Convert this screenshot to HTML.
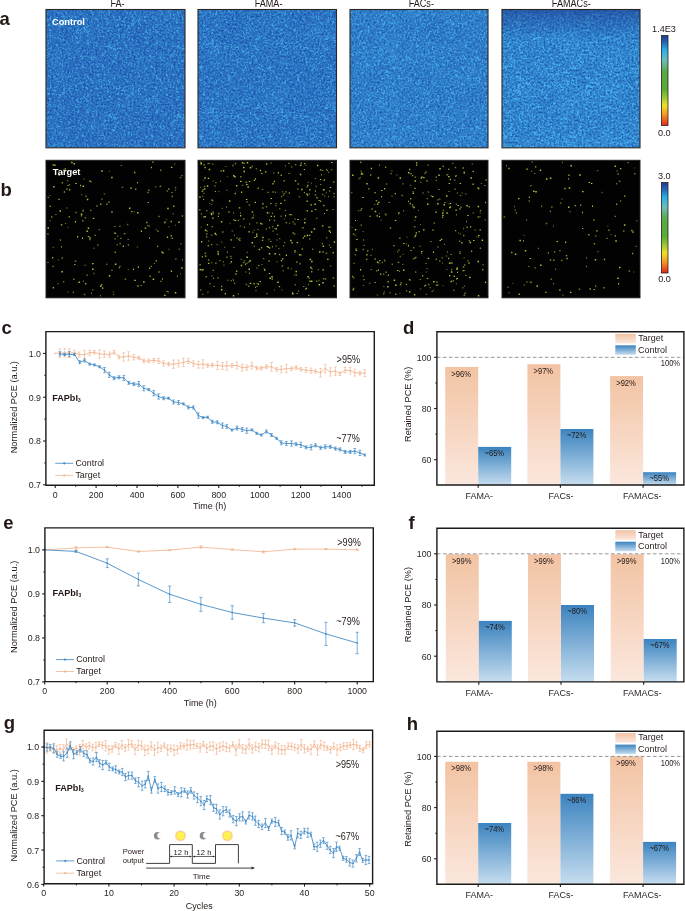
<!DOCTYPE html>
<html><head><meta charset="utf-8"><style>
html,body{margin:0;padding:0;background:#fff;}
body{width:685px;height:911px;overflow:hidden;}
svg{display:block;font-family:"Liberation Sans", sans-serif;filter:blur(0.35px);}
</style></head><body>
<svg width="685" height="911" viewBox="0 0 685 911">
<defs><filter id="na1" x="0" y="0" width="100%" height="100%" filterUnits="objectBoundingBox" color-interpolation-filters="sRGB"><feTurbulence type="fractalNoise" baseFrequency="0.5" numOctaves="2" seed="3" result="f0"/><feColorMatrix in="f0" type="matrix" values="1 0 0 0 0 1 0 0 0 0 1 0 0 0 0 0 0 0 0 1" result="f"/><feTurbulence type="fractalNoise" baseFrequency="0.045" numOctaves="2" seed="21" result="c0"/><feColorMatrix in="c0" type="matrix" values="1 0 0 0 0 1 0 0 0 0 1 0 0 0 0 0 0 0 0 1" result="c"/><feComposite in="f" in2="c" operator="arithmetic" k1="0" k2="0.88" k3="0.12" k4="0" result="n"/><feColorMatrix in="n" type="matrix" values="0.1961 0 0 0 0.0667 0.4706 0 0 0 0.1961 0.2941 0 0 0 0.6020 0 0 0 0 1"/></filter><filter id="na2" x="0" y="0" width="100%" height="100%" filterUnits="objectBoundingBox" color-interpolation-filters="sRGB"><feTurbulence type="fractalNoise" baseFrequency="0.5" numOctaves="2" seed="5" result="f0"/><feColorMatrix in="f0" type="matrix" values="1 0 0 0 0 1 0 0 0 0 1 0 0 0 0 0 0 0 0 1" result="f"/><feTurbulence type="fractalNoise" baseFrequency="0.045" numOctaves="2" seed="22" result="c0"/><feColorMatrix in="c0" type="matrix" values="1 0 0 0 0 1 0 0 0 0 1 0 0 0 0 0 0 0 0 1" result="c"/><feComposite in="f" in2="c" operator="arithmetic" k1="0" k2="0.88" k3="0.12" k4="0" result="n"/><feColorMatrix in="n" type="matrix" values="0.2157 0 0 0 0.0608 0.4902 0 0 0 0.1980 0.2941 0 0 0 0.6098 0 0 0 0 1"/></filter><filter id="na3" x="0" y="0" width="100%" height="100%" filterUnits="objectBoundingBox" color-interpolation-filters="sRGB"><feTurbulence type="fractalNoise" baseFrequency="0.5" numOctaves="2" seed="9" result="f0"/><feColorMatrix in="f0" type="matrix" values="1 0 0 0 0 1 0 0 0 0 1 0 0 0 0 0 0 0 0 1" result="f"/><feTurbulence type="fractalNoise" baseFrequency="0.045" numOctaves="2" seed="23" result="c0"/><feColorMatrix in="c0" type="matrix" values="1 0 0 0 0 1 0 0 0 0 1 0 0 0 0 0 0 0 0 1" result="c"/><feComposite in="f" in2="c" operator="arithmetic" k1="0" k2="0.88" k3="0.12" k4="0" result="n"/><feColorMatrix in="n" type="matrix" values="0.2353 0 0 0 0.0627 0.5098 0 0 0 0.2235 0.3137 0 0 0 0.6196 0 0 0 0 1"/></filter><filter id="na4" x="0" y="0" width="100%" height="100%" filterUnits="objectBoundingBox" color-interpolation-filters="sRGB"><feTurbulence type="fractalNoise" baseFrequency="0.5" numOctaves="2" seed="11" result="f0"/><feColorMatrix in="f0" type="matrix" values="1 0 0 0 0 1 0 0 0 0 1 0 0 0 0 0 0 0 0 1" result="f"/><feTurbulence type="fractalNoise" baseFrequency="0.045" numOctaves="2" seed="24" result="c0"/><feColorMatrix in="c0" type="matrix" values="1 0 0 0 0 1 0 0 0 0 1 0 0 0 0 0 0 0 0 1" result="c"/><feComposite in="f" in2="c" operator="arithmetic" k1="0" k2="0.88" k3="0.12" k4="0" result="n"/><feColorMatrix in="n" type="matrix" values="0.2745 0 0 0 0.0510 0.6078 0 0 0 0.2020 0.3725 0 0 0 0.6098 0 0 0 0 1"/></filter><pattern id="sp1" patternUnits="userSpaceOnUse" width="69" height="69"><path d="M7 0h1v1h-1zM22 0h1v1h-1zM50 0h1v1h-1zM6 1h1v1h-1zM21 1h2v1h-2zM35 1h1v1h-1zM50 1h1v1h-1zM3 2h1v1h-1zM62 2h1v1h-1zM3 3h1v1h-1zM37 3h1v1h-1zM15 4h1v1h-1zM22 4h1v1h-1zM30 4h1v1h-1zM35 4h1v1h-1zM54 4h1v1h-1zM58 4h1v1h-1zM61 4h1v1h-1zM8 5h2v1h-2zM15 5h2v1h-2zM31 5h2v1h-2zM35 5h1v1h-1zM38 5h1v1h-1zM61 5h1v1h-1zM1 6h1v1h-1zM9 6h1v1h-1zM15 6h1v1h-1zM43 6h1v1h-1zM45 6h2v1h-2zM49 6h1v1h-1zM61 6h1v1h-1zM68 6h1v1h-1zM0 7h1v1h-1zM4 7h1v1h-1zM9 7h1v1h-1zM40 7h1v1h-1zM50 7h1v1h-1zM53 7h1v1h-1zM55 7h1v1h-1zM63 7h1v1h-1zM66 7h1v1h-1zM3 8h1v1h-1zM10 8h1v1h-1zM18 8h1v1h-1zM30 8h1v1h-1zM66 8h2v1h-2zM10 9h1v1h-1zM20 9h1v1h-1zM22 9h1v1h-1zM54 9h1v1h-1zM62 9h1v1h-1zM2 10h1v1h-1zM19 10h1v1h-1zM30 10h1v1h-1zM40 10h1v1h-1zM45 10h1v1h-1zM55 10h1v1h-1zM62 10h1v1h-1zM11 11h1v1h-1zM30 11h1v1h-1zM34 11h2v1h-2zM46 11h1v1h-1zM50 11h1v1h-1zM5 12h1v1h-1zM13 12h1v1h-1zM17 12h1v1h-1zM23 12h2v1h-2zM29 12h1v1h-1zM40 12h1v1h-1zM59 12h1v1h-1zM12 13h1v1h-1zM22 13h2v1h-2zM28 13h1v1h-1zM40 13h1v1h-1zM47 13h1v1h-1zM58 13h1v1h-1zM60 13h1v1h-1zM9 14h3v1h-3zM35 14h1v1h-1zM63 14h1v1h-1zM1 15h1v1h-1zM29 15h2v1h-2zM32 15h1v1h-1zM40 15h1v1h-1zM43 15h1v1h-1zM63 15h1v1h-1zM7 16h1v1h-1zM64 16h1v1h-1zM67 16h1v1h-1zM1 17h2v1h-2zM13 17h1v1h-1zM21 17h1v1h-1zM26 17h1v1h-1zM32 17h1v1h-1zM62 17h2v1h-2zM65 17h1v1h-1zM11 18h1v1h-1zM18 18h1v1h-1zM27 18h1v1h-1zM36 18h1v1h-1zM44 18h3v1h-3zM51 18h1v1h-1zM54 18h1v1h-1zM56 18h1v1h-1zM4 19h1v1h-1zM17 19h1v1h-1zM28 19h1v1h-1zM36 19h1v1h-1zM38 19h1v1h-1zM45 19h1v1h-1zM48 19h2v1h-2zM54 19h1v1h-1zM59 19h1v1h-1zM63 19h1v1h-1zM38 20h2v1h-2zM48 20h1v1h-1zM54 20h1v1h-1zM64 20h1v1h-1zM8 21h1v1h-1zM37 21h2v1h-2zM52 21h1v1h-1zM59 21h1v1h-1zM63 21h2v1h-2zM66 21h2v1h-2zM0 22h1v1h-1zM15 22h1v1h-1zM20 22h1v1h-1zM23 22h1v1h-1zM25 22h1v1h-1zM35 22h1v1h-1zM42 22h1v1h-1zM63 22h1v1h-1zM66 22h1v1h-1zM1 23h1v1h-1zM38 23h2v1h-2zM44 23h1v1h-1zM49 23h1v1h-1zM61 23h1v1h-1zM63 23h1v1h-1zM15 24h1v1h-1zM24 24h1v1h-1zM62 24h1v1h-1zM8 25h1v1h-1zM16 25h1v1h-1zM28 25h2v1h-2zM38 25h1v1h-1zM47 25h1v1h-1zM55 25h1v1h-1zM59 25h2v1h-2zM63 25h1v1h-1zM8 26h1v1h-1zM15 26h1v1h-1zM19 26h1v1h-1zM22 26h1v1h-1zM28 26h1v1h-1zM33 26h1v1h-1zM64 26h1v1h-1zM18 27h1v1h-1zM32 27h1v1h-1zM39 27h1v1h-1zM59 27h2v1h-2zM66 27h1v1h-1zM0 28h2v1h-2zM4 28h1v1h-1zM24 28h1v1h-1zM29 28h1v1h-1zM42 28h1v1h-1zM59 28h1v1h-1zM12 29h1v1h-1zM15 29h1v1h-1zM21 29h1v1h-1zM27 29h1v1h-1zM30 29h2v1h-2zM48 29h1v1h-1zM58 29h1v1h-1zM64 29h1v1h-1zM7 30h1v1h-1zM40 30h1v1h-1zM50 30h1v1h-1zM8 31h1v1h-1zM12 31h1v1h-1zM14 31h1v1h-1zM17 31h2v1h-2zM20 31h1v1h-1zM38 31h1v1h-1zM43 31h1v1h-1zM57 31h1v1h-1zM59 31h1v1h-1zM11 32h2v1h-2zM17 32h1v1h-1zM19 32h1v1h-1zM60 32h1v1h-1zM1 33h1v1h-1zM5 33h1v1h-1zM9 33h3v1h-3zM13 33h1v1h-1zM19 33h1v1h-1zM21 33h1v1h-1zM46 33h1v1h-1zM49 33h2v1h-2zM54 33h1v1h-1zM56 33h1v1h-1zM5 34h1v1h-1zM11 34h1v1h-1zM21 34h3v1h-3zM43 34h1v1h-1zM47 34h1v1h-1zM49 34h1v1h-1zM63 34h1v1h-1zM2 35h1v1h-1zM6 35h1v1h-1zM34 35h1v1h-1zM48 35h1v1h-1zM58 35h3v1h-3zM63 35h1v1h-1zM6 36h1v1h-1zM16 36h1v1h-1zM18 36h1v1h-1zM29 36h1v1h-1zM31 36h1v1h-1zM33 36h1v1h-1zM35 36h1v1h-1zM52 36h2v1h-2zM55 36h1v1h-1zM58 36h1v1h-1zM61 36h1v1h-1zM10 37h1v1h-1zM20 37h1v1h-1zM34 37h1v1h-1zM55 37h1v1h-1zM57 37h2v1h-2zM0 38h1v1h-1zM8 38h1v1h-1zM10 38h1v1h-1zM34 38h1v1h-1zM36 38h1v1h-1zM44 38h1v1h-1zM63 38h1v1h-1zM68 38h1v1h-1zM16 39h1v1h-1zM20 39h1v1h-1zM42 39h1v1h-1zM62 39h1v1h-1zM3 40h1v1h-1zM13 40h1v1h-1zM18 40h1v1h-1zM48 40h1v1h-1zM63 40h1v1h-1zM67 40h1v1h-1zM3 41h1v1h-1zM8 41h1v1h-1zM18 41h1v1h-1zM20 41h2v1h-2zM42 41h1v1h-1zM55 41h1v1h-1zM61 41h1v1h-1zM67 41h1v1h-1zM6 42h3v1h-3zM10 42h1v1h-1zM24 42h2v1h-2zM27 42h1v1h-1zM32 42h1v1h-1zM54 42h1v1h-1zM17 43h1v1h-1zM27 43h2v1h-2zM31 43h1v1h-1zM35 43h1v1h-1zM56 43h1v1h-1zM66 43h3v1h-3zM0 44h1v1h-1zM4 44h1v1h-1zM25 44h1v1h-1zM27 44h2v1h-2zM35 44h1v1h-1zM7 45h1v1h-1zM19 45h1v1h-1zM44 45h2v1h-2zM57 45h2v1h-2zM63 45h1v1h-1zM5 46h1v1h-1zM17 46h1v1h-1zM24 46h1v1h-1zM27 46h1v1h-1zM35 46h1v1h-1zM37 46h1v1h-1zM41 46h1v1h-1zM39 47h2v1h-2zM57 47h1v1h-1zM10 48h2v1h-2zM25 48h1v1h-1zM30 48h1v1h-1zM33 48h1v1h-1zM38 48h2v1h-2zM41 48h1v1h-1zM50 48h1v1h-1zM62 48h2v1h-2zM1 49h1v1h-1zM18 49h1v1h-1zM30 49h1v1h-1zM39 49h1v1h-1zM45 49h1v1h-1zM5 50h1v1h-1zM30 50h1v1h-1zM36 50h1v1h-1zM43 50h1v1h-1zM9 51h1v1h-1zM13 51h1v1h-1zM16 51h1v1h-1zM25 51h1v1h-1zM37 51h1v1h-1zM49 51h1v1h-1zM3 52h1v1h-1zM14 52h1v1h-1zM25 52h1v1h-1zM35 52h1v1h-1zM49 52h1v1h-1zM67 52h1v1h-1zM8 53h1v1h-1zM12 53h1v1h-1zM34 53h2v1h-2zM61 53h1v1h-1zM5 54h1v1h-1zM11 54h1v1h-1zM23 54h1v1h-1zM32 54h1v1h-1zM46 54h1v1h-1zM48 54h2v1h-2zM65 54h2v1h-2zM11 55h1v1h-1zM22 55h1v1h-1zM30 55h1v1h-1zM32 55h2v1h-2zM41 55h2v1h-2zM47 55h1v1h-1zM68 55h1v1h-1zM25 56h1v1h-1zM33 56h1v1h-1zM40 56h1v1h-1zM56 56h2v1h-2zM3 57h2v1h-2zM6 57h1v1h-1zM26 57h1v1h-1zM32 57h1v1h-1zM40 57h1v1h-1zM47 57h1v1h-1zM52 57h2v1h-2zM1 58h2v1h-2zM9 58h1v1h-1zM13 58h2v1h-2zM16 58h1v1h-1zM23 58h1v1h-1zM26 58h1v1h-1zM29 58h1v1h-1zM52 58h1v1h-1zM56 58h1v1h-1zM2 59h1v1h-1zM5 59h1v1h-1zM11 59h2v1h-2zM22 59h2v1h-2zM29 59h1v1h-1zM37 59h1v1h-1zM50 59h1v1h-1zM57 59h1v1h-1zM4 60h1v1h-1zM23 60h1v1h-1zM25 60h1v1h-1zM36 60h1v1h-1zM42 60h1v1h-1zM45 60h1v1h-1zM55 60h1v1h-1zM1 61h1v1h-1zM19 61h2v1h-2zM22 61h1v1h-1zM55 61h1v1h-1zM68 61h1v1h-1zM43 62h2v1h-2zM57 62h1v1h-1zM60 62h1v1h-1zM67 62h2v1h-2zM24 63h1v1h-1zM30 63h1v1h-1zM32 63h1v1h-1zM41 63h1v1h-1zM53 63h1v1h-1zM65 63h1v1h-1zM27 64h1v1h-1zM33 64h2v1h-2zM42 64h1v1h-1zM52 64h1v1h-1zM55 64h1v1h-1zM60 64h1v1h-1zM62 64h1v1h-1zM28 65h1v1h-1zM34 65h1v1h-1zM48 65h1v1h-1zM54 65h1v1h-1zM58 65h2v1h-2zM12 66h1v1h-1zM25 66h1v1h-1zM28 66h2v1h-2zM31 66h2v1h-2zM52 66h1v1h-1zM56 66h1v1h-1zM68 66h1v1h-1zM7 67h3v1h-3zM15 67h2v1h-2zM52 67h1v1h-1zM4 68h1v1h-1zM33 68h1v1h-1zM35 68h1v1h-1zM38 68h1v1h-1zM60 68h1v1h-1z" fill="rgb(70, 178, 232)" fill-opacity="0.385"/><path d="M30 0h1v1h-1zM33 0h1v1h-1zM39 1h1v1h-1zM55 1h1v1h-1zM17 2h1v1h-1zM28 2h1v1h-1zM45 2h1v1h-1zM63 2h1v1h-1zM0 3h1v1h-1zM66 3h1v1h-1zM0 4h1v1h-1zM25 5h1v1h-1zM28 5h1v1h-1zM36 5h1v1h-1zM58 5h1v1h-1zM16 6h1v1h-1zM18 6h1v1h-1zM28 6h2v1h-2zM35 6h1v1h-1zM48 6h1v1h-1zM1 7h1v1h-1zM18 7h1v1h-1zM29 7h1v1h-1zM41 7h1v1h-1zM54 7h1v1h-1zM62 7h1v1h-1zM15 8h1v1h-1zM19 8h1v1h-1zM45 8h1v1h-1zM50 8h1v1h-1zM53 8h1v1h-1zM58 8h1v1h-1zM68 8h1v1h-1zM6 9h2v1h-2zM19 9h1v1h-1zM45 9h1v1h-1zM21 10h2v1h-2zM31 10h1v1h-1zM56 10h1v1h-1zM8 11h1v1h-1zM22 11h1v1h-1zM39 11h1v1h-1zM30 12h1v1h-1zM32 12h1v1h-1zM39 12h1v1h-1zM41 12h1v1h-1zM57 12h2v1h-2zM61 12h1v1h-1zM66 12h1v1h-1zM14 13h1v1h-1zM12 14h1v1h-1zM18 14h1v1h-1zM23 14h2v1h-2zM40 14h1v1h-1zM54 14h1v1h-1zM66 14h1v1h-1zM35 15h1v1h-1zM0 16h1v1h-1zM6 16h1v1h-1zM32 16h1v1h-1zM44 16h1v1h-1zM50 16h1v1h-1zM61 16h1v1h-1zM63 16h1v1h-1zM6 17h2v1h-2zM44 17h1v1h-1zM50 17h1v1h-1zM56 17h2v1h-2zM14 18h1v1h-1zM16 18h2v1h-2zM32 18h1v1h-1zM35 18h1v1h-1zM38 18h1v1h-1zM50 18h1v1h-1zM55 18h1v1h-1zM64 18h1v1h-1zM0 19h2v1h-2zM18 19h1v1h-1zM26 19h2v1h-2zM29 19h1v1h-1zM44 19h1v1h-1zM47 19h1v1h-1zM50 19h1v1h-1zM64 19h1v1h-1zM0 20h1v1h-1zM6 20h2v1h-2zM18 20h1v1h-1zM22 20h1v1h-1zM28 20h1v1h-1zM47 20h1v1h-1zM63 20h1v1h-1zM0 21h1v1h-1zM7 21h1v1h-1zM22 21h1v1h-1zM53 21h3v1h-3zM1 22h1v1h-1zM38 22h2v1h-2zM46 22h1v1h-1zM55 22h1v1h-1zM8 23h1v1h-1zM31 23h1v1h-1zM62 23h1v1h-1zM64 23h1v1h-1zM2 24h1v1h-1zM18 24h1v1h-1zM28 24h1v1h-1zM48 24h2v1h-2zM52 24h2v1h-2zM63 24h2v1h-2zM2 25h1v1h-1zM19 25h1v1h-1zM46 25h1v1h-1zM48 25h2v1h-2zM52 25h1v1h-1zM56 25h1v1h-1zM58 25h1v1h-1zM62 25h1v1h-1zM18 26h1v1h-1zM29 26h1v1h-1zM59 26h2v1h-2zM0 27h1v1h-1zM14 27h2v1h-2zM17 27h1v1h-1zM33 27h1v1h-1zM40 27h2v1h-2zM15 28h1v1h-1zM36 28h1v1h-1zM40 28h1v1h-1zM58 28h1v1h-1zM8 29h1v1h-1zM11 29h1v1h-1zM16 29h1v1h-1zM49 29h2v1h-2zM8 30h1v1h-1zM11 30h1v1h-1zM17 30h1v1h-1zM30 30h1v1h-1zM38 30h2v1h-2zM42 30h1v1h-1zM49 30h1v1h-1zM7 31h1v1h-1zM15 31h1v1h-1zM19 31h1v1h-1zM33 31h1v1h-1zM39 31h1v1h-1zM63 31h1v1h-1zM8 32h2v1h-2zM18 32h1v1h-1zM30 32h1v1h-1zM59 32h1v1h-1zM4 33h1v1h-1zM42 33h1v1h-1zM28 34h1v1h-1zM18 35h1v1h-1zM49 35h2v1h-2zM53 35h1v1h-1zM3 36h1v1h-1zM28 36h1v1h-1zM34 36h1v1h-1zM41 36h1v1h-1zM45 36h1v1h-1zM50 36h1v1h-1zM6 37h3v1h-3zM11 37h1v1h-1zM47 37h1v1h-1zM50 37h1v1h-1zM54 37h1v1h-1zM7 38h1v1h-1zM25 38h1v1h-1zM60 38h1v1h-1zM60 39h1v1h-1zM63 39h1v1h-1zM19 40h1v1h-1zM9 41h1v1h-1zM9 42h1v1h-1zM18 42h2v1h-2zM23 42h1v1h-1zM40 42h1v1h-1zM48 42h1v1h-1zM8 43h2v1h-2zM18 43h2v1h-2zM48 43h1v1h-1zM17 44h1v1h-1zM41 44h1v1h-1zM47 44h1v1h-1zM57 44h1v1h-1zM13 45h1v1h-1zM27 45h1v1h-1zM33 45h1v1h-1zM39 45h2v1h-2zM56 45h1v1h-1zM64 45h1v1h-1zM36 46h1v1h-1zM39 46h2v1h-2zM45 46h1v1h-1zM24 47h1v1h-1zM41 47h2v1h-2zM51 47h1v1h-1zM60 47h1v1h-1zM9 48h1v1h-1zM42 48h1v1h-1zM44 48h3v1h-3zM48 48h1v1h-1zM51 48h1v1h-1zM31 49h1v1h-1zM44 49h1v1h-1zM46 49h2v1h-2zM54 49h1v1h-1zM65 49h1v1h-1zM1 50h1v1h-1zM46 50h1v1h-1zM60 50h1v1h-1zM10 51h1v1h-1zM36 51h1v1h-1zM39 51h1v1h-1zM18 52h1v1h-1zM36 52h1v1h-1zM60 52h2v1h-2zM68 52h1v1h-1zM0 53h1v1h-1zM18 53h1v1h-1zM23 53h1v1h-1zM48 53h1v1h-1zM0 54h1v1h-1zM33 54h1v1h-1zM55 54h1v1h-1zM12 55h1v1h-1zM34 55h1v1h-1zM38 55h1v1h-1zM44 55h1v1h-1zM46 55h1v1h-1zM61 55h1v1h-1zM11 56h2v1h-2zM15 56h1v1h-1zM22 56h1v1h-1zM35 56h1v1h-1zM5 57h1v1h-1zM13 57h1v1h-1zM21 57h2v1h-2zM24 57h2v1h-2zM46 57h1v1h-1zM57 57h3v1h-3zM0 58h1v1h-1zM22 58h1v1h-1zM45 58h2v1h-2zM68 58h1v1h-1zM24 59h1v1h-1zM36 59h1v1h-1zM51 59h1v1h-1zM10 60h1v1h-1zM43 60h2v1h-2zM11 61h1v1h-1zM44 61h2v1h-2zM55 62h1v1h-1zM29 63h1v1h-1zM40 63h1v1h-1zM47 63h1v1h-1zM60 63h1v1h-1zM62 63h1v1h-1zM23 64h1v1h-1zM59 64h1v1h-1zM6 65h1v1h-1zM13 65h1v1h-1zM33 65h1v1h-1zM62 65h1v1h-1zM65 65h1v1h-1zM13 66h2v1h-2zM33 66h2v1h-2zM62 66h1v1h-1zM13 67h2v1h-2zM35 67h1v1h-1zM7 68h2v1h-2zM39 68h1v1h-1zM53 68h1v1h-1zM67 68h1v1h-1z" fill="rgb(70, 178, 232)" fill-opacity="0.7"/></pattern><pattern id="sp2" patternUnits="userSpaceOnUse" width="69" height="69"><path d="M5 0h1v1h-1zM26 0h1v1h-1zM36 0h2v1h-2zM53 0h1v1h-1zM63 0h1v1h-1zM8 1h1v1h-1zM19 1h1v1h-1zM21 1h1v1h-1zM34 1h1v1h-1zM48 1h1v1h-1zM55 1h1v1h-1zM62 1h1v1h-1zM67 1h1v1h-1zM9 2h1v1h-1zM13 2h1v1h-1zM19 2h2v1h-2zM36 2h1v1h-1zM6 3h1v1h-1zM14 3h1v1h-1zM18 3h1v1h-1zM28 3h1v1h-1zM49 3h2v1h-2zM2 4h1v1h-1zM6 4h1v1h-1zM14 4h1v1h-1zM17 4h1v1h-1zM24 4h1v1h-1zM28 4h2v1h-2zM50 4h1v1h-1zM57 4h1v1h-1zM3 5h2v1h-2zM7 5h1v1h-1zM9 5h1v1h-1zM20 5h1v1h-1zM22 5h1v1h-1zM41 5h1v1h-1zM53 5h1v1h-1zM23 6h1v1h-1zM37 6h1v1h-1zM47 6h1v1h-1zM56 6h1v1h-1zM1 7h1v1h-1zM23 7h2v1h-2zM51 7h1v1h-1zM68 7h1v1h-1zM13 8h1v1h-1zM18 8h1v1h-1zM37 8h1v1h-1zM43 8h1v1h-1zM51 8h1v1h-1zM58 8h1v1h-1zM68 8h1v1h-1zM11 9h1v1h-1zM37 9h1v1h-1zM41 9h2v1h-2zM45 9h1v1h-1zM58 9h1v1h-1zM63 9h1v1h-1zM1 10h1v1h-1zM11 10h2v1h-2zM31 10h1v1h-1zM33 10h1v1h-1zM46 10h1v1h-1zM57 10h1v1h-1zM2 11h2v1h-2zM21 11h1v1h-1zM23 11h1v1h-1zM32 11h1v1h-1zM44 11h1v1h-1zM56 11h1v1h-1zM1 12h1v1h-1zM14 12h2v1h-2zM23 12h2v1h-2zM27 12h1v1h-1zM56 12h1v1h-1zM6 13h3v1h-3zM14 13h1v1h-1zM23 13h1v1h-1zM43 13h1v1h-1zM48 13h2v1h-2zM54 13h1v1h-1zM63 13h1v1h-1zM67 13h1v1h-1zM5 14h2v1h-2zM8 14h1v1h-1zM20 14h1v1h-1zM27 14h1v1h-1zM37 14h1v1h-1zM55 14h1v1h-1zM63 14h1v1h-1zM67 14h2v1h-2zM6 15h1v1h-1zM8 15h1v1h-1zM40 15h1v1h-1zM65 15h1v1h-1zM47 16h1v1h-1zM62 16h1v1h-1zM1 17h1v1h-1zM28 17h1v1h-1zM36 17h1v1h-1zM52 17h1v1h-1zM54 17h1v1h-1zM12 18h1v1h-1zM35 18h1v1h-1zM43 18h1v1h-1zM45 18h1v1h-1zM52 18h1v1h-1zM54 18h1v1h-1zM58 18h1v1h-1zM7 19h1v1h-1zM16 19h1v1h-1zM45 19h1v1h-1zM51 19h1v1h-1zM0 20h1v1h-1zM29 20h1v1h-1zM43 20h1v1h-1zM51 20h2v1h-2zM68 20h1v1h-1zM9 21h1v1h-1zM51 21h1v1h-1zM66 21h1v1h-1zM6 22h2v1h-2zM11 22h1v1h-1zM21 22h1v1h-1zM30 22h1v1h-1zM39 22h2v1h-2zM49 22h1v1h-1zM53 22h1v1h-1zM62 22h1v1h-1zM56 23h1v1h-1zM65 23h1v1h-1zM38 24h2v1h-2zM42 24h1v1h-1zM45 24h1v1h-1zM56 24h1v1h-1zM2 25h1v1h-1zM8 25h2v1h-2zM39 25h1v1h-1zM55 25h1v1h-1zM59 25h1v1h-1zM64 25h1v1h-1zM68 25h1v1h-1zM11 26h1v1h-1zM15 26h1v1h-1zM28 26h1v1h-1zM30 26h1v1h-1zM33 26h1v1h-1zM50 26h1v1h-1zM60 26h1v1h-1zM65 26h1v1h-1zM11 27h1v1h-1zM20 27h1v1h-1zM26 27h1v1h-1zM29 27h2v1h-2zM39 27h1v1h-1zM60 27h1v1h-1zM63 27h1v1h-1zM0 28h2v1h-2zM19 28h1v1h-1zM31 28h1v1h-1zM59 28h1v1h-1zM62 28h1v1h-1zM65 28h1v1h-1zM67 28h2v1h-2zM4 29h1v1h-1zM17 29h2v1h-2zM39 29h1v1h-1zM42 29h2v1h-2zM48 29h2v1h-2zM56 29h1v1h-1zM61 29h1v1h-1zM68 29h1v1h-1zM3 30h2v1h-2zM6 30h1v1h-1zM17 30h1v1h-1zM19 30h2v1h-2zM34 30h2v1h-2zM38 30h1v1h-1zM43 30h1v1h-1zM46 30h1v1h-1zM50 30h1v1h-1zM59 30h1v1h-1zM68 30h1v1h-1zM3 31h1v1h-1zM19 31h1v1h-1zM21 31h1v1h-1zM28 31h1v1h-1zM32 31h1v1h-1zM44 31h1v1h-1zM61 31h1v1h-1zM11 32h1v1h-1zM14 32h1v1h-1zM39 32h2v1h-2zM58 32h1v1h-1zM5 33h2v1h-2zM21 33h1v1h-1zM24 33h1v1h-1zM30 33h2v1h-2zM37 33h1v1h-1zM39 33h1v1h-1zM51 33h2v1h-2zM57 33h1v1h-1zM1 34h1v1h-1zM4 34h1v1h-1zM10 34h2v1h-2zM15 34h1v1h-1zM27 34h3v1h-3zM52 34h1v1h-1zM56 34h4v1h-4zM66 34h1v1h-1zM23 35h1v1h-1zM28 35h2v1h-2zM32 35h2v1h-2zM37 35h1v1h-1zM50 35h2v1h-2zM54 35h1v1h-1zM56 35h1v1h-1zM60 35h1v1h-1zM57 36h1v1h-1zM62 36h1v1h-1zM66 36h1v1h-1zM8 37h1v1h-1zM27 37h1v1h-1zM31 37h1v1h-1zM38 37h1v1h-1zM56 37h2v1h-2zM2 38h1v1h-1zM4 38h1v1h-1zM45 38h1v1h-1zM52 38h2v1h-2zM57 38h3v1h-3zM64 38h1v1h-1zM6 39h2v1h-2zM14 39h1v1h-1zM21 39h1v1h-1zM36 39h1v1h-1zM41 39h1v1h-1zM44 39h1v1h-1zM50 39h1v1h-1zM1 40h1v1h-1zM4 40h1v1h-1zM9 40h1v1h-1zM24 40h1v1h-1zM56 40h2v1h-2zM1 41h2v1h-2zM4 41h1v1h-1zM20 41h1v1h-1zM3 42h1v1h-1zM9 42h1v1h-1zM25 42h1v1h-1zM48 42h1v1h-1zM61 42h2v1h-2zM67 42h1v1h-1zM3 43h1v1h-1zM9 43h1v1h-1zM14 43h1v1h-1zM61 43h1v1h-1zM64 43h2v1h-2zM13 44h1v1h-1zM26 44h1v1h-1zM33 44h1v1h-1zM36 44h1v1h-1zM5 45h2v1h-2zM10 45h2v1h-2zM18 45h1v1h-1zM24 45h1v1h-1zM32 45h1v1h-1zM39 45h1v1h-1zM43 45h1v1h-1zM46 45h1v1h-1zM48 45h1v1h-1zM59 45h1v1h-1zM62 45h1v1h-1zM4 46h1v1h-1zM13 46h2v1h-2zM17 46h1v1h-1zM60 46h1v1h-1zM64 46h1v1h-1zM67 46h1v1h-1zM0 47h1v1h-1zM12 47h1v1h-1zM17 47h3v1h-3zM27 47h1v1h-1zM48 47h1v1h-1zM9 48h1v1h-1zM17 48h1v1h-1zM24 48h1v1h-1zM28 48h1v1h-1zM34 48h1v1h-1zM37 48h1v1h-1zM43 48h1v1h-1zM6 49h1v1h-1zM11 49h1v1h-1zM25 49h2v1h-2zM31 49h2v1h-2zM39 49h1v1h-1zM52 49h1v1h-1zM60 49h1v1h-1zM7 50h2v1h-2zM11 50h1v1h-1zM18 50h1v1h-1zM34 50h1v1h-1zM44 50h1v1h-1zM51 50h1v1h-1zM2 51h1v1h-1zM7 51h1v1h-1zM35 51h1v1h-1zM37 51h1v1h-1zM17 52h2v1h-2zM23 52h1v1h-1zM37 52h1v1h-1zM45 52h1v1h-1zM3 53h1v1h-1zM6 53h1v1h-1zM9 53h1v1h-1zM22 53h1v1h-1zM27 53h2v1h-2zM39 53h1v1h-1zM63 53h1v1h-1zM67 53h1v1h-1zM9 54h1v1h-1zM21 54h1v1h-1zM25 54h1v1h-1zM38 54h1v1h-1zM0 55h1v1h-1zM8 55h2v1h-2zM23 55h2v1h-2zM29 55h1v1h-1zM42 55h1v1h-1zM46 55h1v1h-1zM66 55h1v1h-1zM0 56h1v1h-1zM45 56h1v1h-1zM56 56h1v1h-1zM61 56h1v1h-1zM63 56h1v1h-1zM66 56h1v1h-1zM18 57h1v1h-1zM60 57h1v1h-1zM65 57h1v1h-1zM4 58h2v1h-2zM12 58h1v1h-1zM34 58h3v1h-3zM49 58h1v1h-1zM56 58h1v1h-1zM13 59h1v1h-1zM19 59h1v1h-1zM29 59h2v1h-2zM47 59h1v1h-1zM49 59h1v1h-1zM60 59h1v1h-1zM0 60h1v1h-1zM29 60h1v1h-1zM33 60h1v1h-1zM47 60h1v1h-1zM50 60h1v1h-1zM65 60h1v1h-1zM6 61h1v1h-1zM22 61h1v1h-1zM30 61h4v1h-4zM40 61h1v1h-1zM48 61h1v1h-1zM9 62h2v1h-2zM14 62h1v1h-1zM17 62h1v1h-1zM29 62h1v1h-1zM53 62h1v1h-1zM62 62h1v1h-1zM4 63h1v1h-1zM8 63h4v1h-4zM17 63h1v1h-1zM30 63h1v1h-1zM61 63h1v1h-1zM5 64h1v1h-1zM8 64h1v1h-1zM11 64h1v1h-1zM13 64h1v1h-1zM19 64h1v1h-1zM30 64h1v1h-1zM37 64h1v1h-1zM63 64h1v1h-1zM3 65h1v1h-1zM10 65h1v1h-1zM13 65h1v1h-1zM34 65h4v1h-4zM40 65h1v1h-1zM63 65h1v1h-1zM68 65h1v1h-1zM30 66h1v1h-1zM52 66h1v1h-1zM63 66h1v1h-1zM68 66h1v1h-1zM5 67h1v1h-1zM10 67h1v1h-1zM16 67h1v1h-1zM26 67h1v1h-1zM40 67h1v1h-1zM48 67h1v1h-1zM52 67h1v1h-1zM65 67h1v1h-1zM9 68h1v1h-1zM19 68h1v1h-1zM25 68h1v1h-1zM39 68h1v1h-1zM50 68h1v1h-1zM54 68h2v1h-2zM60 68h1v1h-1z" fill="rgb(70, 178, 232)" fill-opacity="0.385"/><path d="M4 0h1v1h-1zM41 0h1v1h-1zM55 0h2v1h-2zM35 1h2v1h-2zM39 1h1v1h-1zM63 1h1v1h-1zM57 2h1v1h-1zM66 2h1v1h-1zM13 3h1v1h-1zM24 3h3v1h-3zM66 3h1v1h-1zM15 4h1v1h-1zM43 4h1v1h-1zM64 4h1v1h-1zM47 5h1v1h-1zM56 5h1v1h-1zM15 6h1v1h-1zM20 6h1v1h-1zM22 6h1v1h-1zM27 6h1v1h-1zM58 6h1v1h-1zM0 7h1v1h-1zM21 7h1v1h-1zM34 7h1v1h-1zM50 7h1v1h-1zM52 7h2v1h-2zM0 8h1v1h-1zM21 8h2v1h-2zM36 8h1v1h-1zM52 8h1v1h-1zM1 9h1v1h-1zM3 9h2v1h-2zM21 9h2v1h-2zM46 9h1v1h-1zM55 9h1v1h-1zM66 9h1v1h-1zM21 10h2v1h-2zM34 10h1v1h-1zM56 10h1v1h-1zM61 10h2v1h-2zM9 11h1v1h-1zM22 11h1v1h-1zM62 11h1v1h-1zM2 12h1v1h-1zM9 12h1v1h-1zM49 12h1v1h-1zM51 12h2v1h-2zM54 12h1v1h-1zM9 13h1v1h-1zM15 13h1v1h-1zM37 13h1v1h-1zM55 13h1v1h-1zM9 14h1v1h-1zM42 14h1v1h-1zM19 15h1v1h-1zM55 15h1v1h-1zM66 15h1v1h-1zM40 16h1v1h-1zM42 16h1v1h-1zM2 17h1v1h-1zM37 17h1v1h-1zM40 17h1v1h-1zM27 18h1v1h-1zM42 18h1v1h-1zM11 19h1v1h-1zM17 19h2v1h-2zM27 19h2v1h-2zM42 19h1v1h-1zM52 19h1v1h-1zM59 19h2v1h-2zM8 20h1v1h-1zM50 20h1v1h-1zM57 20h1v1h-1zM65 20h1v1h-1zM13 21h1v1h-1zM19 21h1v1h-1zM57 21h1v1h-1zM5 22h1v1h-1zM19 22h1v1h-1zM24 22h1v1h-1zM52 22h1v1h-1zM56 22h2v1h-2zM66 22h1v1h-1zM2 23h1v1h-1zM44 23h2v1h-2zM9 24h2v1h-2zM65 24h1v1h-1zM10 25h1v1h-1zM26 25h1v1h-1zM65 25h2v1h-2zM59 26h1v1h-1zM66 26h1v1h-1zM36 27h1v1h-1zM47 27h1v1h-1zM42 28h1v1h-1zM0 29h1v1h-1zM5 29h2v1h-2zM19 29h1v1h-1zM46 29h1v1h-1zM53 29h1v1h-1zM5 30h1v1h-1zM18 30h1v1h-1zM24 30h1v1h-1zM39 30h2v1h-2zM35 31h1v1h-1zM65 31h1v1h-1zM5 32h1v1h-1zM21 32h1v1h-1zM36 32h1v1h-1zM4 33h1v1h-1zM36 33h1v1h-1zM41 33h1v1h-1zM65 33h1v1h-1zM12 34h2v1h-2zM65 34h1v1h-1zM34 35h1v1h-1zM43 35h1v1h-1zM9 36h1v1h-1zM20 36h1v1h-1zM34 36h1v1h-1zM40 36h1v1h-1zM42 36h1v1h-1zM50 36h2v1h-2zM54 36h1v1h-1zM16 37h1v1h-1zM37 37h1v1h-1zM52 37h1v1h-1zM58 37h1v1h-1zM66 37h2v1h-2zM30 38h1v1h-1zM37 38h1v1h-1zM49 38h3v1h-3zM5 39h1v1h-1zM29 39h1v1h-1zM48 39h2v1h-2zM51 39h1v1h-1zM62 39h1v1h-1zM0 40h1v1h-1zM5 40h2v1h-2zM58 40h2v1h-2zM6 41h1v1h-1zM21 41h1v1h-1zM27 41h1v1h-1zM67 41h1v1h-1zM5 42h2v1h-2zM59 42h2v1h-2zM1 43h2v1h-2zM4 43h3v1h-3zM13 43h1v1h-1zM15 43h1v1h-1zM17 43h2v1h-2zM43 43h1v1h-1zM66 43h1v1h-1zM0 44h2v1h-2zM23 44h2v1h-2zM43 44h1v1h-1zM65 44h1v1h-1zM45 45h1v1h-1zM47 45h1v1h-1zM58 45h1v1h-1zM6 46h1v1h-1zM8 46h3v1h-3zM20 46h2v1h-2zM24 46h2v1h-2zM30 46h1v1h-1zM47 46h2v1h-2zM61 46h1v1h-1zM7 47h2v1h-2zM24 47h1v1h-1zM28 47h4v1h-4zM51 47h1v1h-1zM56 47h1v1h-1zM63 47h1v1h-1zM68 47h1v1h-1zM10 48h1v1h-1zM18 48h1v1h-1zM20 48h1v1h-1zM31 48h1v1h-1zM40 48h1v1h-1zM48 48h2v1h-2zM10 49h1v1h-1zM27 49h1v1h-1zM49 49h3v1h-3zM64 49h1v1h-1zM35 50h2v1h-2zM50 50h1v1h-1zM4 51h2v1h-2zM11 51h1v1h-1zM36 51h1v1h-1zM41 51h1v1h-1zM3 52h2v1h-2zM11 52h1v1h-1zM26 52h2v1h-2zM39 52h3v1h-3zM4 53h1v1h-1zM11 53h1v1h-1zM38 53h1v1h-1zM44 53h2v1h-2zM49 53h1v1h-1zM53 53h1v1h-1zM68 53h1v1h-1zM8 54h1v1h-1zM22 54h1v1h-1zM28 54h1v1h-1zM45 55h1v1h-1zM47 55h1v1h-1zM18 56h1v1h-1zM29 56h1v1h-1zM44 56h1v1h-1zM48 56h1v1h-1zM55 56h1v1h-1zM60 56h1v1h-1zM44 57h1v1h-1zM55 57h1v1h-1zM64 57h1v1h-1zM6 58h1v1h-1zM29 58h1v1h-1zM31 58h1v1h-1zM7 59h1v1h-1zM26 59h1v1h-1zM34 59h1v1h-1zM37 59h1v1h-1zM39 59h2v1h-2zM23 60h1v1h-1zM30 60h1v1h-1zM48 60h2v1h-2zM60 60h1v1h-1zM60 61h1v1h-1zM5 62h1v1h-1zM30 62h2v1h-2zM40 62h1v1h-1zM43 62h2v1h-2zM7 63h1v1h-1zM12 63h1v1h-1zM22 63h1v1h-1zM42 63h2v1h-2zM10 64h1v1h-1zM34 64h1v1h-1zM52 64h1v1h-1zM30 65h1v1h-1zM54 65h1v1h-1zM38 66h1v1h-1zM54 66h2v1h-2zM62 66h1v1h-1zM38 67h1v1h-1zM50 67h2v1h-2zM61 67h4v1h-4zM10 68h2v1h-2zM16 68h1v1h-1zM20 68h1v1h-1zM37 68h2v1h-2zM44 68h2v1h-2zM52 68h1v1h-1zM59 68h1v1h-1zM62 68h2v1h-2z" fill="rgb(70, 178, 232)" fill-opacity="0.7"/></pattern><pattern id="sp3" patternUnits="userSpaceOnUse" width="69" height="69"><path d="M18 0h1v1h-1zM21 0h1v1h-1zM25 0h1v1h-1zM46 0h1v1h-1zM53 0h1v1h-1zM59 0h1v1h-1zM7 1h1v1h-1zM11 1h1v1h-1zM14 1h1v1h-1zM19 1h1v1h-1zM42 1h1v1h-1zM54 1h2v1h-2zM58 1h1v1h-1zM25 2h3v1h-3zM34 2h3v1h-3zM51 2h1v1h-1zM59 2h1v1h-1zM62 2h1v1h-1zM30 3h1v1h-1zM43 3h1v1h-1zM51 3h1v1h-1zM56 3h2v1h-2zM59 3h1v1h-1zM66 3h2v1h-2zM0 4h1v1h-1zM8 4h1v1h-1zM10 4h1v1h-1zM33 4h1v1h-1zM56 4h1v1h-1zM64 4h1v1h-1zM4 5h2v1h-2zM21 5h1v1h-1zM32 5h1v1h-1zM46 5h1v1h-1zM48 5h1v1h-1zM57 5h1v1h-1zM64 5h1v1h-1zM12 6h1v1h-1zM37 6h1v1h-1zM46 6h1v1h-1zM13 7h1v1h-1zM21 7h2v1h-2zM30 7h1v1h-1zM42 7h1v1h-1zM44 7h1v1h-1zM53 7h1v1h-1zM5 8h1v1h-1zM8 8h1v1h-1zM25 8h1v1h-1zM37 8h1v1h-1zM40 8h3v1h-3zM46 8h2v1h-2zM54 8h1v1h-1zM59 8h1v1h-1zM61 8h1v1h-1zM66 8h1v1h-1zM13 9h1v1h-1zM45 9h1v1h-1zM47 9h1v1h-1zM59 9h2v1h-2zM13 10h1v1h-1zM28 10h1v1h-1zM53 10h1v1h-1zM56 10h1v1h-1zM66 10h1v1h-1zM5 11h1v1h-1zM7 11h1v1h-1zM41 11h2v1h-2zM45 11h1v1h-1zM50 11h1v1h-1zM61 11h1v1h-1zM64 11h1v1h-1zM68 11h1v1h-1zM17 12h1v1h-1zM41 12h1v1h-1zM43 12h1v1h-1zM56 12h1v1h-1zM61 12h1v1h-1zM65 12h1v1h-1zM2 13h1v1h-1zM4 13h1v1h-1zM6 13h1v1h-1zM17 13h1v1h-1zM21 13h1v1h-1zM29 13h1v1h-1zM40 13h2v1h-2zM45 13h1v1h-1zM50 13h1v1h-1zM54 13h1v1h-1zM61 13h1v1h-1zM5 14h1v1h-1zM17 14h4v1h-4zM39 14h1v1h-1zM67 14h1v1h-1zM4 15h1v1h-1zM19 15h2v1h-2zM24 15h1v1h-1zM31 15h1v1h-1zM36 15h1v1h-1zM48 15h3v1h-3zM54 15h1v1h-1zM57 15h1v1h-1zM63 15h1v1h-1zM67 15h1v1h-1zM19 16h2v1h-2zM35 16h1v1h-1zM39 16h2v1h-2zM57 16h1v1h-1zM68 16h1v1h-1zM26 17h2v1h-2zM29 17h2v1h-2zM33 17h2v1h-2zM58 17h1v1h-1zM6 18h1v1h-1zM13 18h1v1h-1zM30 18h1v1h-1zM42 18h1v1h-1zM44 18h1v1h-1zM47 18h1v1h-1zM54 18h1v1h-1zM60 18h3v1h-3zM2 19h2v1h-2zM10 19h1v1h-1zM18 19h1v1h-1zM47 19h1v1h-1zM7 20h1v1h-1zM37 20h1v1h-1zM47 20h1v1h-1zM18 21h1v1h-1zM36 21h1v1h-1zM41 21h1v1h-1zM0 22h1v1h-1zM5 22h1v1h-1zM15 22h1v1h-1zM18 22h1v1h-1zM21 22h2v1h-2zM45 22h1v1h-1zM48 22h1v1h-1zM50 22h2v1h-2zM53 22h1v1h-1zM60 22h1v1h-1zM16 23h1v1h-1zM31 23h1v1h-1zM38 23h1v1h-1zM42 23h1v1h-1zM44 23h2v1h-2zM50 23h2v1h-2zM9 24h3v1h-3zM15 24h1v1h-1zM26 24h1v1h-1zM30 24h1v1h-1zM42 24h1v1h-1zM12 25h1v1h-1zM17 25h1v1h-1zM55 25h1v1h-1zM64 25h1v1h-1zM27 26h2v1h-2zM49 26h1v1h-1zM56 26h1v1h-1zM4 27h1v1h-1zM10 27h1v1h-1zM27 27h1v1h-1zM30 27h1v1h-1zM1 28h1v1h-1zM25 28h1v1h-1zM31 28h1v1h-1zM35 28h1v1h-1zM52 28h1v1h-1zM63 28h1v1h-1zM1 29h1v1h-1zM8 29h2v1h-2zM36 29h1v1h-1zM45 29h1v1h-1zM53 29h1v1h-1zM59 29h1v1h-1zM62 29h1v1h-1zM3 30h1v1h-1zM19 30h4v1h-4zM24 30h1v1h-1zM45 30h1v1h-1zM59 30h1v1h-1zM68 30h1v1h-1zM4 31h1v1h-1zM9 31h1v1h-1zM20 31h2v1h-2zM25 31h1v1h-1zM34 31h1v1h-1zM59 31h2v1h-2zM8 32h1v1h-1zM11 32h1v1h-1zM14 32h2v1h-2zM20 32h1v1h-1zM32 32h3v1h-3zM40 32h1v1h-1zM51 32h1v1h-1zM63 32h1v1h-1zM1 33h1v1h-1zM14 33h1v1h-1zM20 33h1v1h-1zM64 33h1v1h-1zM14 34h1v1h-1zM16 34h1v1h-1zM22 34h1v1h-1zM30 34h1v1h-1zM48 34h1v1h-1zM53 34h2v1h-2zM59 34h1v1h-1zM2 35h1v1h-1zM14 35h1v1h-1zM29 35h1v1h-1zM31 35h3v1h-3zM38 35h2v1h-2zM42 35h1v1h-1zM60 35h1v1h-1zM0 36h1v1h-1zM9 36h1v1h-1zM29 36h1v1h-1zM49 36h1v1h-1zM51 36h1v1h-1zM58 36h2v1h-2zM1 37h1v1h-1zM6 37h1v1h-1zM32 37h2v1h-2zM36 37h1v1h-1zM55 37h1v1h-1zM62 37h1v1h-1zM65 37h1v1h-1zM2 38h2v1h-2zM12 38h2v1h-2zM21 38h2v1h-2zM34 38h1v1h-1zM36 38h1v1h-1zM52 38h1v1h-1zM65 38h1v1h-1zM68 38h1v1h-1zM5 39h1v1h-1zM41 39h1v1h-1zM54 39h1v1h-1zM59 39h2v1h-2zM67 39h1v1h-1zM4 40h2v1h-2zM10 40h1v1h-1zM50 40h1v1h-1zM0 41h1v1h-1zM15 41h1v1h-1zM30 41h1v1h-1zM34 41h1v1h-1zM54 41h1v1h-1zM58 41h1v1h-1zM14 42h1v1h-1zM17 42h1v1h-1zM19 42h1v1h-1zM23 42h1v1h-1zM30 42h2v1h-2zM46 42h1v1h-1zM52 42h1v1h-1zM57 42h1v1h-1zM67 42h1v1h-1zM2 43h1v1h-1zM6 43h1v1h-1zM12 43h1v1h-1zM15 43h2v1h-2zM48 43h1v1h-1zM63 43h1v1h-1zM68 43h1v1h-1zM12 44h1v1h-1zM20 44h1v1h-1zM24 44h1v1h-1zM49 44h1v1h-1zM2 45h1v1h-1zM4 45h1v1h-1zM8 45h1v1h-1zM12 45h1v1h-1zM15 45h1v1h-1zM1 46h1v1h-1zM7 46h1v1h-1zM25 46h1v1h-1zM29 46h1v1h-1zM38 46h1v1h-1zM51 46h1v1h-1zM65 46h2v1h-2zM68 46h1v1h-1zM2 47h1v1h-1zM19 47h3v1h-3zM34 47h1v1h-1zM39 47h1v1h-1zM48 47h1v1h-1zM52 47h1v1h-1zM66 47h1v1h-1zM8 48h1v1h-1zM35 48h3v1h-3zM51 48h1v1h-1zM14 49h1v1h-1zM26 49h2v1h-2zM44 49h1v1h-1zM57 49h1v1h-1zM7 50h1v1h-1zM12 50h1v1h-1zM19 50h1v1h-1zM32 50h1v1h-1zM34 50h2v1h-2zM41 50h1v1h-1zM49 50h1v1h-1zM56 50h1v1h-1zM30 51h1v1h-1zM40 51h1v1h-1zM45 51h1v1h-1zM63 51h1v1h-1zM14 52h1v1h-1zM22 52h1v1h-1zM25 52h1v1h-1zM27 52h1v1h-1zM40 52h1v1h-1zM59 52h1v1h-1zM62 52h1v1h-1zM65 52h1v1h-1zM7 53h1v1h-1zM15 53h2v1h-2zM35 53h1v1h-1zM6 54h1v1h-1zM8 54h1v1h-1zM11 54h2v1h-2zM14 54h1v1h-1zM35 54h2v1h-2zM38 54h1v1h-1zM48 54h1v1h-1zM61 54h1v1h-1zM9 55h1v1h-1zM35 55h1v1h-1zM48 55h1v1h-1zM56 55h1v1h-1zM16 56h3v1h-3zM20 56h1v1h-1zM30 56h1v1h-1zM38 56h1v1h-1zM49 56h1v1h-1zM63 56h1v1h-1zM2 57h1v1h-1zM21 57h1v1h-1zM27 57h1v1h-1zM30 57h1v1h-1zM46 57h1v1h-1zM48 57h1v1h-1zM62 57h1v1h-1zM47 58h1v1h-1zM61 58h2v1h-2zM6 59h2v1h-2zM20 59h1v1h-1zM44 59h1v1h-1zM47 59h1v1h-1zM49 59h1v1h-1zM61 59h1v1h-1zM10 60h1v1h-1zM25 60h1v1h-1zM40 60h2v1h-2zM49 60h1v1h-1zM58 60h1v1h-1zM62 60h1v1h-1zM0 61h2v1h-2zM17 61h2v1h-2zM26 61h1v1h-1zM30 61h1v1h-1zM34 61h1v1h-1zM47 61h1v1h-1zM56 61h2v1h-2zM61 61h1v1h-1zM68 61h1v1h-1zM1 62h1v1h-1zM11 62h2v1h-2zM34 62h1v1h-1zM47 62h1v1h-1zM49 62h1v1h-1zM12 63h1v1h-1zM28 63h1v1h-1zM33 63h1v1h-1zM36 63h1v1h-1zM38 63h1v1h-1zM51 63h1v1h-1zM18 64h1v1h-1zM24 64h1v1h-1zM33 64h1v1h-1zM52 64h1v1h-1zM55 64h1v1h-1zM12 65h1v1h-1zM30 65h1v1h-1zM33 65h1v1h-1zM60 65h1v1h-1zM1 66h2v1h-2zM7 66h1v1h-1zM10 66h1v1h-1zM13 66h1v1h-1zM18 66h1v1h-1zM22 66h1v1h-1zM48 66h1v1h-1zM60 66h1v1h-1zM15 67h1v1h-1zM18 67h1v1h-1zM23 67h1v1h-1zM45 67h1v1h-1zM49 67h1v1h-1zM54 67h1v1h-1zM56 67h1v1h-1zM60 67h1v1h-1zM0 68h1v1h-1zM18 68h1v1h-1zM34 68h1v1h-1zM48 68h1v1h-1zM53 68h1v1h-1z" fill="rgb(72, 184, 236)" fill-opacity="0.385"/><path d="M9 0h1v1h-1zM26 0h1v1h-1zM49 0h1v1h-1zM67 0h1v1h-1zM40 1h2v1h-2zM49 1h1v1h-1zM59 1h1v1h-1zM65 1h1v1h-1zM4 2h1v1h-1zM41 2h3v1h-3zM16 3h2v1h-2zM35 3h1v1h-1zM40 3h1v1h-1zM45 3h1v1h-1zM1 4h1v1h-1zM16 4h1v1h-1zM18 4h1v1h-1zM34 4h1v1h-1zM53 4h1v1h-1zM1 5h1v1h-1zM9 5h1v1h-1zM41 5h2v1h-2zM1 6h1v1h-1zM41 6h3v1h-3zM53 6h2v1h-2zM9 7h1v1h-1zM43 7h1v1h-1zM54 7h1v1h-1zM26 8h1v1h-1zM62 8h1v1h-1zM65 8h1v1h-1zM36 9h2v1h-2zM46 9h1v1h-1zM53 9h4v1h-4zM65 9h1v1h-1zM5 10h1v1h-1zM65 10h1v1h-1zM4 11h1v1h-1zM13 11h1v1h-1zM63 11h1v1h-1zM65 11h1v1h-1zM6 12h1v1h-1zM36 12h1v1h-1zM13 13h1v1h-1zM20 13h1v1h-1zM43 13h1v1h-1zM65 13h2v1h-2zM1 14h2v1h-2zM4 14h1v1h-1zM13 14h1v1h-1zM27 14h1v1h-1zM47 14h2v1h-2zM54 14h1v1h-1zM2 15h2v1h-2zM35 15h1v1h-1zM47 15h1v1h-1zM60 15h1v1h-1zM9 16h1v1h-1zM48 16h1v1h-1zM56 16h1v1h-1zM44 17h1v1h-1zM0 18h1v1h-1zM5 18h1v1h-1zM41 18h1v1h-1zM59 18h1v1h-1zM6 19h1v1h-1zM13 19h1v1h-1zM36 19h1v1h-1zM1 20h1v1h-1zM10 20h1v1h-1zM32 20h1v1h-1zM36 20h1v1h-1zM56 20h1v1h-1zM1 21h1v1h-1zM32 21h1v1h-1zM43 21h1v1h-1zM56 21h1v1h-1zM32 22h2v1h-2zM39 22h1v1h-1zM52 22h1v1h-1zM9 23h2v1h-2zM15 23h1v1h-1zM37 23h1v1h-1zM39 23h1v1h-1zM46 23h2v1h-2zM49 23h1v1h-1zM66 23h1v1h-1zM7 24h1v1h-1zM13 24h1v1h-1zM21 24h1v1h-1zM37 24h3v1h-3zM48 24h1v1h-1zM13 25h1v1h-1zM38 25h1v1h-1zM44 25h1v1h-1zM63 25h1v1h-1zM4 26h1v1h-1zM23 26h2v1h-2zM44 26h1v1h-1zM48 26h1v1h-1zM2 27h2v1h-2zM23 27h1v1h-1zM48 27h1v1h-1zM34 28h1v1h-1zM58 28h1v1h-1zM24 29h1v1h-1zM37 29h2v1h-2zM23 30h1v1h-1zM49 30h1v1h-1zM56 30h1v1h-1zM3 31h1v1h-1zM15 31h3v1h-3zM23 31h1v1h-1zM35 31h1v1h-1zM1 32h1v1h-1zM23 32h1v1h-1zM31 32h1v1h-1zM35 32h1v1h-1zM3 33h1v1h-1zM15 33h1v1h-1zM34 33h1v1h-1zM40 33h2v1h-2zM63 33h1v1h-1zM1 34h1v1h-1zM38 34h2v1h-2zM67 34h1v1h-1zM25 35h1v1h-1zM53 35h1v1h-1zM59 35h1v1h-1zM6 36h1v1h-1zM12 36h3v1h-3zM50 36h1v1h-1zM62 36h1v1h-1zM65 36h1v1h-1zM0 37h1v1h-1zM7 37h1v1h-1zM12 37h1v1h-1zM21 37h1v1h-1zM37 37h2v1h-2zM56 37h1v1h-1zM68 37h1v1h-1zM37 38h1v1h-1zM3 39h1v1h-1zM35 39h1v1h-1zM68 39h1v1h-1zM15 40h1v1h-1zM22 40h1v1h-1zM42 40h1v1h-1zM45 40h1v1h-1zM66 40h1v1h-1zM31 41h1v1h-1zM44 41h1v1h-1zM52 41h2v1h-2zM2 42h1v1h-1zM18 42h1v1h-1zM51 42h1v1h-1zM14 43h1v1h-1zM19 43h2v1h-2zM31 43h1v1h-1zM14 44h1v1h-1zM40 44h3v1h-3zM51 44h2v1h-2zM3 45h1v1h-1zM9 45h1v1h-1zM51 45h2v1h-2zM66 45h1v1h-1zM2 46h3v1h-3zM13 46h1v1h-1zM18 46h1v1h-1zM52 46h1v1h-1zM18 47h1v1h-1zM28 47h3v1h-3zM51 47h1v1h-1zM18 48h1v1h-1zM34 48h1v1h-1zM39 48h1v1h-1zM64 48h1v1h-1zM3 49h1v1h-1zM9 49h1v1h-1zM18 49h1v1h-1zM36 49h2v1h-2zM2 50h1v1h-1zM21 50h1v1h-1zM27 50h1v1h-1zM38 50h1v1h-1zM48 50h1v1h-1zM62 50h2v1h-2zM14 51h1v1h-1zM20 51h1v1h-1zM23 51h1v1h-1zM35 51h1v1h-1zM41 51h1v1h-1zM60 51h1v1h-1zM15 52h1v1h-1zM28 52h1v1h-1zM46 52h1v1h-1zM11 53h1v1h-1zM19 53h1v1h-1zM22 53h1v1h-1zM34 53h1v1h-1zM7 54h1v1h-1zM8 55h1v1h-1zM36 55h1v1h-1zM49 55h1v1h-1zM2 56h1v1h-1zM19 56h1v1h-1zM29 56h1v1h-1zM48 56h1v1h-1zM50 56h1v1h-1zM60 56h1v1h-1zM17 57h1v1h-1zM28 57h2v1h-2zM50 57h1v1h-1zM61 57h1v1h-1zM63 57h2v1h-2zM28 58h1v1h-1zM37 58h1v1h-1zM41 58h1v1h-1zM52 58h1v1h-1zM63 58h2v1h-2zM43 59h1v1h-1zM48 59h1v1h-1zM51 59h1v1h-1zM57 59h2v1h-2zM64 59h3v1h-3zM31 60h1v1h-1zM33 60h3v1h-3zM44 60h1v1h-1zM57 60h1v1h-1zM68 60h1v1h-1zM3 61h1v1h-1zM19 61h2v1h-2zM33 61h1v1h-1zM44 61h1v1h-1zM3 62h1v1h-1zM20 62h1v1h-1zM13 63h1v1h-1zM15 63h1v1h-1zM21 63h2v1h-2zM37 63h1v1h-1zM55 63h1v1h-1zM60 63h1v1h-1zM64 63h1v1h-1zM0 64h1v1h-1zM16 64h1v1h-1zM22 64h1v1h-1zM29 64h2v1h-2zM40 64h2v1h-2zM60 64h1v1h-1zM68 64h1v1h-1zM8 65h1v1h-1zM22 65h3v1h-3zM29 65h1v1h-1zM19 66h1v1h-1zM10 67h1v1h-1zM47 67h2v1h-2zM50 67h2v1h-2zM55 67h1v1h-1zM15 68h1v1h-1zM23 68h1v1h-1zM49 68h1v1h-1zM55 68h2v1h-2zM67 68h2v1h-2z" fill="rgb(72, 184, 236)" fill-opacity="0.7"/></pattern><pattern id="sp4" patternUnits="userSpaceOnUse" width="69" height="69"><path d="M2 0h1v1h-1zM12 0h1v1h-1zM15 0h1v1h-1zM23 0h1v1h-1zM40 0h1v1h-1zM48 0h1v1h-1zM55 0h1v1h-1zM62 0h1v1h-1zM67 0h1v1h-1zM1 1h1v1h-1zM13 1h1v1h-1zM33 1h1v1h-1zM40 1h2v1h-2zM58 1h2v1h-2zM4 2h1v1h-1zM11 2h2v1h-2zM26 2h1v1h-1zM30 2h1v1h-1zM34 2h2v1h-2zM38 2h1v1h-1zM41 2h1v1h-1zM64 2h1v1h-1zM4 3h1v1h-1zM8 3h5v1h-5zM15 3h1v1h-1zM34 3h2v1h-2zM43 3h3v1h-3zM51 3h1v1h-1zM61 3h1v1h-1zM0 4h1v1h-1zM4 4h2v1h-2zM9 4h1v1h-1zM14 4h2v1h-2zM17 4h2v1h-2zM45 4h1v1h-1zM61 4h2v1h-2zM68 4h1v1h-1zM0 5h2v1h-2zM4 5h1v1h-1zM6 5h1v1h-1zM21 5h1v1h-1zM47 5h1v1h-1zM59 5h1v1h-1zM64 5h1v1h-1zM68 5h1v1h-1zM1 6h1v1h-1zM5 6h1v1h-1zM13 6h1v1h-1zM15 6h1v1h-1zM50 6h1v1h-1zM65 6h1v1h-1zM1 7h1v1h-1zM6 7h1v1h-1zM15 7h1v1h-1zM23 7h1v1h-1zM35 7h1v1h-1zM43 7h1v1h-1zM55 7h1v1h-1zM6 8h1v1h-1zM10 8h1v1h-1zM24 8h1v1h-1zM34 8h3v1h-3zM52 8h1v1h-1zM14 9h1v1h-1zM29 9h2v1h-2zM34 9h1v1h-1zM36 9h1v1h-1zM43 9h2v1h-2zM1 10h2v1h-2zM17 10h1v1h-1zM24 10h1v1h-1zM36 10h2v1h-2zM39 10h1v1h-1zM43 10h1v1h-1zM45 10h1v1h-1zM64 10h1v1h-1zM66 10h1v1h-1zM3 11h2v1h-2zM15 11h1v1h-1zM20 11h2v1h-2zM36 11h1v1h-1zM38 11h2v1h-2zM41 11h1v1h-1zM48 11h1v1h-1zM57 11h1v1h-1zM21 12h1v1h-1zM43 12h1v1h-1zM50 12h1v1h-1zM5 13h1v1h-1zM18 13h2v1h-2zM42 13h1v1h-1zM44 13h1v1h-1zM46 13h1v1h-1zM0 14h1v1h-1zM7 14h1v1h-1zM14 14h1v1h-1zM20 14h1v1h-1zM41 14h2v1h-2zM52 14h2v1h-2zM55 14h1v1h-1zM8 15h1v1h-1zM21 15h1v1h-1zM30 15h1v1h-1zM35 15h1v1h-1zM37 15h1v1h-1zM45 15h1v1h-1zM65 15h1v1h-1zM5 16h1v1h-1zM8 16h1v1h-1zM14 16h1v1h-1zM22 16h1v1h-1zM37 16h1v1h-1zM44 16h1v1h-1zM50 16h1v1h-1zM52 16h1v1h-1zM60 16h1v1h-1zM64 16h1v1h-1zM66 16h1v1h-1zM4 17h1v1h-1zM8 17h1v1h-1zM38 17h2v1h-2zM52 17h1v1h-1zM66 17h1v1h-1zM2 18h1v1h-1zM7 18h1v1h-1zM11 18h1v1h-1zM18 18h2v1h-2zM24 18h1v1h-1zM29 18h2v1h-2zM47 18h1v1h-1zM65 18h3v1h-3zM4 19h1v1h-1zM7 19h1v1h-1zM10 19h2v1h-2zM14 19h1v1h-1zM25 19h2v1h-2zM34 19h1v1h-1zM40 19h1v1h-1zM48 19h1v1h-1zM50 19h1v1h-1zM59 19h1v1h-1zM17 20h1v1h-1zM28 20h1v1h-1zM34 20h1v1h-1zM37 20h1v1h-1zM46 20h2v1h-2zM60 20h1v1h-1zM68 20h1v1h-1zM5 21h1v1h-1zM26 21h2v1h-2zM35 21h1v1h-1zM39 21h1v1h-1zM42 21h1v1h-1zM44 21h1v1h-1zM52 21h1v1h-1zM55 21h2v1h-2zM0 22h1v1h-1zM6 22h1v1h-1zM28 22h2v1h-2zM31 22h5v1h-5zM55 22h1v1h-1zM63 22h1v1h-1zM66 22h1v1h-1zM6 23h1v1h-1zM11 23h1v1h-1zM33 23h1v1h-1zM35 23h2v1h-2zM40 23h1v1h-1zM42 23h1v1h-1zM53 23h1v1h-1zM60 23h1v1h-1zM0 24h1v1h-1zM25 24h1v1h-1zM29 24h2v1h-2zM34 24h2v1h-2zM44 24h1v1h-1zM63 24h2v1h-2zM35 25h2v1h-2zM44 25h1v1h-1zM63 25h1v1h-1zM33 26h1v1h-1zM36 26h1v1h-1zM59 26h1v1h-1zM64 26h1v1h-1zM20 27h1v1h-1zM31 27h1v1h-1zM41 27h1v1h-1zM48 27h1v1h-1zM61 27h1v1h-1zM4 28h1v1h-1zM6 28h2v1h-2zM11 28h1v1h-1zM22 28h1v1h-1zM33 28h1v1h-1zM40 28h1v1h-1zM42 28h2v1h-2zM58 28h1v1h-1zM63 28h1v1h-1zM11 29h1v1h-1zM22 29h1v1h-1zM26 29h1v1h-1zM32 29h1v1h-1zM34 29h1v1h-1zM63 29h2v1h-2zM11 30h1v1h-1zM13 30h1v1h-1zM32 30h1v1h-1zM35 30h1v1h-1zM41 30h1v1h-1zM65 30h1v1h-1zM24 31h3v1h-3zM28 31h1v1h-1zM30 31h1v1h-1zM35 31h1v1h-1zM38 31h1v1h-1zM52 31h1v1h-1zM66 31h1v1h-1zM4 32h1v1h-1zM24 32h2v1h-2zM32 32h1v1h-1zM14 33h1v1h-1zM16 33h2v1h-2zM22 33h1v1h-1zM34 33h1v1h-1zM41 33h1v1h-1zM50 33h1v1h-1zM10 34h2v1h-2zM50 34h1v1h-1zM53 34h1v1h-1zM63 34h1v1h-1zM6 35h2v1h-2zM11 35h1v1h-1zM18 35h1v1h-1zM40 35h1v1h-1zM51 35h1v1h-1zM54 35h1v1h-1zM11 36h1v1h-1zM18 36h1v1h-1zM20 36h1v1h-1zM34 36h1v1h-1zM41 36h1v1h-1zM48 36h1v1h-1zM55 36h1v1h-1zM42 37h1v1h-1zM58 37h1v1h-1zM4 38h1v1h-1zM9 38h1v1h-1zM21 38h1v1h-1zM42 38h1v1h-1zM67 38h1v1h-1zM21 39h1v1h-1zM51 39h2v1h-2zM55 39h1v1h-1zM62 39h1v1h-1zM66 39h1v1h-1zM6 40h1v1h-1zM34 40h1v1h-1zM45 40h1v1h-1zM63 40h1v1h-1zM26 41h1v1h-1zM30 41h1v1h-1zM64 41h1v1h-1zM68 41h1v1h-1zM2 42h1v1h-1zM15 42h1v1h-1zM25 42h1v1h-1zM30 42h1v1h-1zM38 42h2v1h-2zM0 43h1v1h-1zM6 43h1v1h-1zM16 43h1v1h-1zM26 43h1v1h-1zM35 43h1v1h-1zM38 43h2v1h-2zM65 43h1v1h-1zM15 44h2v1h-2zM23 44h2v1h-2zM34 44h1v1h-1zM37 44h1v1h-1zM11 45h1v1h-1zM15 45h1v1h-1zM18 45h1v1h-1zM24 45h2v1h-2zM33 45h1v1h-1zM38 45h1v1h-1zM45 45h1v1h-1zM6 46h1v1h-1zM23 46h2v1h-2zM29 46h1v1h-1zM41 46h1v1h-1zM54 46h2v1h-2zM29 47h1v1h-1zM37 47h1v1h-1zM52 47h1v1h-1zM4 48h1v1h-1zM6 48h2v1h-2zM11 48h1v1h-1zM14 48h1v1h-1zM56 48h1v1h-1zM67 48h1v1h-1zM3 49h1v1h-1zM9 49h1v1h-1zM16 49h1v1h-1zM40 49h1v1h-1zM61 49h1v1h-1zM67 49h1v1h-1zM14 50h1v1h-1zM16 50h2v1h-2zM23 50h2v1h-2zM33 50h1v1h-1zM37 50h1v1h-1zM49 50h1v1h-1zM15 51h1v1h-1zM20 51h2v1h-2zM30 51h2v1h-2zM42 51h2v1h-2zM55 51h1v1h-1zM67 51h1v1h-1zM1 52h1v1h-1zM15 52h1v1h-1zM37 52h1v1h-1zM41 52h1v1h-1zM43 52h1v1h-1zM48 52h1v1h-1zM8 53h2v1h-2zM11 53h1v1h-1zM29 53h1v1h-1zM44 53h1v1h-1zM56 53h1v1h-1zM8 54h1v1h-1zM20 54h1v1h-1zM22 54h1v1h-1zM25 54h1v1h-1zM56 54h1v1h-1zM63 54h1v1h-1zM67 54h1v1h-1zM13 55h1v1h-1zM28 55h1v1h-1zM41 55h1v1h-1zM47 55h1v1h-1zM63 55h1v1h-1zM65 55h1v1h-1zM4 56h1v1h-1zM6 56h1v1h-1zM12 56h2v1h-2zM18 56h1v1h-1zM21 56h1v1h-1zM26 56h1v1h-1zM28 56h1v1h-1zM43 56h1v1h-1zM48 56h1v1h-1zM53 56h1v1h-1zM55 56h2v1h-2zM59 56h1v1h-1zM64 56h1v1h-1zM17 57h1v1h-1zM27 57h1v1h-1zM29 57h1v1h-1zM38 57h1v1h-1zM41 57h1v1h-1zM47 57h1v1h-1zM51 57h1v1h-1zM63 57h1v1h-1zM0 58h1v1h-1zM13 58h1v1h-1zM40 58h1v1h-1zM45 58h1v1h-1zM55 58h1v1h-1zM60 58h1v1h-1zM18 59h1v1h-1zM49 59h1v1h-1zM56 59h1v1h-1zM59 59h1v1h-1zM64 59h2v1h-2zM14 60h1v1h-1zM24 60h3v1h-3zM30 60h2v1h-2zM9 61h2v1h-2zM22 61h1v1h-1zM34 61h1v1h-1zM41 61h1v1h-1zM51 61h1v1h-1zM56 61h1v1h-1zM21 62h1v1h-1zM29 62h1v1h-1zM34 62h1v1h-1zM39 62h1v1h-1zM51 62h1v1h-1zM55 62h2v1h-2zM66 62h1v1h-1zM39 63h1v1h-1zM49 63h1v1h-1zM51 63h1v1h-1zM54 63h1v1h-1zM60 63h1v1h-1zM13 64h1v1h-1zM25 64h1v1h-1zM27 64h1v1h-1zM54 64h1v1h-1zM60 64h1v1h-1zM6 65h1v1h-1zM12 65h1v1h-1zM16 65h1v1h-1zM20 65h2v1h-2zM48 65h1v1h-1zM52 65h3v1h-3zM56 65h1v1h-1zM0 66h1v1h-1zM3 66h1v1h-1zM7 66h1v1h-1zM16 66h3v1h-3zM22 66h1v1h-1zM24 66h1v1h-1zM53 66h1v1h-1zM56 66h1v1h-1zM60 66h1v1h-1zM2 67h1v1h-1zM9 67h2v1h-2zM14 67h1v1h-1zM20 67h2v1h-2zM51 67h1v1h-1zM66 67h1v1h-1zM11 68h1v1h-1zM18 68h2v1h-2zM21 68h1v1h-1zM47 68h1v1h-1z" fill="rgb(78, 192, 240)" fill-opacity="0.385"/><path d="M11 0h1v1h-1zM14 1h1v1h-1zM54 1h2v1h-2zM62 1h1v1h-1zM14 2h1v1h-1zM44 2h1v1h-1zM59 2h1v1h-1zM6 3h1v1h-1zM13 3h2v1h-2zM59 3h1v1h-1zM6 4h1v1h-1zM16 4h1v1h-1zM65 4h1v1h-1zM3 5h1v1h-1zM57 5h2v1h-2zM65 5h2v1h-2zM16 6h1v1h-1zM18 6h2v1h-2zM64 6h1v1h-1zM0 7h1v1h-1zM21 7h1v1h-1zM33 7h2v1h-2zM37 7h1v1h-1zM22 8h2v1h-2zM27 8h2v1h-2zM33 8h1v1h-1zM37 8h1v1h-1zM47 8h1v1h-1zM49 8h2v1h-2zM3 9h1v1h-1zM35 9h1v1h-1zM37 9h1v1h-1zM40 9h1v1h-1zM45 9h1v1h-1zM4 10h1v1h-1zM40 10h1v1h-1zM24 11h1v1h-1zM64 11h1v1h-1zM14 12h4v1h-4zM58 12h1v1h-1zM6 13h1v1h-1zM15 13h1v1h-1zM39 13h2v1h-2zM43 13h1v1h-1zM63 13h2v1h-2zM4 14h1v1h-1zM15 14h2v1h-2zM19 14h1v1h-1zM21 14h1v1h-1zM40 14h1v1h-1zM43 14h4v1h-4zM61 14h1v1h-1zM7 15h1v1h-1zM16 15h1v1h-1zM22 15h1v1h-1zM36 15h1v1h-1zM44 15h1v1h-1zM46 15h2v1h-2zM52 15h1v1h-1zM61 15h2v1h-2zM2 16h2v1h-2zM6 16h1v1h-1zM15 16h1v1h-1zM23 16h1v1h-1zM34 16h3v1h-3zM61 16h2v1h-2zM65 16h1v1h-1zM2 17h1v1h-1zM9 17h1v1h-1zM35 17h2v1h-2zM46 17h1v1h-1zM64 17h2v1h-2zM67 17h1v1h-1zM9 18h2v1h-2zM34 18h2v1h-2zM38 18h3v1h-3zM48 18h1v1h-1zM1 20h1v1h-1zM10 20h2v1h-2zM26 20h1v1h-1zM33 20h1v1h-1zM55 20h2v1h-2zM59 20h1v1h-1zM30 21h1v1h-1zM32 21h2v1h-2zM36 21h1v1h-1zM46 21h1v1h-1zM58 21h2v1h-2zM5 22h1v1h-1zM36 22h2v1h-2zM42 22h1v1h-1zM59 22h1v1h-1zM62 22h1v1h-1zM65 22h1v1h-1zM18 23h1v1h-1zM34 23h1v1h-1zM37 23h1v1h-1zM41 23h1v1h-1zM54 23h1v1h-1zM58 23h2v1h-2zM13 24h1v1h-1zM26 24h1v1h-1zM36 24h2v1h-2zM55 24h1v1h-1zM58 24h1v1h-1zM17 25h1v1h-1zM29 25h2v1h-2zM37 25h1v1h-1zM55 25h1v1h-1zM68 25h1v1h-1zM10 26h1v1h-1zM29 26h1v1h-1zM35 26h1v1h-1zM63 26h1v1h-1zM10 27h1v1h-1zM39 27h1v1h-1zM43 27h1v1h-1zM49 27h4v1h-4zM9 28h1v1h-1zM53 28h1v1h-1zM61 28h2v1h-2zM31 29h1v1h-1zM35 29h2v1h-2zM62 29h1v1h-1zM31 30h1v1h-1zM33 30h2v1h-2zM7 32h1v1h-1zM16 32h1v1h-1zM23 32h1v1h-1zM1 33h1v1h-1zM21 33h1v1h-1zM1 34h3v1h-3zM12 34h1v1h-1zM19 34h1v1h-1zM41 34h1v1h-1zM49 34h1v1h-1zM2 35h1v1h-1zM12 35h1v1h-1zM19 35h2v1h-2zM47 36h1v1h-1zM3 37h1v1h-1zM53 37h5v1h-5zM67 37h1v1h-1zM31 38h1v1h-1zM50 38h1v1h-1zM52 38h2v1h-2zM55 38h1v1h-1zM57 38h1v1h-1zM64 38h1v1h-1zM34 39h1v1h-1zM50 39h1v1h-1zM64 39h1v1h-1zM11 40h2v1h-2zM33 40h1v1h-1zM68 40h1v1h-1zM9 41h1v1h-1zM18 41h1v1h-1zM20 41h2v1h-2zM42 41h1v1h-1zM44 41h1v1h-1zM55 41h1v1h-1zM3 42h1v1h-1zM19 42h1v1h-1zM26 42h1v1h-1zM40 42h1v1h-1zM44 42h1v1h-1zM65 42h1v1h-1zM1 43h1v1h-1zM15 43h1v1h-1zM25 43h1v1h-1zM25 44h1v1h-1zM38 44h1v1h-1zM39 45h1v1h-1zM44 45h1v1h-1zM12 46h1v1h-1zM25 46h1v1h-1zM36 46h1v1h-1zM46 46h1v1h-1zM60 46h1v1h-1zM14 47h1v1h-1zM27 47h1v1h-1zM36 47h1v1h-1zM51 47h1v1h-1zM60 47h1v1h-1zM27 48h1v1h-1zM36 48h1v1h-1zM42 48h1v1h-1zM49 48h1v1h-1zM60 48h1v1h-1zM66 48h1v1h-1zM12 49h1v1h-1zM14 49h2v1h-2zM36 49h1v1h-1zM66 49h1v1h-1zM9 50h2v1h-2zM13 50h1v1h-1zM30 50h2v1h-2zM36 50h1v1h-1zM54 50h1v1h-1zM49 51h1v1h-1zM59 51h2v1h-2zM64 51h1v1h-1zM21 52h1v1h-1zM38 52h2v1h-2zM44 52h1v1h-1zM56 52h1v1h-1zM38 53h1v1h-1zM9 54h2v1h-2zM28 54h2v1h-2zM68 54h1v1h-1zM11 55h1v1h-1zM42 55h1v1h-1zM66 55h1v1h-1zM13 57h1v1h-1zM21 57h1v1h-1zM28 57h1v1h-1zM34 57h2v1h-2zM52 57h1v1h-1zM68 57h1v1h-1zM27 58h2v1h-2zM38 58h1v1h-1zM41 58h3v1h-3zM57 58h1v1h-1zM59 58h1v1h-1zM68 58h1v1h-1zM0 59h1v1h-1zM13 59h1v1h-1zM26 59h2v1h-2zM55 59h1v1h-1zM37 60h1v1h-1zM56 60h1v1h-1zM1 61h1v1h-1zM28 61h2v1h-2zM31 61h1v1h-1zM1 62h1v1h-1zM0 63h3v1h-3zM19 63h2v1h-2zM26 63h1v1h-1zM52 63h1v1h-1zM58 63h2v1h-2zM2 64h1v1h-1zM7 64h1v1h-1zM20 64h1v1h-1zM28 64h1v1h-1zM51 64h2v1h-2zM59 64h1v1h-1zM5 65h1v1h-1zM7 65h1v1h-1zM24 65h1v1h-1zM28 65h1v1h-1zM2 66h1v1h-1zM21 66h1v1h-1zM27 66h2v1h-2zM0 67h1v1h-1zM18 67h1v1h-1zM22 67h2v1h-2zM56 67h1v1h-1zM0 68h1v1h-1zM12 68h1v1h-1zM17 68h1v1h-1zM20 68h1v1h-1zM22 68h2v1h-2zM31 68h1v1h-1zM33 68h1v1h-1zM63 68h2v1h-2zM67 68h2v1h-2z" fill="rgb(78, 192, 240)" fill-opacity="0.7"/></pattern><linearGradient id="gT" x1="0" y1="0" x2="0" y2="1"><stop offset="0" stop-color="#f2c3a3"/><stop offset="1" stop-color="#fbe7dd"/></linearGradient><linearGradient id="gC" x1="0" y1="0" x2="0" y2="1"><stop offset="0" stop-color="#3b83bf"/><stop offset="1" stop-color="#c6ddef"/></linearGradient><linearGradient id="gCB" x1="0" y1="0" x2="0" y2="1"><stop offset="0" stop-color="#203c8e"/><stop offset="0.07" stop-color="#2560b0"/><stop offset="0.16" stop-color="#2aaee6"/><stop offset="0.27" stop-color="#6cbcbc"/><stop offset="0.4" stop-color="#5aa948"/><stop offset="0.6" stop-color="#5aac34"/><stop offset="0.7" stop-color="#a6c832"/><stop offset="0.78" stop-color="#f0e02a"/><stop offset="0.88" stop-color="#f39620"/><stop offset="1" stop-color="#e3261c"/></linearGradient><linearGradient id="topdark" x1="0" y1="0" x2="0" y2="1"><stop offset="0" stop-color="#1c3a90" stop-opacity="0.6"/><stop offset="1" stop-color="#1c3a90" stop-opacity="0"/></linearGradient><filter id="soft" x="-5%" y="-5%" width="110%" height="110%"><feGaussianBlur stdDeviation="0.4"/></filter><clipPath id="ca0"><rect x="46" y="9.5" width="139" height="138.3"/></clipPath><clipPath id="ca1"><rect x="198" y="9.5" width="138.5" height="138.3"/></clipPath><clipPath id="ca2"><rect x="350" y="9.5" width="138" height="138.3"/></clipPath><clipPath id="ca3"><rect x="502" y="9.5" width="138" height="138.3"/></clipPath></defs>
<text transform="translate(117.50 6.60) scale(1.0 1.1)" font-size="9.1" text-anchor="middle" fill="#231815" font-weight="normal" >FA-</text>
<text transform="translate(268.55 6.60) scale(1.0 1.1)" font-size="9.1" text-anchor="middle" fill="#231815" font-weight="normal" >FAMA-</text>
<text transform="translate(421.30 6.60) scale(1.0 1.1)" font-size="9.1" text-anchor="middle" fill="#231815" font-weight="normal" >FACs-</text>
<text transform="translate(571.30 6.60) scale(1.0 1.1)" font-size="9.1" text-anchor="middle" fill="#231815" font-weight="normal" >FAMACs-</text>
<g clip-path="url(#ca0)"><g filter="url(#soft)">
<rect x="43" y="6.5" width="145" height="144.3" filter="url(#na1)" fill="#000"/>
<rect x="43" y="6.5" width="145" height="144.3" fill="url(#sp1)"/>
</g></g>
<g clip-path="url(#ca1)"><g filter="url(#soft)">
<rect x="195" y="6.5" width="144.5" height="144.3" filter="url(#na2)" fill="#000"/>
<rect x="195" y="6.5" width="144.5" height="144.3" fill="url(#sp2)"/>
</g></g>
<g clip-path="url(#ca2)"><g filter="url(#soft)">
<rect x="347" y="6.5" width="144" height="144.3" filter="url(#na3)" fill="#000"/>
<rect x="347" y="6.5" width="144" height="144.3" fill="url(#sp3)"/>
</g></g>
<g clip-path="url(#ca3)"><g filter="url(#soft)">
<rect x="499" y="6.5" width="144" height="144.3" filter="url(#na4)" fill="#000"/>
<rect x="499" y="6.5" width="144" height="144.3" fill="url(#sp4)"/>
</g></g>
<rect x="502" y="9.5" width="138" height="30" fill="url(#topdark)"/>
<rect x="46" y="9.5" width="139" height="138.3" fill="none" stroke="#2a2623" stroke-width="1.1"/>
<rect x="198" y="9.5" width="138.5" height="138.3" fill="none" stroke="#2a2623" stroke-width="1.1"/>
<rect x="350" y="9.5" width="138" height="138.3" fill="none" stroke="#2a2623" stroke-width="1.1"/>
<rect x="502" y="9.5" width="138" height="138.3" fill="none" stroke="#2a2623" stroke-width="1.1"/>
<text x="52.00" y="25.00" font-size="9.25" text-anchor="start" fill="#ffffff" font-weight="bold" >Control</text>
<rect x="661.5" y="35.5" width="6.5" height="90" fill="url(#gCB)" stroke="#222" stroke-width="0.8"/>
<text x="664.00" y="32.30" font-size="9.1" text-anchor="middle" fill="#231815" font-weight="normal" >1.4E3</text>
<text x="664.30" y="135.80" font-size="9.1" text-anchor="middle" fill="#231815" font-weight="normal" >0.0</text>
<rect x="46" y="160.3" width="139" height="137.5" fill="#020202" stroke="#222" stroke-width="1"/>
<rect x="198" y="160.3" width="138.5" height="137.5" fill="#020202" stroke="#222" stroke-width="1"/>
<rect x="350" y="160.3" width="138" height="137.5" fill="#020202" stroke="#222" stroke-width="1"/>
<rect x="502" y="160.3" width="138" height="137.5" fill="#020202" stroke="#222" stroke-width="1"/>
<path d="M59.8 239.4h1.2v1h-1.2zM63.8 191.2h1v1.5h-1zM77.0 235.9h1.2v1.5h-1.2zM120.3 237.8h1.2v1h-1.2zM114.3 232.6h1.5v1.5h-1.5zM108.4 201.5h1.2v1.2h-1.2zM87.7 227.6h1.5v1.5h-1.5zM167.2 207.8h1.5v1.5h-1.5zM100.9 284.2h1.5v1h-1.5zM67.4 184.9h1.2v1.2h-1.2zM159.6 185.7h1.5v1h-1.5zM152.7 278.5h1.5v1.5h-1.5zM61.0 246.3h1v1.2h-1zM75.3 183.0h1.5v1h-1.5zM123.8 233.2h1.5v1h-1.5zM111.2 176.8h1.5v1.5h-1.5zM89.3 180.6h1.5v1.5h-1.5zM140.8 230.5h1.2v1.5h-1.2zM181.1 267.2h1.5v1.5h-1.5zM129.0 207.4h1.5v1.5h-1.5zM60.8 224.3h1.5v1.2h-1.5zM92.1 268.6h1.5v1.5h-1.5zM175.3 258.4h1.2v1.2h-1.2zM94.5 234.8h1.2v1h-1.2zM73.4 278.4h1v1.5h-1zM114.9 263.6h1.5v1.5h-1.5zM157.4 230.5h1.2v1.2h-1.2zM67.3 180.3h1v1h-1zM117.2 235.7h1v1h-1zM170.6 220.7h1.2v1.5h-1.2zM168.0 188.4h1.5v1.2h-1.5zM100.2 203.6h1.2v1.5h-1.2zM137.7 266.3h1.2v1.5h-1.2zM166.6 291.0h1.2v1h-1.2zM181.7 215.4h1.5v1.2h-1.5zM59.5 210.3h1.5v1.5h-1.5zM49.5 205.7h1.5v1h-1.5zM171.5 191.9h1v1h-1zM162.1 251.9h1.5v1.5h-1.5zM171.5 237.8h1.5v1h-1.5zM133.0 268.7h1v1.2h-1zM82.5 185.6h1.5v1.5h-1.5zM74.9 221.0h1.2v1.5h-1.2zM61.4 271.0h1.5v1.5h-1.5zM53.1 186.1h1.5v1.5h-1.5zM96.3 205.4h1.5v1.2h-1.5zM166.6 190.5h1.2v1h-1.2zM58.4 198.7h1.2v1.2h-1.2zM47.7 196.7h1v1.2h-1zM52.6 164.3h1.5v1.2h-1.5zM144.7 227.5h1.5v1.2h-1.5zM149.0 237.5h1v1.2h-1zM122.7 245.4h1.2v1.5h-1.2zM134.1 171.7h1.2v1.5h-1.2zM147.7 202.1h1.2v1h-1.2zM86.4 230.5h1.5v1.5h-1.5zM178.2 221.5h1.5v1.5h-1.5zM78.4 281.6h1.5v1.5h-1.5zM47.5 227.2h1.5v1.5h-1.5zM73.5 162.9h1.5v1.5h-1.5zM149.4 275.8h1.5v1h-1.5zM157.0 245.8h1.2v1h-1.2zM146.2 221.7h1.2v1.5h-1.2zM170.6 235.0h1.2v1.5h-1.2zM87.8 236.0h1.5v1h-1.5zM68.9 189.2h1.5v1.2h-1.5zM92.1 263.0h1.5v1.2h-1.5zM80.1 184.7h1v1.5h-1zM82.0 237.6h1v1.5h-1zM118.7 267.2h1.2v1h-1.2zM162.0 278.3h1v1.2h-1zM143.1 281.3h1.5v1.5h-1.5zM100.1 285.5h1.5v1.5h-1.5zM61.8 182.0h1v1.5h-1zM152.3 161.5h1.2v1.2h-1.2zM52.1 257.1h1.2v1.5h-1.2zM106.3 263.7h1v1h-1zM134.3 279.7h1.5v1.2h-1.5zM51.0 216.5h1.5v1h-1.5zM114.5 251.7h1.5v1h-1.5zM137.4 285.3h1.2v1.5h-1.2zM92.8 217.7h1.5v1.2h-1.5zM86.6 274.6h1v1.2h-1zM74.2 263.9h1.2v1.2h-1.2zM54.4 164.5h1.2v1.5h-1.2zM173.2 205.4h1.2v1.5h-1.2zM137.0 212.0h1.5v1.5h-1.5zM61.8 171.8h1v1.5h-1zM166.9 236.5h1.2v1.5h-1.2zM158.3 271.4h1.5v1h-1.5zM111.2 211.2h1.5v1.2h-1.5zM150.9 166.7h1v1.5h-1zM171.7 195.7h1v1.5h-1zM170.8 270.5h1.2v1.5h-1.2zM155.7 260.3h1.2v1.2h-1.2zM90.3 209.8h1v1.2h-1zM68.7 215.9h1v1.5h-1zM91.1 292.7h1v1h-1zM58.4 174.2h1.5v1.5h-1.5zM86.8 198.7h1.5v1.5h-1.5zM82.3 220.2h1.2v1.2h-1.2zM85.1 282.9h1.2v1.5h-1.2zM170.9 166.7h1.5v1.2h-1.5zM72.7 291.7h1.2v1h-1.2zM164.4 221.5h1.5v1h-1.5zM127.8 244.4h1.2v1h-1.2zM66.2 188.6h1.5v1h-1.5zM135.3 188.6h1v1.5h-1zM97.4 244.5h1v1.2h-1zM137.0 182.0h1v1.2h-1zM89.3 237.2h1.5v1.5h-1.5zM164.1 294.8h1.5v1.2h-1.5zM101.9 287.5h1.5v1.2h-1.5zM64.6 168.2h1.2v1.5h-1.2zM131.3 211.0h1.2v1.2h-1.2zM68.9 184.3h1v1h-1zM149.1 267.4h1.2v1.5h-1.2zM174.8 292.0h1.5v1.5h-1.5zM130.3 187.6h1.5v1.2h-1.5zM52.7 287.1h1.2v1.5h-1.2zM161.2 251.4h1.5v1h-1.5zM108.8 275.1h1.5v1.5h-1.5zM80.8 213.5h1.5v1.5h-1.5zM71.2 161.8h1.5v1.5h-1.5zM101.2 170.3h1.5v1.5h-1.5zM182.0 259.4h1v1.2h-1z" fill="#a2c83a"/>
<path d="M90.9 181.5h1v1h-1zM103.7 193.5h1.5v1h-1.5zM133.6 211.2h1v1h-1zM179.8 177.1h1.5v1.2h-1.5zM67.6 226.8h1v1h-1zM124.6 278.6h1.5v1.5h-1.5zM127.5 239.0h1.5v1h-1.5zM175.0 224.8h1v1h-1zM89.0 238.7h1.5v1.5h-1.5zM62.9 169.2h1.5v1.2h-1.5zM101.4 198.5h1.2v1.5h-1.2zM84.7 216.9h1.5v1.5h-1.5zM119.4 243.0h1.5v1.2h-1.5zM116.8 244.1h1v1.5h-1zM75.2 211.7h1.5v1.5h-1.5zM120.6 164.9h1.5v1h-1.5zM82.4 210.4h1.2v1.5h-1.2zM119.2 265.7h1.5v1.2h-1.5zM153.8 262.9h1.2v1.2h-1.2zM147.3 191.7h1.5v1.5h-1.5zM180.5 243.1h1v1.5h-1zM93.6 247.5h1v1.5h-1zM148.6 225.4h1.2v1.5h-1.2zM127.1 223.7h1.2v1.5h-1.2zM178.6 248.4h1.2v1.5h-1.2zM160.0 169.5h1.5v1.5h-1.5zM49.5 220.3h1.2v1h-1.2zM84.5 264.8h1.5v1h-1.5zM119.3 225.4h1.2v1.5h-1.2zM113.0 293.9h1.2v1.2h-1.2zM52.4 265.7h1.5v1.2h-1.5zM155.3 185.9h1v1.5h-1zM163.9 222.1h1.5v1.5h-1.5zM83.3 178.6h1.2v1h-1.2zM49.5 194.9h1v1h-1zM121.7 186.7h1.5v1.2h-1.5zM167.4 291.3h1.5v1.2h-1.5zM93.4 272.8h1.2v1.5h-1.2zM180.0 273.5h1v1h-1zM166.2 219.0h1v1h-1zM98.6 229.1h1.5v1.2h-1.5zM176.8 275.6h1.2v1.5h-1.2zM160.2 280.8h1.5v1.2h-1.5zM52.7 246.7h1v1.5h-1zM108.9 170.7h1v1h-1zM111.2 269.7h1.5v1.2h-1.5zM74.8 260.4h1.5v1.5h-1.5zM57.4 283.3h1.5v1h-1.5zM112.8 291.6h1v1.2h-1zM63.1 281.1h1.2v1.5h-1.2zM173.9 163.6h1.5v1h-1.5zM175.1 189.5h1v1.2h-1zM82.5 209.5h1.5v1h-1.5zM66.1 207.4h1.5v1h-1.5zM47.2 261.9h1.5v1h-1.5zM100.2 295.1h1v1.5h-1zM136.7 246.4h1.2v1.2h-1.2zM106.1 203.6h1.5v1.5h-1.5zM85.2 195.6h1.5v1.5h-1.5zM148.1 189.4h1.5v1.5h-1.5zM114.5 238.3h1.5v1.2h-1.5zM80.7 214.9h1.5v1.5h-1.5zM174.8 187.0h1.5v1.2h-1.5zM47.2 233.3h1.5v1.5h-1.5zM82.9 280.5h1v1.5h-1zM168.5 226.3h1v1.2h-1zM55.1 214.0h1.5v1h-1.5zM146.9 224.9h1.5v1.2h-1.5zM92.4 289.1h1v1.5h-1zM140.4 285.1h1.5v1h-1.5zM127.7 269.3h1v1h-1zM61.5 257.2h1.5v1.5h-1.5zM65.0 223.1h1.2v1h-1.2zM81.1 194.3h1.2v1h-1.2zM181.3 175.0h1.5v1.2h-1.5zM114.2 226.1h1.5v1h-1.5zM83.7 293.7h1.5v1.5h-1.5zM158.2 215.7h1.5v1.5h-1.5zM172.5 213.3h1.2v1.2h-1.2zM67.3 291.4h1.2v1h-1.2zM150.5 265.8h1.5v1.2h-1.5zM155.7 228.9h1v1h-1zM58.1 259.6h1v1h-1zM168.3 248.8h1.2v1h-1.2z" fill="#627e24"/>
<path d="M318.6 199.9h1.2v1.2h-1.2zM236.1 270.6h1.2v1.5h-1.2zM323.2 189.2h1.5v1.2h-1.5zM205.6 276.3h1.5v1h-1.5zM271.3 276.1h1.5v1.5h-1.5zM248.8 180.9h1.5v1h-1.5zM228.9 200.3h1.5v1.5h-1.5zM319.9 179.0h1.2v1h-1.2zM199.4 208.9h1v1.5h-1zM254.8 201.7h1.2v1.2h-1.2zM259.9 169.8h1.2v1.5h-1.2zM268.9 227.3h1.2v1h-1.2zM270.8 215.7h1.2v1.2h-1.2zM304.1 163.0h1.2v1.2h-1.2zM269.0 247.4h1.5v1.2h-1.5zM207.6 245.2h1.5v1h-1.5zM257.9 283.5h1v1.5h-1zM333.5 196.3h1v1h-1zM300.2 254.4h1.5v1h-1.5zM329.3 190.4h1v1.2h-1zM230.9 261.0h1.2v1.5h-1.2zM251.5 241.9h1.5v1.5h-1.5zM209.5 283.3h1.2v1h-1.2zM309.6 280.7h1v1.5h-1zM284.3 199.8h1v1.2h-1zM301.2 188.8h1.5v1.5h-1.5zM203.2 216.6h1.5v1h-1.5zM294.1 233.4h1.2v1h-1.2zM331.0 161.9h1.5v1h-1.5zM302.5 227.0h1v1.5h-1zM266.7 212.1h1.2v1.5h-1.2zM279.2 253.7h1v1.5h-1zM269.4 277.6h1.5v1.5h-1.5zM258.2 264.9h1.2v1.2h-1.2zM285.8 254.6h1.2v1.5h-1.2zM296.6 242.1h1.5v1.2h-1.5zM257.7 187.6h1v1.5h-1zM266.6 246.0h1.5v1h-1.5zM212.2 217.5h1.5v1.2h-1.5zM243.3 162.7h1.5v1h-1.5zM272.4 182.9h1.2v1.5h-1.2zM310.9 231.2h1.5v1.5h-1.5zM233.1 212.5h1v1h-1zM322.6 245.5h1.5v1.5h-1.5zM240.0 215.0h1.2v1.5h-1.2zM221.2 285.8h1v1.2h-1zM264.0 269.2h1.5v1.5h-1.5zM247.9 285.7h1.5v1h-1.5zM201.0 162.8h1v1.5h-1zM291.9 292.2h1v1.5h-1zM292.5 232.4h1.5v1h-1.5zM234.7 192.7h1.2v1.5h-1.2zM206.9 223.9h1.2v1.5h-1.2zM262.2 236.7h1.5v1.5h-1.5zM211.7 226.2h1.2v1h-1.2zM255.1 178.3h1v1.5h-1zM304.1 235.6h1.2v1.5h-1.2zM256.0 235.5h1.5v1.5h-1.5zM287.4 267.4h1.5v1.2h-1.5zM239.4 239.9h1v1h-1zM273.8 215.7h1v1.5h-1zM321.8 243.3h1.2v1h-1.2zM316.3 217.8h1v1h-1zM310.1 266.7h1.5v1.5h-1.5zM203.6 164.0h1v1.5h-1zM204.3 177.2h1.5v1.5h-1.5zM314.9 190.5h1v1.2h-1zM248.4 261.4h1.2v1h-1.2zM200.5 163.3h1v1.5h-1zM297.5 183.5h1.5v1h-1.5zM327.1 258.8h1.5v1.2h-1.5zM306.6 210.0h1.2v1.5h-1.2zM304.0 222.0h1.5v1.5h-1.5zM280.2 202.7h1.5v1.2h-1.5zM291.5 241.9h1.2v1.5h-1.2zM199.2 196.5h1.5v1.2h-1.5zM306.6 234.7h1.5v1.5h-1.5zM261.1 173.1h1.5v1h-1.5zM277.2 281.5h1.5v1.5h-1.5zM249.2 223.4h1v1.2h-1zM203.1 198.9h1v1h-1zM332.7 277.4h1.5v1.2h-1.5zM304.2 218.4h1.5v1.2h-1.5zM204.1 188.2h1.2v1.5h-1.2zM289.4 214.0h1.5v1.2h-1.5zM326.1 169.2h1v1h-1zM268.3 260.4h1.5v1h-1.5zM241.9 162.1h1.2v1.5h-1.2zM258.6 248.7h1.5v1.5h-1.5zM251.7 211.5h1.5v1.2h-1.5zM324.0 212.9h1v1h-1zM273.7 180.7h1.2v1.5h-1.2zM234.2 175.9h1.5v1.5h-1.5zM333.7 285.3h1v1.5h-1zM201.2 269.4h1.5v1.2h-1.5zM305.6 287.7h1.5v1.2h-1.5zM204.5 216.1h1.5v1.2h-1.5zM310.9 280.5h1.5v1.5h-1.5zM217.5 251.1h1.2v1.5h-1.2zM207.9 259.5h1.5v1h-1.5zM245.9 199.1h1.5v1h-1.5zM321.9 225.2h1.5v1.2h-1.5zM311.3 210.5h1.2v1.5h-1.2zM314.8 209.0h1.5v1h-1.5zM295.5 270.7h1.5v1.5h-1.5zM320.2 200.4h1v1.5h-1zM202.5 269.1h1.2v1h-1.2zM211.0 244.3h1.2v1h-1.2zM212.9 277.8h1.2v1h-1.2zM261.8 239.8h1.5v1h-1.5zM253.8 179.7h1.2v1.2h-1.2zM288.5 162.8h1v1.2h-1zM257.5 228.9h1v1.2h-1zM283.2 245.5h1v1h-1zM269.2 219.4h1v1.5h-1zM245.9 183.7h1v1.5h-1zM278.7 286.2h1.5v1h-1.5zM318.5 284.0h1.5v1.5h-1.5zM262.3 202.9h1.2v1.5h-1.2zM220.9 288.9h1.5v1.5h-1.5zM268.8 273.1h1.5v1h-1.5zM332.6 252.1h1.2v1.5h-1.2zM199.6 263.9h1v1.5h-1zM333.0 181.4h1.5v1h-1.5zM260.1 222.7h1.5v1.5h-1.5zM313.7 228.2h1.5v1.5h-1.5zM240.0 180.7h1.5v1.2h-1.5zM323.2 204.7h1.2v1.5h-1.2zM256.6 283.3h1v1h-1zM275.3 227.9h1.5v1.5h-1.5zM268.8 253.1h1.5v1.5h-1.5zM279.3 208.3h1v1h-1zM299.8 173.7h1.5v1.5h-1.5zM238.8 207.3h1.5v1.2h-1.5zM309.2 189.1h1.2v1.5h-1.2zM200.4 161.7h1v1.5h-1zM212.3 163.4h1v1.2h-1zM302.8 237.3h1.2v1.2h-1.2zM215.4 182.3h1v1h-1zM201.6 190.8h1.5v1h-1.5zM314.4 203.5h1.5v1.5h-1.5zM290.1 239.7h1.5v1.5h-1.5zM295.1 164.3h1.2v1h-1.2zM247.4 186.3h1.5v1.5h-1.5zM214.5 232.8h1.5v1.5h-1.5zM207.8 177.8h1.5v1.2h-1.5zM262.0 207.5h1.5v1h-1.5zM202.4 269.2h1.2v1.2h-1.2zM235.4 273.2h1.2v1.5h-1.2zM306.3 193.5h1.5v1.5h-1.5zM333.7 241.2h1.5v1.5h-1.5zM303.8 192.3h1.2v1h-1.2zM322.4 269.2h1.5v1.2h-1.5zM241.0 191.6h1.2v1.5h-1.2zM253.5 283.1h1.2v1.5h-1.2zM248.5 268.4h1.5v1.5h-1.5zM204.5 166.7h1.2v1.5h-1.2zM233.4 219.6h1.5v1h-1.5zM204.9 255.5h1.5v1.2h-1.5zM217.5 253.3h1.5v1.5h-1.5zM246.4 201.4h1.2v1.2h-1.2zM309.1 234.8h1.2v1.2h-1.2zM220.8 220.9h1.5v1.5h-1.5zM328.2 226.7h1.5v1h-1.5zM211.3 199.6h1.5v1.2h-1.5zM299.9 164.7h1.5v1.2h-1.5zM311.1 260.8h1.5v1.5h-1.5zM310.4 204.2h1.5v1.2h-1.5zM248.9 272.7h1.2v1h-1.2zM283.6 180.3h1.2v1.2h-1.2zM285.0 215.1h1v1.5h-1zM228.5 211.2h1v1.5h-1zM208.7 168.7h1.5v1.5h-1.5zM200.2 289.4h1.2v1.2h-1.2zM199.6 269.1h1.5v1.2h-1.5zM217.5 277.2h1v1.2h-1zM298.9 253.9h1.2v1.5h-1.2zM326.3 209.5h1.2v1.5h-1.2zM214.4 185.5h1.2v1h-1.2zM328.7 230.3h1.5v1.5h-1.5zM329.7 187.0h1.5v1h-1.5zM303.8 169.0h1.2v1h-1.2zM201.0 240.9h1.2v1.5h-1.2zM294.5 218.4h1v1.2h-1zM245.1 263.6h1v1.5h-1zM249.4 260.1h1.5v1.5h-1.5zM280.5 174.7h1.5v1h-1.5zM264.9 171.2h1.5v1.2h-1.5zM324.7 278.4h1.5v1.2h-1.5zM232.8 294.9h1.5v1.5h-1.5zM292.5 221.4h1.2v1h-1.2zM270.3 203.0h1.2v1h-1.2zM309.6 258.8h1.5v1.5h-1.5zM246.7 162.1h1.5v1.5h-1.5zM218.4 212.8h1v1.5h-1zM267.7 246.4h1.5v1.5h-1.5zM308.2 294.8h1.2v1.2h-1.2zM319.0 251.3h1.5v1.5h-1.5zM303.3 285.9h1v1.2h-1zM277.8 172.0h1.2v1.5h-1.2zM283.6 193.0h1v1.2h-1zM259.5 280.9h1.5v1h-1.5zM298.1 290.4h1v1h-1zM309.2 238.4h1.2v1h-1.2zM271.5 278.6h1.5v1h-1.5zM307.1 184.7h1.5v1h-1.5zM316.9 164.7h1.5v1.5h-1.5zM281.9 258.3h1.5v1.2h-1.5zM256.1 233.5h1.2v1.5h-1.2zM240.7 264.8h1.5v1.5h-1.5zM270.5 198.0h1.5v1h-1.5zM215.5 234.1h1.2v1.2h-1.2zM280.8 260.1h1.2v1.2h-1.2zM246.4 256.4h1.5v1.5h-1.5zM322.2 282.0h1.5v1.5h-1.5zM322.3 251.6h1.5v1h-1.5zM249.8 282.8h1.5v1.2h-1.5zM201.8 256.3h1.2v1.2h-1.2zM316.4 197.1h1.2v1.5h-1.2zM243.8 226.4h1.2v1.2h-1.2zM219.4 259.9h1v1.2h-1zM203.4 192.7h1v1h-1zM279.3 238.3h1v1h-1zM330.0 231.7h1v1.2h-1zM235.9 185.0h1.5v1.5h-1.5zM204.8 229.5h1.5v1.5h-1.5zM243.0 166.8h1.5v1.5h-1.5zM292.2 292.9h1.5v1.5h-1.5zM288.6 172.9h1v1h-1zM274.4 253.1h1.5v1.5h-1.5zM277.0 224.7h1.5v1.5h-1.5zM207.9 262.8h1.5v1.2h-1.5zM261.1 247.1h1v1.5h-1zM311.3 270.9h1v1.5h-1zM233.0 175.1h1.5v1.5h-1.5zM210.9 214.3h1.5v1h-1.5zM248.5 231.1h1.2v1.5h-1.2zM307.2 195.2h1.2v1h-1.2zM206.8 185.2h1.5v1.5h-1.5zM234.8 220.0h1.5v1h-1.5zM249.7 166.9h1.5v1.5h-1.5zM243.5 170.8h1.5v1.5h-1.5zM255.0 286.7h1v1h-1zM222.8 170.0h1.5v1.5h-1.5zM300.6 162.6h1.2v1.2h-1.2zM214.9 190.9h1v1h-1zM217.9 215.8h1v1.2h-1zM224.7 292.9h1.2v1.5h-1.2zM210.7 212.7h1.5v1.5h-1.5zM307.3 276.1h1.5v1.5h-1.5zM294.8 180.2h1.5v1.2h-1.5zM294.4 250.3h1.5v1h-1.5zM254.2 237.0h1.5v1h-1.5zM306.5 200.4h1.2v1.5h-1.2zM297.3 188.6h1.2v1h-1.2zM266.1 163.2h1.2v1.5h-1.2zM296.3 261.6h1.2v1.2h-1.2zM322.9 189.0h1v1.5h-1zM323.7 179.2h1.2v1.5h-1.2zM230.4 239.3h1.5v1.2h-1.5zM288.8 192.2h1v1.5h-1zM285.5 191.2h1v1.2h-1zM297.3 218.9h1.5v1h-1.5z" fill="#a2c83a"/>
<path d="M246.4 262.6h1.2v1.5h-1.2zM204.0 185.7h1.2v1.5h-1.2zM319.9 183.9h1.5v1h-1.5zM222.9 260.9h1v1.5h-1zM233.2 247.0h1.5v1h-1.5zM310.8 182.6h1v1.2h-1zM234.7 162.8h1.5v1.5h-1.5zM273.8 219.7h1.5v1.5h-1.5zM270.6 162.2h1v1.5h-1zM230.6 279.9h1.2v1.5h-1.2zM213.4 285.8h1.5v1.2h-1.5zM203.2 179.8h1v1h-1zM207.9 240.4h1.5v1.2h-1.5zM226.8 176.3h1v1h-1zM201.8 195.7h1.5v1h-1.5zM248.7 204.3h1.5v1.5h-1.5zM237.8 219.7h1.2v1.5h-1.2zM306.6 186.0h1.5v1.5h-1.5zM268.5 238.8h1.2v1.5h-1.2zM325.7 192.3h1.2v1h-1.2zM253.2 214.2h1v1.5h-1zM202.4 188.9h1.5v1.5h-1.5zM293.9 274.4h1.2v1.2h-1.2zM328.0 196.0h1v1.2h-1zM212.7 212.8h1.2v1.5h-1.2zM251.4 165.8h1.5v1.5h-1.5zM280.5 215.5h1.2v1.5h-1.2zM278.3 248.0h1.2v1.2h-1.2zM285.6 222.1h1.5v1.5h-1.5zM256.2 222.3h1.5v1.2h-1.5zM276.6 233.8h1.5v1h-1.5zM291.4 213.9h1v1.5h-1zM274.9 191.6h1.2v1.5h-1.2zM311.1 267.9h1.5v1.5h-1.5zM301.6 248.3h1.5v1.5h-1.5zM230.1 255.7h1.5v1.5h-1.5zM239.7 225.6h1.5v1h-1.5zM275.2 204.8h1.2v1.5h-1.2zM212.7 180.4h1.2v1.2h-1.2zM245.8 181.8h1.5v1.2h-1.5zM221.2 241.6h1v1.2h-1zM255.5 290.0h1v1.2h-1zM284.9 165.1h1v1.5h-1zM265.7 206.0h1.5v1.5h-1.5zM199.8 186.8h1.5v1h-1.5zM289.0 222.7h1.2v1h-1.2zM200.9 213.2h1.2v1.5h-1.2zM273.1 172.4h1.5v1.2h-1.5zM283.6 218.5h1v1h-1zM236.2 237.5h1.5v1.2h-1.5zM274.3 228.0h1.5v1h-1.5zM207.2 291.8h1.5v1h-1.5zM309.2 280.2h1v1.5h-1zM308.6 277.5h1.2v1.5h-1.2zM271.9 226.3h1.5v1.2h-1.5zM296.5 292.9h1.5v1h-1.5zM261.8 189.0h1.5v1h-1.5zM226.3 189.8h1v1.2h-1zM238.1 238.7h1.5v1.5h-1.5zM314.7 194.3h1.5v1.5h-1.5zM205.9 236.0h1.5v1.5h-1.5zM321.8 169.9h1.5v1h-1.5zM211.1 204.0h1.2v1h-1.2zM230.7 257.9h1.2v1h-1.2zM308.0 283.8h1v1.5h-1zM225.3 166.1h1.2v1h-1.2zM316.0 280.4h1.2v1.5h-1.2zM244.9 271.6h1.5v1h-1.5zM218.3 191.0h1v1.2h-1zM232.3 164.7h1.5v1.5h-1.5zM331.1 168.9h1.2v1.5h-1.2zM215.1 262.5h1.5v1.5h-1.5zM320.0 169.0h1.5v1.2h-1.5zM223.3 264.5h1.2v1.2h-1.2zM274.0 289.3h1v1h-1zM298.7 196.3h1.5v1.2h-1.5zM276.3 261.3h1.2v1h-1.2zM251.5 217.6h1v1.5h-1zM206.0 210.0h1.5v1.2h-1.5zM295.6 274.3h1.5v1.5h-1.5zM206.2 230.6h1.5v1.2h-1.5zM329.9 265.4h1.5v1h-1.5zM318.4 279.8h1v1.5h-1zM210.9 234.5h1.5v1.2h-1.5zM226.2 256.5h1.5v1.5h-1.5zM268.2 212.6h1.5v1h-1.5zM237.5 293.6h1.5v1h-1.5zM220.4 170.3h1.5v1.5h-1.5zM246.6 251.8h1.5v1h-1.5zM299.3 263.1h1.5v1.5h-1.5zM294.7 283.9h1.2v1.5h-1.2zM270.0 241.1h1.5v1h-1.5zM212.4 211.5h1.5v1.2h-1.5zM329.2 226.5h1.5v1.5h-1.5zM209.1 202.9h1.2v1h-1.2zM284.1 242.1h1.5v1h-1.5zM222.0 231.3h1.5v1.5h-1.5zM207.4 163.0h1.5v1.2h-1.5zM246.8 184.0h1.5v1h-1.5zM326.9 169.7h1.2v1.5h-1.2zM282.7 194.7h1v1.2h-1zM233.0 280.1h1v1.2h-1zM253.7 245.6h1.2v1.5h-1.2zM267.2 191.8h1.5v1.2h-1.5zM253.6 229.7h1.2v1h-1.2zM211.3 275.4h1.5v1h-1.5zM275.6 202.9h1.5v1h-1.5zM294.0 223.3h1.5v1.5h-1.5zM212.2 200.4h1.5v1.2h-1.5zM239.9 212.3h1v1.5h-1zM326.1 236.9h1.2v1.5h-1.2zM302.1 249.1h1v1h-1zM290.9 166.3h1.5v1.2h-1.5zM245.7 283.7h1.5v1.5h-1.5zM282.1 190.9h1v1.5h-1zM256.2 285.9h1.5v1h-1.5zM226.8 251.5h1.2v1.5h-1.2zM329.9 246.7h1.5v1.2h-1.5zM221.7 207.8h1v1.2h-1zM231.6 230.4h1.5v1.2h-1.5zM261.3 264.0h1.2v1h-1.2zM200.7 226.5h1v1h-1zM240.0 176.1h1.5v1.5h-1.5zM208.7 162.7h1.5v1h-1.5zM243.8 260.3h1.5v1h-1.5zM224.1 246.8h1.2v1h-1.2zM275.5 245.5h1.5v1h-1.5zM265.7 228.2h1.2v1.5h-1.2zM272.3 230.5h1.5v1.2h-1.5zM328.8 244.4h1v1.5h-1zM239.1 237.8h1.5v1.5h-1.5zM312.0 248.4h1.2v1.5h-1.2zM229.6 222.7h1v1h-1zM290.7 268.5h1.2v1h-1.2zM322.9 278.0h1.2v1.5h-1.2zM321.9 193.8h1.5v1.2h-1.5zM201.9 293.8h1.5v1h-1.5zM245.2 181.5h1.5v1h-1.5zM203.8 185.7h1.5v1.5h-1.5zM232.6 278.7h1v1.2h-1zM276.4 239.6h1.2v1h-1.2zM320.9 174.1h1.2v1.5h-1.2zM284.7 209.9h1.5v1.2h-1.5zM325.7 252.6h1.5v1.5h-1.5zM294.1 251.3h1.5v1.5h-1.5zM240.6 258.7h1.5v1h-1.5zM332.3 209.1h1.5v1h-1.5zM242.1 184.8h1.5v1h-1.5zM243.1 261.7h1.5v1.5h-1.5zM281.7 265.3h1.5v1.5h-1.5zM220.1 180.4h1v1.5h-1zM282.5 270.3h1.5v1h-1.5zM212.5 269.7h1.5v1.2h-1.5zM229.8 262.7h1v1h-1zM305.6 164.8h1v1h-1zM243.0 218.3h1.5v1.5h-1.5zM266.3 292.8h1.2v1.5h-1.2zM281.4 289.5h1.2v1h-1.2zM227.3 279.7h1.5v1h-1.5zM315.6 185.7h1.2v1.5h-1.2zM307.7 181.7h1v1.2h-1zM252.6 216.8h1.5v1.5h-1.5zM319.7 170.0h1v1h-1zM272.0 246.1h1v1.5h-1zM328.2 171.7h1.2v1.2h-1.2zM271.9 212.6h1.2v1.5h-1.2zM318.0 269.0h1v1.2h-1zM324.0 195.4h1.5v1.2h-1.5zM333.3 192.7h1.5v1.5h-1.5zM252.1 231.8h1.5v1h-1.5zM272.3 191.2h1.5v1.5h-1.5zM262.9 258.0h1.5v1.2h-1.5zM308.8 193.3h1.2v1.2h-1.2zM263.6 268.3h1.2v1h-1.2zM256.1 267.5h1.5v1h-1.5zM281.0 195.7h1.2v1.5h-1.2zM216.5 244.2h1.5v1h-1.5zM261.4 223.2h1.5v1.5h-1.5zM204.5 252.4h1.5v1.5h-1.5zM210.9 262.2h1.5v1h-1.5zM226.0 206.3h1v1.5h-1zM255.7 168.2h1.5v1.2h-1.5zM206.0 233.2h1.5v1.5h-1.5zM314.8 178.0h1.2v1h-1.2zM304.9 288.7h1.5v1.2h-1.5zM233.8 282.7h1.5v1.2h-1.5zM233.8 234.8h1.2v1.2h-1.2z" fill="#627e24"/>
<path d="M398.3 249.4h1.2v1h-1.2zM397.8 261.8h1.5v1h-1.5zM388.7 201.9h1v1.2h-1zM387.5 281.0h1.2v1.5h-1.2zM439.3 168.0h1.5v1.5h-1.5zM366.2 182.9h1.5v1.5h-1.5zM356.3 238.9h1.5v1.2h-1.5zM463.6 171.5h1.2v1.5h-1.2zM477.6 205.7h1.5v1.5h-1.5zM363.6 279.1h1v1.2h-1zM423.1 177.1h1.5v1.2h-1.5zM423.0 229.2h1.5v1.2h-1.5zM408.0 244.9h1v1.5h-1zM367.2 250.3h1.2v1.2h-1.2zM455.2 230.0h1v1.2h-1zM397.0 269.9h1.5v1.2h-1.5zM477.5 216.5h1.5v1h-1.5zM360.0 161.7h1.5v1h-1.5zM481.6 239.4h1.5v1.5h-1.5zM456.5 278.0h1.5v1h-1.5zM456.3 268.8h1.2v1.2h-1.2zM412.6 193.0h1.5v1h-1.5zM456.4 267.6h1.5v1.5h-1.5zM414.9 216.3h1.5v1.5h-1.5zM410.5 249.9h1.2v1h-1.2zM435.4 211.6h1.2v1.5h-1.2zM433.1 281.1h1.5v1.5h-1.5zM479.6 229.2h1.2v1.2h-1.2zM352.2 275.7h1v1.2h-1zM471.2 250.6h1v1.5h-1zM470.4 177.3h1.5v1.5h-1.5zM415.9 162.2h1.5v1.2h-1.5zM442.0 212.3h1.5v1.5h-1.5zM378.0 269.5h1v1.2h-1zM455.5 209.6h1.2v1.5h-1.2zM477.9 187.7h1.5v1.5h-1.5zM414.2 236.2h1.5v1h-1.5zM399.8 284.2h1.5v1h-1.5zM442.2 216.6h1v1.5h-1zM374.7 258.2h1v1.5h-1zM477.5 260.8h1.5v1.5h-1.5zM459.4 208.2h1.2v1.2h-1.2zM421.1 251.0h1.5v1.2h-1.5zM440.8 238.7h1.5v1.2h-1.5zM387.8 274.5h1.2v1.2h-1.2zM450.9 271.3h1.5v1.5h-1.5zM432.4 229.5h1.2v1.2h-1.2zM399.4 237.5h1v1.5h-1zM420.6 177.6h1.5v1.2h-1.5zM430.4 241.1h1v1h-1zM354.8 228.9h1.5v1.5h-1.5zM435.7 258.4h1v1.5h-1zM395.3 293.5h1v1.5h-1zM409.0 291.2h1.5v1.2h-1.5zM376.5 215.3h1.5v1.2h-1.5zM448.2 257.7h1v1.5h-1zM427.0 203.6h1.5v1.5h-1.5zM412.2 175.0h1v1.2h-1zM415.1 271.4h1.2v1h-1.2zM448.6 182.9h1.5v1.2h-1.5zM365.9 258.8h1.5v1h-1.5zM462.7 266.6h1.5v1h-1.5zM470.1 226.2h1.2v1h-1.2zM472.8 212.6h1v1h-1zM427.7 257.7h1.5v1.2h-1.5zM414.4 180.3h1.5v1.5h-1.5zM383.1 293.5h1.2v1h-1.2zM457.0 271.7h1v1.2h-1zM482.3 268.9h1v1.5h-1zM436.9 284.5h1.5v1h-1.5zM353.5 262.8h1v1h-1zM459.6 183.1h1.5v1h-1.5zM433.7 222.5h1v1.2h-1zM462.6 270.0h1.5v1.2h-1.5zM465.3 275.0h1v1h-1zM482.6 264.3h1v1h-1zM366.3 254.1h1.2v1.5h-1.2zM408.9 279.0h1.2v1.5h-1.2zM446.0 195.2h1.5v1.5h-1.5zM352.8 233.4h1.5v1.2h-1.5zM393.2 245.3h1.5v1h-1.5zM405.8 283.7h1v1.2h-1zM451.3 262.2h1.2v1.5h-1.2zM439.2 260.5h1.2v1h-1.2zM444.5 202.0h1v1h-1zM469.1 276.7h1.5v1.5h-1.5zM360.8 173.3h1.5v1.5h-1.5zM370.3 174.3h1v1.5h-1zM363.0 239.5h1v1h-1zM387.1 286.0h1.5v1.5h-1.5zM374.7 210.8h1.5v1.5h-1.5zM421.4 176.2h1.2v1.2h-1.2zM453.6 275.6h1.2v1.5h-1.2zM352.0 174.6h1.5v1.5h-1.5zM355.0 220.0h1v1h-1zM446.7 173.9h1v1.5h-1zM374.4 192.2h1.5v1h-1.5zM426.7 277.9h1.5v1h-1.5zM409.1 168.8h1.2v1.5h-1.2zM362.2 196.9h1.5v1.2h-1.5zM399.6 177.3h1.5v1.5h-1.5zM400.5 282.3h1.2v1.2h-1.2zM352.7 288.4h1.2v1h-1.2zM412.4 191.6h1.5v1h-1.5zM414.9 234.7h1.5v1.2h-1.5zM485.3 179.4h1.5v1h-1.5zM407.9 172.1h1.5v1.5h-1.5zM472.6 170.8h1.2v1.2h-1.2zM422.2 275.0h1v1.5h-1zM439.5 239.9h1.5v1.2h-1.5zM385.6 271.5h1v1.5h-1zM395.1 284.6h1.5v1.5h-1.5zM378.9 216.1h1.2v1.2h-1.2zM446.3 212.2h1.5v1.5h-1.5zM380.9 190.1h1.5v1h-1.5zM369.3 215.7h1.5v1h-1.5zM468.7 240.2h1.2v1h-1.2zM463.6 172.8h1.2v1h-1.2zM374.5 282.0h1.2v1h-1.2zM362.1 173.2h1.2v1.2h-1.2zM468.7 205.9h1v1.5h-1zM449.0 207.1h1.5v1.2h-1.5zM407.9 200.8h1v1.2h-1zM360.7 224.6h1v1.2h-1zM418.4 231.2h1.5v1h-1.5zM484.9 281.7h1.2v1.2h-1.2zM413.3 206.7h1.5v1.5h-1.5zM448.0 168.8h1.5v1h-1.5zM394.7 193.0h1.2v1.2h-1.2zM377.6 177.3h1.5v1.5h-1.5zM455.3 175.5h1v1.5h-1zM360.0 269.0h1.2v1.5h-1.2zM355.7 249.4h1.5v1.5h-1.5zM370.5 254.8h1v1h-1zM454.3 179.4h1v1h-1zM461.1 242.2h1.5v1.2h-1.5zM403.0 269.4h1.5v1.5h-1.5zM383.7 291.5h1v1h-1zM450.6 280.8h1.5v1.5h-1.5zM449.7 178.7h1.2v1.5h-1.2zM460.4 206.7h1.2v1h-1.2zM414.1 294.0h1.2v1.5h-1.2zM449.1 275.0h1.2v1.5h-1.2zM385.2 166.6h1v1.5h-1zM393.7 279.4h1.5v1.5h-1.5zM398.5 212.0h1v1.2h-1zM448.9 262.4h1.5v1.5h-1.5zM394.8 219.9h1.5v1.2h-1.5zM456.2 277.9h1.2v1.5h-1.2zM359.6 177.2h1v1h-1zM437.1 203.0h1.5v1.5h-1.5zM449.7 203.0h1.5v1h-1.5zM485.2 281.4h1v1.5h-1zM352.6 289.4h1.2v1.2h-1.2zM424.0 285.6h1v1h-1zM375.7 200.3h1.5v1h-1.5zM378.1 201.7h1.5v1.2h-1.5zM426.3 180.6h1.5v1h-1.5zM432.0 196.0h1.5v1.2h-1.5zM472.5 183.5h1.2v1.5h-1.2zM448.0 176.0h1.5v1.2h-1.5zM410.5 172.9h1v1.5h-1zM384.0 187.9h1.2v1.5h-1.2zM409.6 202.8h1.2v1.5h-1.2zM377.0 203.6h1.5v1.2h-1.5zM414.4 187.8h1.2v1.2h-1.2zM398.3 212.7h1v1.5h-1zM449.7 206.3h1.5v1.2h-1.5zM463.3 234.7h1v1.5h-1zM442.2 214.7h1.5v1.2h-1.5zM478.1 234.9h1.5v1.2h-1.5zM410.3 198.1h1v1.5h-1zM457.5 204.9h1.5v1h-1.5zM403.1 242.9h1.5v1h-1.5zM389.7 227.6h1.5v1h-1.5zM379.2 260.0h1.2v1.2h-1.2zM425.1 284.8h1v1.2h-1zM376.9 261.5h1.5v1.5h-1.5zM468.4 262.3h1.2v1.5h-1.2zM435.7 176.4h1.2v1h-1.2zM432.9 251.4h1.2v1.5h-1.2zM466.3 204.9h1.5v1.5h-1.5zM416.0 164.6h1.2v1.2h-1.2zM371.5 208.3h1v1.5h-1zM442.6 165.8h1.5v1h-1.5zM469.5 241.8h1.5v1.5h-1.5zM370.8 167.7h1.2v1.5h-1.2zM443.5 203.9h1.5v1.5h-1.5zM466.4 226.8h1.5v1h-1.5zM462.5 167.5h1.5v1h-1.5zM473.0 239.9h1.5v1h-1.5zM438.3 174.4h1.5v1.5h-1.5zM477.8 295.0h1.5v1.5h-1.5zM467.2 215.1h1.5v1h-1.5zM401.6 194.7h1v1.5h-1zM362.7 275.4h1v1.2h-1zM381.1 196.1h1v1.2h-1zM485.1 201.8h1v1.5h-1zM415.7 232.3h1.2v1.5h-1.2z" fill="#a2c83a"/>
<path d="M431.5 290.9h1.5v1.2h-1.5zM384.3 260.8h1.2v1h-1.2zM391.1 170.6h1.5v1h-1.5zM425.7 293.7h1.2v1.2h-1.2zM353.0 287.7h1.5v1.2h-1.5zM381.8 261.8h1.2v1.5h-1.2zM396.4 174.4h1.2v1.2h-1.2zM383.9 259.6h1.2v1.2h-1.2zM454.6 188.6h1.2v1.5h-1.2zM455.8 283.0h1v1.2h-1zM357.8 210.3h1.5v1h-1.5zM462.4 286.9h1v1.5h-1zM458.9 240.4h1.5v1.5h-1.5zM362.7 248.7h1.5v1.5h-1.5zM351.6 226.8h1v1h-1zM424.4 172.4h1.5v1.5h-1.5zM390.3 173.1h1.5v1.2h-1.5zM479.8 209.9h1.2v1.5h-1.2zM459.9 194.9h1.5v1h-1.5zM449.8 262.2h1.5v1.2h-1.5zM479.8 209.8h1.5v1h-1.5zM418.0 210.0h1v1h-1zM419.9 181.7h1.5v1h-1.5zM474.5 229.4h1.5v1.2h-1.5zM437.3 198.9h1.2v1.5h-1.2zM354.5 234.8h1.5v1h-1.5zM463.1 227.7h1v1.5h-1zM421.0 252.6h1v1.5h-1zM442.7 209.8h1.5v1.5h-1.5zM414.6 176.4h1.5v1.5h-1.5zM455.7 203.5h1.2v1.5h-1.2zM454.7 166.8h1.5v1.5h-1.5zM399.4 292.7h1v1h-1zM442.7 285.2h1v1h-1zM465.3 193.3h1v1.5h-1zM445.7 255.6h1.5v1h-1.5zM435.6 179.9h1.5v1h-1.5zM413.9 226.1h1.5v1.5h-1.5zM422.4 192.2h1.2v1.5h-1.2zM459.8 233.3h1v1.2h-1zM479.4 216.1h1v1.5h-1zM471.7 163.5h1.2v1.2h-1.2zM378.1 262.5h1.5v1h-1.5zM352.8 277.0h1.5v1.5h-1.5zM450.4 253.9h1.5v1h-1.5zM469.9 226.4h1v1.5h-1zM384.8 213.4h1.5v1.5h-1.5zM477.1 187.2h1.5v1.5h-1.5zM428.0 283.8h1.5v1.5h-1.5zM368.0 188.1h1.5v1.5h-1.5zM441.5 256.9h1.2v1.5h-1.2zM383.3 286.0h1.2v1h-1.2zM479.7 212.4h1v1h-1zM425.8 271.4h1v1h-1zM438.4 189.1h1.5v1h-1.5zM362.6 230.9h1v1h-1zM391.7 263.5h1.2v1.5h-1.2zM405.8 243.2h1.2v1h-1.2zM463.6 257.3h1v1.2h-1zM402.4 183.0h1.2v1.5h-1.2zM463.6 294.5h1.5v1.5h-1.5zM399.0 270.7h1v1.2h-1zM457.9 232.6h1v1h-1zM480.9 182.9h1v1.2h-1zM452.6 280.0h1.5v1.5h-1.5zM484.1 184.9h1.5v1.2h-1.5zM354.7 253.9h1.2v1.5h-1.2zM360.9 171.3h1v1.5h-1zM419.6 278.9h1.5v1.2h-1.5zM385.3 214.2h1.2v1.5h-1.2zM378.7 213.3h1.2v1h-1.2zM459.0 251.2h1.5v1h-1.5zM402.2 263.8h1.2v1.2h-1.2zM360.1 209.7h1.5v1.2h-1.5zM425.6 170.9h1.2v1.5h-1.2zM411.9 203.9h1.2v1.5h-1.2zM419.5 245.4h1v1.5h-1zM355.3 248.2h1.5v1.2h-1.5zM370.5 269.0h1.5v1h-1.5zM412.7 258.3h1.5v1.2h-1.5zM389.4 292.0h1.2v1.5h-1.2zM429.5 287.2h1.5v1h-1.5zM419.8 288.4h1.5v1.2h-1.5zM380.1 273.0h1.2v1.5h-1.2zM397.2 250.9h1v1.5h-1zM383.1 273.5h1.2v1.5h-1.2zM426.6 198.0h1.5v1.2h-1.5zM427.7 191.2h1.2v1.5h-1.2zM446.8 174.0h1.5v1h-1.5zM430.6 195.2h1.5v1.2h-1.5zM479.7 247.5h1.5v1.5h-1.5zM453.3 289.4h1.2v1.5h-1.2zM456.7 192.5h1.5v1h-1.5zM412.1 205.8h1.5v1.5h-1.5zM409.8 184.8h1.5v1h-1.5zM456.0 214.1h1v1.5h-1zM437.4 246.3h1.2v1.5h-1.2zM391.5 195.6h1v1.5h-1zM406.4 236.4h1v1h-1zM360.9 208.1h1.5v1.5h-1.5zM363.3 244.9h1.5v1.2h-1.5zM475.9 236.4h1v1.2h-1zM446.2 269.0h1.2v1h-1.2zM414.5 219.7h1v1.2h-1zM380.0 273.9h1.5v1.2h-1.5zM448.4 190.9h1.5v1.2h-1.5zM444.0 243.7h1.2v1.2h-1.2zM415.1 256.8h1.5v1.5h-1.5zM448.5 203.5h1v1h-1zM362.8 284.9h1.2v1h-1.2zM477.9 236.0h1v1.5h-1zM375.9 270.0h1.5v1.5h-1.5zM351.0 192.3h1.5v1h-1.5zM441.9 262.6h1.2v1h-1.2zM446.9 251.2h1v1.5h-1zM374.2 204.1h1.2v1h-1.2zM464.3 292.5h1.5v1.5h-1.5zM360.5 170.4h1v1.2h-1zM436.0 281.2h1.5v1.5h-1.5zM427.6 164.5h1.2v1.5h-1.2zM451.2 268.7h1.2v1.5h-1.2zM484.5 219.4h1.5v1h-1.5zM452.2 162.8h1.2v1.5h-1.2zM426.5 267.9h1.2v1h-1.2zM425.2 263.1h1.5v1h-1.5zM378.9 164.4h1.2v1.5h-1.2zM420.0 224.1h1v1h-1zM461.5 192.4h1.2v1.2h-1.2zM463.8 285.3h1v1.5h-1zM412.9 246.9h1.5v1.5h-1.5zM464.0 264.3h1.5v1.5h-1.5zM435.7 284.6h1.5v1.5h-1.5zM372.0 248.7h1v1.2h-1zM369.3 282.5h1v1.5h-1zM403.1 209.9h1v1.5h-1zM380.5 219.8h1v1h-1zM358.5 177.9h1v1.5h-1zM402.6 253.9h1v1h-1zM399.7 255.8h1.2v1.5h-1.2zM406.0 289.9h1.2v1.5h-1.2zM376.7 294.4h1.2v1h-1.2zM455.5 175.1h1.5v1h-1.5zM409.6 279.6h1.5v1h-1.5zM439.0 198.5h1.5v1.2h-1.5zM463.5 270.0h1.5v1h-1.5zM467.3 260.1h1.2v1.5h-1.2zM414.1 257.6h1.5v1.5h-1.5zM432.9 289.5h1v1.2h-1zM386.0 183.3h1.2v1.5h-1.2zM466.0 220.7h1v1.5h-1zM459.4 252.7h1.5v1.2h-1.5z" fill="#627e24"/>
<path d="M623.9 224.2h1.5v1.5h-1.5zM569.9 291.8h1.5v1.2h-1.5zM515.8 212.2h1v1.2h-1zM588.3 234.1h1.2v1.5h-1.2zM528.6 200.6h1.2v1h-1.2zM595.0 285.5h1.2v1h-1.2zM596.2 230.3h1.5v1.2h-1.5zM530.3 185.3h1.2v1h-1.2zM519.4 239.8h1.5v1.5h-1.5zM590.9 182.9h1.5v1.2h-1.5zM624.1 195.5h1.2v1.2h-1.2zM523.1 240.2h1v1.2h-1zM579.3 174.2h1.5v1.5h-1.5zM603.9 258.8h1.2v1.5h-1.2zM615.3 240.2h1.5v1.5h-1.5zM535.1 166.3h1.2v1.2h-1.2zM582.0 228.0h1.2v1h-1.2zM508.3 167.7h1.2v1.5h-1.2zM593.1 219.4h1.5v1h-1.5zM565.8 255.3h1.5v1h-1.5zM514.8 253.4h1.5v1.5h-1.5zM592.0 205.5h1v1.5h-1zM616.6 170.6h1v1h-1zM528.8 196.6h1v1.5h-1zM568.7 187.3h1.5v1.5h-1.5zM628.6 270.4h1.5v1.2h-1.5zM568.1 178.3h1v1.2h-1zM535.3 190.9h1.5v1.5h-1.5zM588.6 182.1h1.5v1h-1.5zM554.2 251.3h1v1.2h-1zM589.6 288.3h1.2v1.5h-1.2zM568.0 206.5h1.5v1.5h-1.5zM582.1 191.1h1.5v1.2h-1.5zM559.3 250.3h1.2v1h-1.2zM540.1 264.5h1.5v1.5h-1.5zM536.5 285.3h1.5v1.5h-1.5zM614.6 165.6h1.5v1.5h-1.5zM594.7 259.0h1.5v1.5h-1.5zM539.7 169.5h1.5v1.5h-1.5zM632.4 231.6h1.5v1.2h-1.5zM566.5 257.7h1.2v1.5h-1.2zM617.2 277.6h1.5v1.5h-1.5zM545.2 291.8h1.2v1.2h-1.2zM511.2 251.7h1.2v1.5h-1.2zM526.3 168.5h1.5v1.2h-1.5zM608.5 229.5h1v1.5h-1zM556.5 241.1h1.5v1h-1.5zM547.8 252.4h1.2v1.2h-1.2zM593.7 243.2h1.5v1h-1.5zM618.0 283.1h1.2v1.5h-1.2zM580.3 204.4h1v1.5h-1zM617.4 173.4h1.5v1h-1.5zM518.6 293.5h1.2v1.5h-1.2zM582.0 211.8h1v1.5h-1zM565.1 241.6h1.2v1.5h-1.2zM603.6 287.1h1v1.5h-1zM531.6 161.6h1v1h-1zM549.8 210.7h1.2v1h-1.2zM574.6 205.2h1.5v1h-1.5zM559.1 289.5h1.5v1.2h-1.5zM524.8 250.1h1.5v1.5h-1.5zM553.4 259.6h1v1.5h-1zM632.2 252.7h1v1.5h-1zM518.0 198.0h1.5v1.2h-1.5zM546.0 178.2h1.5v1.5h-1.5zM530.3 281.7h1.5v1h-1.5zM553.1 283.2h1v1h-1zM564.3 187.7h1.2v1.5h-1.2zM631.3 229.7h1.2v1.5h-1.2zM533.1 190.4h1.5v1.5h-1.5zM570.4 164.9h1.5v1.5h-1.5zM549.7 259.4h1.5v1.2h-1.5zM529.6 258.1h1.5v1h-1.5zM549.9 177.5h1.5v1.5h-1.5zM616.2 203.6h1v1.5h-1zM614.7 235.3h1.2v1.2h-1.2zM619.0 266.7h1.5v1.5h-1.5zM593.6 289.0h1.2v1h-1.2zM568.4 174.6h1.2v1.5h-1.2zM620.1 168.1h1.2v1.2h-1.2z" fill="#a2c83a"/>
<path d="M595.0 235.6h1.5v1.2h-1.5zM541.0 205.6h1.2v1.5h-1.2zM545.7 222.7h1.5v1.5h-1.5zM578.7 288.4h1.5v1.5h-1.5zM531.2 170.8h1v1.2h-1zM634.1 173.0h1.5v1.5h-1.5zM596.8 170.3h1.5v1h-1.5zM623.0 230.2h1.5v1.5h-1.5zM506.0 165.0h1v1.5h-1zM627.5 162.1h1.5v1.2h-1.5zM508.6 292.0h1v1.5h-1zM514.1 205.7h1v1.5h-1zM560.0 202.6h1.5v1.2h-1.5zM526.1 219.2h1v1.5h-1zM634.3 167.4h1v1h-1zM614.6 215.8h1.5v1.2h-1.5zM561.9 161.8h1v1.5h-1zM550.6 278.5h1.5v1.5h-1.5zM514.6 209.6h1.2v1.2h-1.2zM561.1 259.8h1.5v1.5h-1.5zM529.5 281.4h1v1.2h-1zM528.0 266.1h1.5v1h-1.5zM562.2 294.4h1.5v1h-1.5zM607.4 225.5h1v1h-1zM555.1 268.5h1v1.5h-1zM503.6 216.3h1.5v1.5h-1.5zM569.4 211.1h1.2v1.2h-1.2zM551.1 206.3h1.5v1.5h-1.5zM586.1 257.3h1v1.5h-1zM534.3 267.2h1.5v1.2h-1.5zM610.7 233.9h1v1.2h-1zM537.8 247.7h1.2v1.2h-1.2zM620.0 200.2h1.2v1.5h-1.2zM585.9 265.8h1.2v1.5h-1.2zM633.4 271.5h1v1h-1zM507.5 286.4h1.2v1.5h-1.2zM512.4 282.7h1v1h-1zM533.9 172.9h1.5v1.2h-1.5zM597.3 251.3h1.5v1h-1.5zM636.1 220.3h1.5v1h-1.5zM601.5 191.8h1v1.5h-1zM618.9 180.5h1.5v1.5h-1.5zM523.7 284.4h1.5v1.2h-1.5zM526.2 281.5h1.5v1.2h-1.5zM561.4 198.5h1v1.2h-1zM616.1 182.9h1.2v1.5h-1.2zM606.2 237.7h1.5v1.2h-1.5zM635.6 245.8h1.2v1.2h-1.2zM553.0 225.6h1v1.2h-1zM523.6 235.1h1v1h-1z" fill="#627e24"/>
<text x="52.80" y="174.60" font-size="9.25" text-anchor="start" fill="#ffffff" font-weight="bold" >Target</text>
<rect x="661.5" y="182.5" width="6.5" height="90.5" fill="url(#gCB)" stroke="#222" stroke-width="0.8"/>
<text x="664.30" y="178.60" font-size="9.1" text-anchor="middle" fill="#231815" font-weight="normal" >3.0</text>
<text x="664.50" y="282.30" font-size="9.1" text-anchor="middle" fill="#231815" font-weight="normal" >0.0</text>
<text x="-0.50" y="25.20" font-size="18.5" text-anchor="start" fill="#231815" font-weight="bold" >a</text>
<text x="0.50" y="195.60" font-size="18.5" text-anchor="start" fill="#231815" font-weight="bold" >b</text>
<text x="1.50" y="333.80" font-size="18.5" text-anchor="start" fill="#231815" font-weight="bold" >c</text>
<text x="403.00" y="333.60" font-size="18.5" text-anchor="start" fill="#231815" font-weight="bold" >d</text>
<text x="3.20" y="528.50" font-size="18.5" text-anchor="start" fill="#231815" font-weight="bold" >e</text>
<text x="408.50" y="529.20" font-size="18.5" text-anchor="start" fill="#231815" font-weight="bold" >f</text>
<text x="3.80" y="728.60" font-size="18.5" text-anchor="start" fill="#231815" font-weight="bold" >g</text>
<text x="406.80" y="730.00" font-size="18.5" text-anchor="start" fill="#231815" font-weight="bold" >h</text>
<path d="M55.2 353.4 L59.9 353.2 L64.6 352.8 L69.3 353.1 L74.5 352.8 L79.2 354.6 L84.5 354.6 L89.7 352.8 L94.4 352.3 L99.6 354.0 L104.3 354.2 L109.6 354.6 L114.0 352.3 L118.9 357.0 L123.6 357.0 L128.5 356.0 L133.8 357.3 L138.8 357.8 L143.8 361.0 L148.7 361.0 L153.7 360.3 L158.6 361.0 L163.6 363.5 L168.6 364.2 L173.5 364.2 L178.5 363.5 L183.5 362.3 L188.4 361.0 L193.4 363.5 L198.4 364.7 L203.0 364.0 L207.7 365.5 L212.3 365.0 L217.4 365.5 L222.5 366.0 L226.8 366.0 L231.9 365.5 L237.0 365.5 L242.2 367.6 L246.8 367.6 L251.9 365.5 L256.7 368.1 L261.3 368.1 L266.4 366.8 L271.5 366.8 L276.6 369.4 L281.2 369.4 L286.4 368.6 L291.5 368.6 L296.1 367.6 L300.9 369.4 L306.0 370.1 L311.1 370.7 L315.5 371.2 L320.6 372.7 L325.2 368.6 L330.3 371.9 L335.4 371.2 L340.0 373.7 L345.1 370.1 L350.2 370.7 L354.8 372.7 L359.9 373.2 L364.8 373.2" fill="none" stroke="#f2b996" stroke-width="0.9"/>
<path d="M59.9 349.0V357.4M58.5 349.0h2.8M58.5 357.4h2.8M64.6 348.6V357.0M63.2 348.6h2.8M63.2 357.0h2.8M69.3 348.9V357.3M67.9 348.9h2.8M67.9 357.3h2.8M74.5 350.2V355.4M73.1 350.2h2.8M73.1 355.4h2.8M79.2 352.0V357.2M77.8 352.0h2.8M77.8 357.2h2.8M84.5 350.4V358.8M83.1 350.4h2.8M83.1 358.8h2.8M89.7 350.2V355.4M88.3 350.2h2.8M88.3 355.4h2.8M94.4 350.5V354.1M93.0 350.5h2.8M93.0 354.1h2.8M99.6 349.8V358.2M98.2 349.8h2.8M98.2 358.2h2.8M104.3 350.8V357.6M102.9 350.8h2.8M102.9 357.6h2.8M109.6 352.0V357.2M108.2 352.0h2.8M108.2 357.2h2.8M114.0 350.5V354.1M112.6 350.5h2.8M112.6 354.1h2.8M118.9 355.2V358.8M117.5 355.2h2.8M117.5 358.8h2.8M123.6 352.8V361.2M122.2 352.8h2.8M122.2 361.2h2.8M128.5 351.8V360.2M127.1 351.8h2.8M127.1 360.2h2.8M133.8 354.7V359.9M132.4 354.7h2.8M132.4 359.9h2.8M138.8 356.0V359.6M137.4 356.0h2.8M137.4 359.6h2.8M143.8 359.2V362.8M142.4 359.2h2.8M142.4 362.8h2.8M148.7 359.2V362.8M147.3 359.2h2.8M147.3 362.8h2.8M153.7 358.5V362.1M152.3 358.5h2.8M152.3 362.1h2.8M158.6 358.4V363.6M157.2 358.4h2.8M157.2 363.6h2.8M163.6 360.9V366.1M162.2 360.9h2.8M162.2 366.1h2.8M168.6 362.4V366.0M167.2 362.4h2.8M167.2 366.0h2.8M173.5 360.0V368.4M172.1 360.0h2.8M172.1 368.4h2.8M178.5 360.1V366.9M177.1 360.1h2.8M177.1 366.9h2.8M183.5 358.1V366.5M182.1 358.1h2.8M182.1 366.5h2.8M188.4 358.4V363.6M187.0 358.4h2.8M187.0 363.6h2.8M193.4 360.9V366.1M192.0 360.9h2.8M192.0 366.1h2.8M198.4 361.3V368.1M197.0 361.3h2.8M197.0 368.1h2.8M203.0 359.8V368.2M201.6 359.8h2.8M201.6 368.2h2.8M207.7 363.7V367.3M206.3 363.7h2.8M206.3 367.3h2.8M212.3 363.2V366.8M210.9 363.2h2.8M210.9 366.8h2.8M217.4 361.3V369.7M216.0 361.3h2.8M216.0 369.7h2.8M222.5 362.6V369.4M221.1 362.6h2.8M221.1 369.4h2.8M226.8 361.8V370.2M225.4 361.8h2.8M225.4 370.2h2.8M231.9 363.7V367.3M230.5 363.7h2.8M230.5 367.3h2.8M237.0 362.1V368.9M235.6 362.1h2.8M235.6 368.9h2.8M242.2 364.2V371.0M240.8 364.2h2.8M240.8 371.0h2.8M246.8 365.0V370.2M245.4 365.0h2.8M245.4 370.2h2.8M251.9 362.1V368.9M250.5 362.1h2.8M250.5 368.9h2.8M256.7 366.3V369.9M255.3 366.3h2.8M255.3 369.9h2.8M261.3 366.3V369.9M259.9 366.3h2.8M259.9 369.9h2.8M266.4 365.0V368.6M265.0 365.0h2.8M265.0 368.6h2.8M271.5 362.6V371.0M270.1 362.6h2.8M270.1 371.0h2.8M276.6 367.6V371.2M275.2 367.6h2.8M275.2 371.2h2.8M281.2 366.0V372.8M279.8 366.0h2.8M279.8 372.8h2.8M286.4 364.4V372.8M285.0 364.4h2.8M285.0 372.8h2.8M291.5 366.8V370.4M290.1 366.8h2.8M290.1 370.4h2.8M296.1 365.8V369.4M294.7 365.8h2.8M294.7 369.4h2.8M300.9 367.6V371.2M299.5 367.6h2.8M299.5 371.2h2.8M306.0 367.5V372.7M304.6 367.5h2.8M304.6 372.7h2.8M311.1 368.1V373.3M309.7 368.1h2.8M309.7 373.3h2.8M315.5 369.4V373.0M314.1 369.4h2.8M314.1 373.0h2.8M320.6 368.5V376.9M319.2 368.5h2.8M319.2 376.9h2.8M325.2 364.4V372.8M323.8 364.4h2.8M323.8 372.8h2.8M330.3 367.7V376.1M328.9 367.7h2.8M328.9 376.1h2.8M335.4 367.0V375.4M334.0 367.0h2.8M334.0 375.4h2.8M340.0 371.9V375.5M338.6 371.9h2.8M338.6 375.5h2.8M345.1 367.5V372.7M343.7 367.5h2.8M343.7 372.7h2.8M350.2 367.3V374.1M348.8 367.3h2.8M348.8 374.1h2.8M354.8 369.3V376.1M353.4 369.3h2.8M353.4 376.1h2.8M359.9 371.4V375.0M358.5 371.4h2.8M358.5 375.0h2.8M364.8 369.8V376.6M363.4 369.8h2.8M363.4 376.6h2.8" fill="none" stroke="#f2b996" stroke-width="0.7"/>
<path d="M55.2 352.3l1.1 1.1l-1.1 1.1l-1.1 -1.1zM59.9 352.1l1.1 1.1l-1.1 1.1l-1.1 -1.1zM64.6 351.7l1.1 1.1l-1.1 1.1l-1.1 -1.1zM69.3 352.0l1.1 1.1l-1.1 1.1l-1.1 -1.1zM74.5 351.7l1.1 1.1l-1.1 1.1l-1.1 -1.1zM79.2 353.5l1.1 1.1l-1.1 1.1l-1.1 -1.1zM84.5 353.5l1.1 1.1l-1.1 1.1l-1.1 -1.1zM89.7 351.7l1.1 1.1l-1.1 1.1l-1.1 -1.1zM94.4 351.2l1.1 1.1l-1.1 1.1l-1.1 -1.1zM99.6 352.9l1.1 1.1l-1.1 1.1l-1.1 -1.1zM104.3 353.1l1.1 1.1l-1.1 1.1l-1.1 -1.1zM109.6 353.5l1.1 1.1l-1.1 1.1l-1.1 -1.1zM114.0 351.2l1.1 1.1l-1.1 1.1l-1.1 -1.1zM118.9 355.9l1.1 1.1l-1.1 1.1l-1.1 -1.1zM123.6 355.9l1.1 1.1l-1.1 1.1l-1.1 -1.1zM128.5 354.9l1.1 1.1l-1.1 1.1l-1.1 -1.1zM133.8 356.2l1.1 1.1l-1.1 1.1l-1.1 -1.1zM138.8 356.7l1.1 1.1l-1.1 1.1l-1.1 -1.1zM143.8 359.9l1.1 1.1l-1.1 1.1l-1.1 -1.1zM148.7 359.9l1.1 1.1l-1.1 1.1l-1.1 -1.1zM153.7 359.2l1.1 1.1l-1.1 1.1l-1.1 -1.1zM158.6 359.9l1.1 1.1l-1.1 1.1l-1.1 -1.1zM163.6 362.4l1.1 1.1l-1.1 1.1l-1.1 -1.1zM168.6 363.1l1.1 1.1l-1.1 1.1l-1.1 -1.1zM173.5 363.1l1.1 1.1l-1.1 1.1l-1.1 -1.1zM178.5 362.4l1.1 1.1l-1.1 1.1l-1.1 -1.1zM183.5 361.2l1.1 1.1l-1.1 1.1l-1.1 -1.1zM188.4 359.9l1.1 1.1l-1.1 1.1l-1.1 -1.1zM193.4 362.4l1.1 1.1l-1.1 1.1l-1.1 -1.1zM198.4 363.6l1.1 1.1l-1.1 1.1l-1.1 -1.1zM203.0 362.9l1.1 1.1l-1.1 1.1l-1.1 -1.1zM207.7 364.4l1.1 1.1l-1.1 1.1l-1.1 -1.1zM212.3 363.9l1.1 1.1l-1.1 1.1l-1.1 -1.1zM217.4 364.4l1.1 1.1l-1.1 1.1l-1.1 -1.1zM222.5 364.9l1.1 1.1l-1.1 1.1l-1.1 -1.1zM226.8 364.9l1.1 1.1l-1.1 1.1l-1.1 -1.1zM231.9 364.4l1.1 1.1l-1.1 1.1l-1.1 -1.1zM237.0 364.4l1.1 1.1l-1.1 1.1l-1.1 -1.1zM242.2 366.5l1.1 1.1l-1.1 1.1l-1.1 -1.1zM246.8 366.5l1.1 1.1l-1.1 1.1l-1.1 -1.1zM251.9 364.4l1.1 1.1l-1.1 1.1l-1.1 -1.1zM256.7 367.0l1.1 1.1l-1.1 1.1l-1.1 -1.1zM261.3 367.0l1.1 1.1l-1.1 1.1l-1.1 -1.1zM266.4 365.7l1.1 1.1l-1.1 1.1l-1.1 -1.1zM271.5 365.7l1.1 1.1l-1.1 1.1l-1.1 -1.1zM276.6 368.3l1.1 1.1l-1.1 1.1l-1.1 -1.1zM281.2 368.3l1.1 1.1l-1.1 1.1l-1.1 -1.1zM286.4 367.5l1.1 1.1l-1.1 1.1l-1.1 -1.1zM291.5 367.5l1.1 1.1l-1.1 1.1l-1.1 -1.1zM296.1 366.5l1.1 1.1l-1.1 1.1l-1.1 -1.1zM300.9 368.3l1.1 1.1l-1.1 1.1l-1.1 -1.1zM306.0 369.0l1.1 1.1l-1.1 1.1l-1.1 -1.1zM311.1 369.6l1.1 1.1l-1.1 1.1l-1.1 -1.1zM315.5 370.1l1.1 1.1l-1.1 1.1l-1.1 -1.1zM320.6 371.6l1.1 1.1l-1.1 1.1l-1.1 -1.1zM325.2 367.5l1.1 1.1l-1.1 1.1l-1.1 -1.1zM330.3 370.8l1.1 1.1l-1.1 1.1l-1.1 -1.1zM335.4 370.1l1.1 1.1l-1.1 1.1l-1.1 -1.1zM340.0 372.6l1.1 1.1l-1.1 1.1l-1.1 -1.1zM345.1 369.0l1.1 1.1l-1.1 1.1l-1.1 -1.1zM350.2 369.6l1.1 1.1l-1.1 1.1l-1.1 -1.1zM354.8 371.6l1.1 1.1l-1.1 1.1l-1.1 -1.1zM359.9 372.1l1.1 1.1l-1.1 1.1l-1.1 -1.1zM364.8 372.1l1.1 1.1l-1.1 1.1l-1.1 -1.1z" fill="#f2b996"/>
<path d="M59.9 353.8 L64.6 354.6 L69.3 354.2 L74.5 354.6 L79.7 362.2 L84.6 360.5 L89.7 364.1 L94.5 364.9 L99.6 366.8 L104.5 370.1 L109.3 374.8 L114.0 378.2 L119.0 377.3 L123.8 378.0 L128.7 382.8 L133.8 384.1 L138.8 384.1 L143.8 388.3 L148.7 389.6 L153.7 393.3 L158.6 396.5 L163.6 398.2 L168.6 398.2 L173.5 402.0 L178.5 402.5 L183.5 403.9 L188.4 407.4 L193.4 407.4 L198.4 415.6 L203.0 417.6 L207.7 417.2 L212.3 421.8 L217.4 422.3 L222.5 425.6 L226.8 426.4 L231.9 430.0 L237.0 428.1 L242.2 429.4 L246.8 430.7 L251.9 429.9 L256.7 433.3 L261.3 435.0 L266.4 431.5 L271.5 435.0 L276.6 438.4 L281.2 442.7 L286.4 443.5 L291.5 443.5 L296.1 444.2 L300.9 444.8 L306.0 447.3 L311.1 447.3 L315.5 445.3 L320.6 447.8 L325.2 446.8 L330.3 446.8 L335.4 448.6 L340.0 449.4 L345.1 451.9 L350.2 451.9 L354.8 451.1 L359.9 452.9 L364.8 455.0" fill="none" stroke="#468dc7" stroke-width="0.9"/>
<path d="M59.9 351.8V355.8M58.5 351.8h2.8M58.5 355.8h2.8M64.6 353.6V355.6M63.2 353.6h2.8M63.2 355.6h2.8M69.3 351.6V356.8M67.9 351.6h2.8M67.9 356.8h2.8M74.5 353.6V355.6M73.1 353.6h2.8M73.1 355.6h2.8M79.7 360.7V363.7M78.3 360.7h2.8M78.3 363.7h2.8M84.6 359.0V362.0M83.2 359.0h2.8M83.2 362.0h2.8M89.7 363.1V365.1M88.3 363.1h2.8M88.3 365.1h2.8M94.5 363.9V365.9M93.1 363.9h2.8M93.1 365.9h2.8M99.6 365.8V367.8M98.2 365.8h2.8M98.2 367.8h2.8M104.5 367.5V372.7M103.1 367.5h2.8M103.1 372.7h2.8M109.3 372.2V377.4M107.9 372.2h2.8M107.9 377.4h2.8M114.0 376.7V379.7M112.6 376.7h2.8M112.6 379.7h2.8M119.0 375.8V378.8M117.6 375.8h2.8M117.6 378.8h2.8M123.8 375.4V380.6M122.4 375.4h2.8M122.4 380.6h2.8M128.7 381.3V384.3M127.3 381.3h2.8M127.3 384.3h2.8M133.8 382.6V385.6M132.4 382.6h2.8M132.4 385.6h2.8M138.8 381.5V386.7M137.4 381.5h2.8M137.4 386.7h2.8M143.8 385.7V390.9M142.4 385.7h2.8M142.4 390.9h2.8M148.7 388.6V390.6M147.3 388.6h2.8M147.3 390.6h2.8M153.7 390.7V395.9M152.3 390.7h2.8M152.3 395.9h2.8M158.6 393.9V399.1M157.2 393.9h2.8M157.2 399.1h2.8M163.6 396.7V399.7M162.2 396.7h2.8M162.2 399.7h2.8M168.6 397.2V399.2M167.2 397.2h2.8M167.2 399.2h2.8M173.5 400.0V404.0M172.1 400.0h2.8M172.1 404.0h2.8M178.5 400.5V404.5M177.1 400.5h2.8M177.1 404.5h2.8M183.5 402.9V404.9M182.1 402.9h2.8M182.1 404.9h2.8M188.4 405.9V408.9M187.0 405.9h2.8M187.0 408.9h2.8M193.4 405.9V408.9M192.0 405.9h2.8M192.0 408.9h2.8M198.4 413.0V418.2M197.0 413.0h2.8M197.0 418.2h2.8M203.0 416.6V418.6M201.6 416.6h2.8M201.6 418.6h2.8M207.7 416.2V418.2M206.3 416.2h2.8M206.3 418.2h2.8M212.3 420.3V423.3M210.9 420.3h2.8M210.9 423.3h2.8M217.4 420.8V423.8M216.0 420.8h2.8M216.0 423.8h2.8M222.5 423.0V428.2M221.1 423.0h2.8M221.1 428.2h2.8M226.8 424.4V428.4M225.4 424.4h2.8M225.4 428.4h2.8M231.9 429.0V431.0M230.5 429.0h2.8M230.5 431.0h2.8M237.0 426.1V430.1M235.6 426.1h2.8M235.6 430.1h2.8M242.2 427.4V431.4M240.8 427.4h2.8M240.8 431.4h2.8M246.8 428.1V433.3M245.4 428.1h2.8M245.4 433.3h2.8M251.9 428.9V430.9M250.5 428.9h2.8M250.5 430.9h2.8M256.7 432.3V434.3M255.3 432.3h2.8M255.3 434.3h2.8M261.3 434.0V436.0M259.9 434.0h2.8M259.9 436.0h2.8M266.4 430.0V433.0M265.0 430.0h2.8M265.0 433.0h2.8M271.5 433.5V436.5M270.1 433.5h2.8M270.1 436.5h2.8M276.6 437.4V439.4M275.2 437.4h2.8M275.2 439.4h2.8M281.2 440.7V444.7M279.8 440.7h2.8M279.8 444.7h2.8M286.4 441.5V445.5M285.0 441.5h2.8M285.0 445.5h2.8M291.5 440.9V446.1M290.1 440.9h2.8M290.1 446.1h2.8M296.1 442.7V445.7M294.7 442.7h2.8M294.7 445.7h2.8M300.9 442.2V447.4M299.5 442.2h2.8M299.5 447.4h2.8M306.0 445.8V448.8M304.6 445.8h2.8M304.6 448.8h2.8M311.1 444.7V449.9M309.7 444.7h2.8M309.7 449.9h2.8M315.5 443.8V446.8M314.1 443.8h2.8M314.1 446.8h2.8M320.6 446.3V449.3M319.2 446.3h2.8M319.2 449.3h2.8M325.2 444.8V448.8M323.8 444.8h2.8M323.8 448.8h2.8M330.3 445.3V448.3M328.9 445.3h2.8M328.9 448.3h2.8M335.4 447.1V450.1M334.0 447.1h2.8M334.0 450.1h2.8M340.0 447.9V450.9M338.6 447.9h2.8M338.6 450.9h2.8M345.1 450.4V453.4M343.7 450.4h2.8M343.7 453.4h2.8M350.2 450.4V453.4M348.8 450.4h2.8M348.8 453.4h2.8M354.8 448.5V453.7M353.4 448.5h2.8M353.4 453.7h2.8M359.9 450.3V455.5M358.5 450.3h2.8M358.5 455.5h2.8M364.8 454.0V456.0M363.4 454.0h2.8M363.4 456.0h2.8" fill="none" stroke="#468dc7" stroke-width="0.7"/>
<path d="M59.9 352.7l1.1 1.1l-1.1 1.1l-1.1 -1.1zM64.6 353.5l1.1 1.1l-1.1 1.1l-1.1 -1.1zM69.3 353.1l1.1 1.1l-1.1 1.1l-1.1 -1.1zM74.5 353.5l1.1 1.1l-1.1 1.1l-1.1 -1.1zM79.7 361.1l1.1 1.1l-1.1 1.1l-1.1 -1.1zM84.6 359.4l1.1 1.1l-1.1 1.1l-1.1 -1.1zM89.7 363.0l1.1 1.1l-1.1 1.1l-1.1 -1.1zM94.5 363.8l1.1 1.1l-1.1 1.1l-1.1 -1.1zM99.6 365.7l1.1 1.1l-1.1 1.1l-1.1 -1.1zM104.5 369.0l1.1 1.1l-1.1 1.1l-1.1 -1.1zM109.3 373.7l1.1 1.1l-1.1 1.1l-1.1 -1.1zM114.0 377.1l1.1 1.1l-1.1 1.1l-1.1 -1.1zM119.0 376.2l1.1 1.1l-1.1 1.1l-1.1 -1.1zM123.8 376.9l1.1 1.1l-1.1 1.1l-1.1 -1.1zM128.7 381.7l1.1 1.1l-1.1 1.1l-1.1 -1.1zM133.8 383.0l1.1 1.1l-1.1 1.1l-1.1 -1.1zM138.8 383.0l1.1 1.1l-1.1 1.1l-1.1 -1.1zM143.8 387.2l1.1 1.1l-1.1 1.1l-1.1 -1.1zM148.7 388.5l1.1 1.1l-1.1 1.1l-1.1 -1.1zM153.7 392.2l1.1 1.1l-1.1 1.1l-1.1 -1.1zM158.6 395.4l1.1 1.1l-1.1 1.1l-1.1 -1.1zM163.6 397.1l1.1 1.1l-1.1 1.1l-1.1 -1.1zM168.6 397.1l1.1 1.1l-1.1 1.1l-1.1 -1.1zM173.5 400.9l1.1 1.1l-1.1 1.1l-1.1 -1.1zM178.5 401.4l1.1 1.1l-1.1 1.1l-1.1 -1.1zM183.5 402.8l1.1 1.1l-1.1 1.1l-1.1 -1.1zM188.4 406.3l1.1 1.1l-1.1 1.1l-1.1 -1.1zM193.4 406.3l1.1 1.1l-1.1 1.1l-1.1 -1.1zM198.4 414.5l1.1 1.1l-1.1 1.1l-1.1 -1.1zM203.0 416.5l1.1 1.1l-1.1 1.1l-1.1 -1.1zM207.7 416.1l1.1 1.1l-1.1 1.1l-1.1 -1.1zM212.3 420.7l1.1 1.1l-1.1 1.1l-1.1 -1.1zM217.4 421.2l1.1 1.1l-1.1 1.1l-1.1 -1.1zM222.5 424.5l1.1 1.1l-1.1 1.1l-1.1 -1.1zM226.8 425.3l1.1 1.1l-1.1 1.1l-1.1 -1.1zM231.9 428.9l1.1 1.1l-1.1 1.1l-1.1 -1.1zM237.0 427.0l1.1 1.1l-1.1 1.1l-1.1 -1.1zM242.2 428.3l1.1 1.1l-1.1 1.1l-1.1 -1.1zM246.8 429.6l1.1 1.1l-1.1 1.1l-1.1 -1.1zM251.9 428.8l1.1 1.1l-1.1 1.1l-1.1 -1.1zM256.7 432.2l1.1 1.1l-1.1 1.1l-1.1 -1.1zM261.3 433.9l1.1 1.1l-1.1 1.1l-1.1 -1.1zM266.4 430.4l1.1 1.1l-1.1 1.1l-1.1 -1.1zM271.5 433.9l1.1 1.1l-1.1 1.1l-1.1 -1.1zM276.6 437.3l1.1 1.1l-1.1 1.1l-1.1 -1.1zM281.2 441.6l1.1 1.1l-1.1 1.1l-1.1 -1.1zM286.4 442.4l1.1 1.1l-1.1 1.1l-1.1 -1.1zM291.5 442.4l1.1 1.1l-1.1 1.1l-1.1 -1.1zM296.1 443.1l1.1 1.1l-1.1 1.1l-1.1 -1.1zM300.9 443.7l1.1 1.1l-1.1 1.1l-1.1 -1.1zM306.0 446.2l1.1 1.1l-1.1 1.1l-1.1 -1.1zM311.1 446.2l1.1 1.1l-1.1 1.1l-1.1 -1.1zM315.5 444.2l1.1 1.1l-1.1 1.1l-1.1 -1.1zM320.6 446.7l1.1 1.1l-1.1 1.1l-1.1 -1.1zM325.2 445.7l1.1 1.1l-1.1 1.1l-1.1 -1.1zM330.3 445.7l1.1 1.1l-1.1 1.1l-1.1 -1.1zM335.4 447.5l1.1 1.1l-1.1 1.1l-1.1 -1.1zM340.0 448.3l1.1 1.1l-1.1 1.1l-1.1 -1.1zM345.1 450.8l1.1 1.1l-1.1 1.1l-1.1 -1.1zM350.2 450.8l1.1 1.1l-1.1 1.1l-1.1 -1.1zM354.8 450.0l1.1 1.1l-1.1 1.1l-1.1 -1.1zM359.9 451.8l1.1 1.1l-1.1 1.1l-1.1 -1.1zM364.8 453.9l1.1 1.1l-1.1 1.1l-1.1 -1.1z" fill="#468dc7"/>
<path d="M45.9 331.6H374.3V485.2H45.9Z" fill="none" stroke="#1a1a1a" stroke-width="1.4"/>
<line x1="43.1" y1="353.4" x2="45.9" y2="353.4" stroke="#1a1a1a" stroke-width="1.1"/>
<text transform="translate(41.00 356.85) scale(1.0 1.1)" font-size="8.8" text-anchor="end" fill="#2a2522" font-weight="normal" >1.0</text>
<line x1="43.1" y1="397.2" x2="45.9" y2="397.2" stroke="#1a1a1a" stroke-width="1.1"/>
<text transform="translate(41.00 400.65) scale(1.0 1.1)" font-size="8.8" text-anchor="end" fill="#2a2522" font-weight="normal" >0.9</text>
<line x1="43.1" y1="440.99999999999994" x2="45.9" y2="440.99999999999994" stroke="#1a1a1a" stroke-width="1.1"/>
<text transform="translate(41.00 444.45) scale(1.0 1.1)" font-size="8.8" text-anchor="end" fill="#2a2522" font-weight="normal" >0.8</text>
<line x1="43.1" y1="484.79999999999995" x2="45.9" y2="484.79999999999995" stroke="#1a1a1a" stroke-width="1.1"/>
<text transform="translate(41.00 488.25) scale(1.0 1.1)" font-size="8.8" text-anchor="end" fill="#2a2522" font-weight="normal" >0.7</text>
<line x1="44.3" y1="375.3" x2="45.9" y2="375.3" stroke="#1a1a1a" stroke-width="1"/>
<line x1="44.3" y1="419.09999999999997" x2="45.9" y2="419.09999999999997" stroke="#1a1a1a" stroke-width="1"/>
<line x1="44.3" y1="462.9" x2="45.9" y2="462.9" stroke="#1a1a1a" stroke-width="1"/>
<line x1="55.2" y1="485.2" x2="55.2" y2="488.0" stroke="#1a1a1a" stroke-width="1.1"/>
<text transform="translate(55.20 497.60) scale(1.0 1.1)" font-size="8.8" text-anchor="middle" fill="#2a2522" font-weight="normal" >0</text>
<line x1="96.1" y1="485.2" x2="96.1" y2="488.0" stroke="#1a1a1a" stroke-width="1.1"/>
<text transform="translate(96.10 497.60) scale(1.0 1.1)" font-size="8.8" text-anchor="middle" fill="#2a2522" font-weight="normal" >200</text>
<line x1="137.0" y1="485.2" x2="137.0" y2="488.0" stroke="#1a1a1a" stroke-width="1.1"/>
<text transform="translate(137.00 497.60) scale(1.0 1.1)" font-size="8.8" text-anchor="middle" fill="#2a2522" font-weight="normal" >400</text>
<line x1="177.9" y1="485.2" x2="177.9" y2="488.0" stroke="#1a1a1a" stroke-width="1.1"/>
<text transform="translate(177.90 497.60) scale(1.0 1.1)" font-size="8.8" text-anchor="middle" fill="#2a2522" font-weight="normal" >600</text>
<line x1="218.8" y1="485.2" x2="218.8" y2="488.0" stroke="#1a1a1a" stroke-width="1.1"/>
<text transform="translate(218.80 497.60) scale(1.0 1.1)" font-size="8.8" text-anchor="middle" fill="#2a2522" font-weight="normal" >800</text>
<line x1="259.7" y1="485.2" x2="259.7" y2="488.0" stroke="#1a1a1a" stroke-width="1.1"/>
<text transform="translate(259.70 497.60) scale(1.0 1.1)" font-size="8.8" text-anchor="middle" fill="#2a2522" font-weight="normal" >1000</text>
<line x1="300.6" y1="485.2" x2="300.6" y2="488.0" stroke="#1a1a1a" stroke-width="1.1"/>
<text transform="translate(300.60 497.60) scale(1.0 1.1)" font-size="8.8" text-anchor="middle" fill="#2a2522" font-weight="normal" >1200</text>
<line x1="341.5" y1="485.2" x2="341.5" y2="488.0" stroke="#1a1a1a" stroke-width="1.1"/>
<text transform="translate(341.50 497.60) scale(1.0 1.1)" font-size="8.8" text-anchor="middle" fill="#2a2522" font-weight="normal" >1400</text>
<line x1="75.65" y1="485.2" x2="75.65" y2="486.8" stroke="#1a1a1a" stroke-width="1"/>
<line x1="116.55000000000001" y1="485.2" x2="116.55000000000001" y2="486.8" stroke="#1a1a1a" stroke-width="1"/>
<line x1="157.45" y1="485.2" x2="157.45" y2="486.8" stroke="#1a1a1a" stroke-width="1"/>
<line x1="198.35000000000002" y1="485.2" x2="198.35000000000002" y2="486.8" stroke="#1a1a1a" stroke-width="1"/>
<line x1="239.25" y1="485.2" x2="239.25" y2="486.8" stroke="#1a1a1a" stroke-width="1"/>
<line x1="280.15" y1="485.2" x2="280.15" y2="486.8" stroke="#1a1a1a" stroke-width="1"/>
<line x1="321.05" y1="485.2" x2="321.05" y2="486.8" stroke="#1a1a1a" stroke-width="1"/>
<line x1="361.95" y1="485.2" x2="361.95" y2="486.8" stroke="#1a1a1a" stroke-width="1"/>
<text transform="translate(209.60 509.30) scale(1.0 1.1)" font-size="9.0" text-anchor="middle" fill="#231815" font-weight="normal" >Time (h)</text>
<text transform="translate(17.2 407.2) scale(1 1.1) rotate(-90)" x="0" y="0" font-size="8.4" text-anchor="middle" fill="#231815">Normalized PCE (a.u.)</text>
<line x1="55.2" y1="463.3" x2="73.2" y2="463.3" stroke="#468dc7" stroke-width="0.85"/>
<path d="M64.2 461.90000000000003l1.4 1.4l-1.4 1.4l-1.4 -1.4z" fill="#468dc7"/>
<line x1="55.2" y1="475.4" x2="73.2" y2="475.4" stroke="#f2b996" stroke-width="0.85"/>
<path d="M64.2 474.0l1.4 1.4l-1.4 1.4l-1.4 -1.4z" fill="#f2b996"/>
<text transform="translate(75.40 466.10) scale(1.0 1.1)" font-size="8.9" text-anchor="start" fill="#231815" font-weight="normal" >Control</text>
<text transform="translate(75.40 478.30) scale(1.0 1.1)" font-size="8.9" text-anchor="start" fill="#231815" font-weight="normal" >Target</text>
<text x="52.2" y="400.6" font-size="9.1" font-weight="bold" fill="#231815">FAPbI<tspan font-size="4.8" dy="0.9">3</tspan></text>
<text transform="translate(336.60 362.90) scale(1.0 1.1)" font-size="9.1" text-anchor="start" fill="#231815" font-weight="normal" >&gt;95%</text>
<text transform="translate(336.30 441.90) scale(1.0 1.1)" font-size="9.1" text-anchor="start" fill="#231815" font-weight="normal" >~77%</text>
<path d="M44.7 549.9 L76.0 547.9 L107.2 547.1 L138.4 551.5 L169.7 550.1 L200.9 547.1 L232.2 549.6 L263.4 551.8 L294.7 549.1 L325.9 549.1 L357.2 549.8" fill="none" stroke="#f2b996" stroke-width="0.9"/>
<path d="M76.0 546.6V549.2M74.4 546.6h3.2M74.4 549.2h3.2M107.2 546.5V547.7M105.6 546.5h3.2M105.6 547.7h3.2M138.4 550.9V552.1M136.8 550.9h3.2M136.8 552.1h3.2M169.7 549.6V550.6M168.1 549.6h3.2M168.1 550.6h3.2M200.9 545.9V548.3M199.3 545.9h3.2M199.3 548.3h3.2M232.2 549.0V550.2M230.6 549.0h3.2M230.6 550.2h3.2M263.4 550.8V552.8M261.8 550.8h3.2M261.8 552.8h3.2M294.7 548.3V549.9M293.1 548.3h3.2M293.1 549.9h3.2M325.9 548.6V549.6M324.3 548.6h3.2M324.3 549.6h3.2M357.2 549.0V550.6M355.6 549.0h3.2M355.6 550.6h3.2" fill="none" stroke="#f2b996" stroke-width="0.7"/>
<path d="M44.7 548.8l1.1 1.1l-1.1 1.1l-1.1 -1.1zM76.0 546.8l1.1 1.1l-1.1 1.1l-1.1 -1.1zM107.2 546.0l1.1 1.1l-1.1 1.1l-1.1 -1.1zM138.4 550.4l1.1 1.1l-1.1 1.1l-1.1 -1.1zM169.7 549.0l1.1 1.1l-1.1 1.1l-1.1 -1.1zM200.9 546.0l1.1 1.1l-1.1 1.1l-1.1 -1.1zM232.2 548.5l1.1 1.1l-1.1 1.1l-1.1 -1.1zM263.4 550.7l1.1 1.1l-1.1 1.1l-1.1 -1.1zM294.7 548.0l1.1 1.1l-1.1 1.1l-1.1 -1.1zM325.9 548.0l1.1 1.1l-1.1 1.1l-1.1 -1.1zM357.2 548.7l1.1 1.1l-1.1 1.1l-1.1 -1.1z" fill="#f2b996"/>
<path d="M44.7 549.9 L76.0 551.4 L107.2 563.2 L138.4 579.5 L169.7 594.3 L200.9 604.3 L232.2 612.5 L263.4 618.1 L294.7 622.9 L325.9 633.9 L357.2 643.0" fill="none" stroke="#468dc7" stroke-width="0.9"/>
<path d="M76.0 550.4V552.4M74.4 550.4h3.2M74.4 552.4h3.2M107.2 558.8V567.6M105.6 558.8h3.2M105.6 567.6h3.2M138.4 573.1V585.9M136.8 573.1h3.2M136.8 585.9h3.2M169.7 586.1V602.5M168.1 586.1h3.2M168.1 602.5h3.2M200.9 597.3V611.3M199.3 597.3h3.2M199.3 611.3h3.2M232.2 605.8V619.2M230.6 605.8h3.2M230.6 619.2h3.2M263.4 613.5V622.7M261.8 613.5h3.2M261.8 622.7h3.2M294.7 619.6V626.2M293.1 619.6h3.2M293.1 626.2h3.2M325.9 622.3V645.5M324.3 622.3h3.2M324.3 645.5h3.2M357.2 632.3V653.7M355.6 632.3h3.2M355.6 653.7h3.2" fill="none" stroke="#468dc7" stroke-width="0.7"/>
<path d="M44.7 548.8l1.1 1.1l-1.1 1.1l-1.1 -1.1zM76.0 550.3l1.1 1.1l-1.1 1.1l-1.1 -1.1zM107.2 562.1l1.1 1.1l-1.1 1.1l-1.1 -1.1zM138.4 578.4l1.1 1.1l-1.1 1.1l-1.1 -1.1zM169.7 593.2l1.1 1.1l-1.1 1.1l-1.1 -1.1zM200.9 603.2l1.1 1.1l-1.1 1.1l-1.1 -1.1zM232.2 611.4l1.1 1.1l-1.1 1.1l-1.1 -1.1zM263.4 617.0l1.1 1.1l-1.1 1.1l-1.1 -1.1zM294.7 621.8l1.1 1.1l-1.1 1.1l-1.1 -1.1zM325.9 632.8l1.1 1.1l-1.1 1.1l-1.1 -1.1zM357.2 641.9l1.1 1.1l-1.1 1.1l-1.1 -1.1z" fill="#468dc7"/>
<path d="M44.9 527.9H373.3V681.6H44.9Z" fill="none" stroke="#1a1a1a" stroke-width="1.4"/>
<line x1="42.1" y1="549.9" x2="44.9" y2="549.9" stroke="#1a1a1a" stroke-width="1.1"/>
<text transform="translate(40.00 553.35) scale(1.0 1.1)" font-size="8.8" text-anchor="end" fill="#2a2522" font-weight="normal" >1.0</text>
<line x1="42.1" y1="593.9" x2="44.9" y2="593.9" stroke="#1a1a1a" stroke-width="1.1"/>
<text transform="translate(40.00 597.35) scale(1.0 1.1)" font-size="8.8" text-anchor="end" fill="#2a2522" font-weight="normal" >0.9</text>
<line x1="42.1" y1="637.9" x2="44.9" y2="637.9" stroke="#1a1a1a" stroke-width="1.1"/>
<text transform="translate(40.00 641.35) scale(1.0 1.1)" font-size="8.8" text-anchor="end" fill="#2a2522" font-weight="normal" >0.8</text>
<line x1="42.1" y1="681.9" x2="44.9" y2="681.9" stroke="#1a1a1a" stroke-width="1.1"/>
<text transform="translate(40.00 685.35) scale(1.0 1.1)" font-size="8.8" text-anchor="end" fill="#2a2522" font-weight="normal" >0.7</text>
<line x1="43.3" y1="571.9" x2="44.9" y2="571.9" stroke="#1a1a1a" stroke-width="1"/>
<line x1="43.3" y1="615.9" x2="44.9" y2="615.9" stroke="#1a1a1a" stroke-width="1"/>
<line x1="43.3" y1="659.9" x2="44.9" y2="659.9" stroke="#1a1a1a" stroke-width="1"/>
<line x1="44.7" y1="681.6" x2="44.7" y2="684.4" stroke="#1a1a1a" stroke-width="1.1"/>
<text transform="translate(44.70 693.80) scale(1.0 1.1)" font-size="8.8" text-anchor="middle" fill="#2a2522" font-weight="normal" >0</text>
<line x1="107.2" y1="681.6" x2="107.2" y2="684.4" stroke="#1a1a1a" stroke-width="1.1"/>
<text transform="translate(107.20 693.80) scale(1.0 1.1)" font-size="8.8" text-anchor="middle" fill="#2a2522" font-weight="normal" >200</text>
<line x1="169.7" y1="681.6" x2="169.7" y2="684.4" stroke="#1a1a1a" stroke-width="1.1"/>
<text transform="translate(169.70 693.80) scale(1.0 1.1)" font-size="8.8" text-anchor="middle" fill="#2a2522" font-weight="normal" >400</text>
<line x1="232.2" y1="681.6" x2="232.2" y2="684.4" stroke="#1a1a1a" stroke-width="1.1"/>
<text transform="translate(232.20 693.80) scale(1.0 1.1)" font-size="8.8" text-anchor="middle" fill="#2a2522" font-weight="normal" >600</text>
<line x1="294.7" y1="681.6" x2="294.7" y2="684.4" stroke="#1a1a1a" stroke-width="1.1"/>
<text transform="translate(294.70 693.80) scale(1.0 1.1)" font-size="8.8" text-anchor="middle" fill="#2a2522" font-weight="normal" >800</text>
<line x1="357.2" y1="681.6" x2="357.2" y2="684.4" stroke="#1a1a1a" stroke-width="1.1"/>
<text transform="translate(357.20 693.80) scale(1.0 1.1)" font-size="8.8" text-anchor="middle" fill="#2a2522" font-weight="normal" >1000</text>
<line x1="75.95" y1="681.6" x2="75.95" y2="683.2" stroke="#1a1a1a" stroke-width="1"/>
<line x1="138.45" y1="681.6" x2="138.45" y2="683.2" stroke="#1a1a1a" stroke-width="1"/>
<line x1="200.95" y1="681.6" x2="200.95" y2="683.2" stroke="#1a1a1a" stroke-width="1"/>
<line x1="263.45" y1="681.6" x2="263.45" y2="683.2" stroke="#1a1a1a" stroke-width="1"/>
<line x1="325.95" y1="681.6" x2="325.95" y2="683.2" stroke="#1a1a1a" stroke-width="1"/>
<text transform="translate(200.30 706.00) scale(1.0 1.1)" font-size="9.0" text-anchor="middle" fill="#231815" font-weight="normal" >Time (h)</text>
<text transform="translate(17.2 606.8) scale(1 1.1) rotate(-90)" x="0" y="0" font-size="8.4" text-anchor="middle" fill="#231815">Normalized PCE (a.u.)</text>
<line x1="56" y1="659.6" x2="74" y2="659.6" stroke="#468dc7" stroke-width="0.85"/>
<path d="M65 658.2l1.4 1.4l-1.4 1.4l-1.4 -1.4z" fill="#468dc7"/>
<line x1="56" y1="671.5" x2="74" y2="671.5" stroke="#f2b996" stroke-width="0.85"/>
<path d="M65 670.1l1.4 1.4l-1.4 1.4l-1.4 -1.4z" fill="#f2b996"/>
<text transform="translate(76.20 662.40) scale(1.0 1.1)" font-size="8.9" text-anchor="start" fill="#231815" font-weight="normal" >Control</text>
<text transform="translate(76.20 674.40) scale(1.0 1.1)" font-size="8.9" text-anchor="start" fill="#231815" font-weight="normal" >Target</text>
<text x="52.6" y="596.4" font-size="9.1" font-weight="bold" fill="#231815">FAPbI<tspan font-size="4.8" dy="0.9">3</tspan></text>
<text transform="translate(337.30 545.80) scale(1.0 1.1)" font-size="9.1" text-anchor="start" fill="#231815" font-weight="normal" >&gt;99%</text>
<text transform="translate(336.30 624.70) scale(1.0 1.1)" font-size="9.1" text-anchor="start" fill="#231815" font-weight="normal" >~79%</text>
<path d="M43.7 747.0 L47.0 748.0 L50.2 748.7 L53.5 749.1 L56.7 750.0 L60.0 748.7 L63.3 749.9 L66.5 744.2 L69.8 747.0 L73.0 750.0 L76.3 748.2 L79.6 749.8 L82.8 744.7 L86.1 747.0 L89.3 745.6 L92.6 747.5 L95.9 747.7 L99.1 744.1 L102.4 745.4 L105.6 745.8 L108.9 749.9 L112.2 748.9 L115.4 745.0 L118.7 749.1 L121.9 744.9 L125.2 748.0 L128.5 744.8 L131.7 744.0 L135.0 749.6 L138.2 745.3 L141.5 745.4 L144.8 750.3 L148.0 749.6 L151.3 745.9 L154.5 750.2 L157.8 747.5 L161.1 748.3 L164.3 745.3 L167.6 750.0 L170.8 748.4 L174.1 750.2 L177.4 749.7 L180.6 745.9 L183.9 746.3 L187.1 745.1 L190.4 744.9 L193.7 744.4 L196.9 745.9 L200.2 747.9 L203.4 744.0 L206.7 748.3 L210.0 746.2 L213.2 746.0 L216.5 749.2 L219.7 747.1 L223.0 746.0 L226.3 747.1 L229.5 748.5 L232.8 744.4 L236.0 750.2 L239.3 744.1 L242.6 748.8 L245.8 749.4 L249.1 744.1 L252.3 749.0 L255.6 746.3 L258.9 747.7 L262.1 744.1 L265.4 744.3 L268.6 745.2 L271.9 750.1 L275.2 745.3 L278.4 748.8 L281.7 749.9 L284.9 750.0 L288.2 746.2 L291.5 746.3 L294.7 747.4 L298.0 749.0 L301.2 744.7 L304.5 748.8 L307.8 749.1 L311.0 749.5 L314.3 744.2 L317.5 750.1 L320.8 744.6 L324.1 746.2 L327.3 747.9 L330.6 749.9 L333.8 746.2 L337.1 749.9 L340.4 747.5 L343.6 746.0 L346.9 746.0 L350.1 745.1 L353.4 744.5 L356.7 745.0 L359.9 748.4 L363.2 750.4 L366.4 745.0 L369.7 744.3" fill="none" stroke="#f2b996" stroke-width="0.9"/>
<path d="M47.0 742.8V753.2M45.7 742.8h2.6M45.7 753.2h2.6M50.2 746.2V751.2M48.9 746.2h2.6M48.9 751.2h2.6M53.5 745.8V752.4M52.2 745.8h2.6M52.2 752.4h2.6M56.7 745.8V754.2M55.4 745.8h2.6M55.4 754.2h2.6M60.0 744.5V752.9M58.7 744.5h2.6M58.7 752.9h2.6M63.3 744.7V755.1M62.0 744.7h2.6M62.0 755.1h2.6M66.5 739.0V749.4M65.2 739.0h2.6M65.2 749.4h2.6M69.8 743.7V750.3M68.5 743.7h2.6M68.5 750.3h2.6M73.0 747.5V752.5M71.7 747.5h2.6M71.7 752.5h2.6M76.3 745.7V750.7M75.0 745.7h2.6M75.0 750.7h2.6M79.6 744.6V755.0M78.3 744.6h2.6M78.3 755.0h2.6M82.8 740.5V748.9M81.5 740.5h2.6M81.5 748.9h2.6M86.1 743.7V750.3M84.8 743.7h2.6M84.8 750.3h2.6M89.3 742.3V748.9M88.0 742.3h2.6M88.0 748.9h2.6M92.6 744.2V750.8M91.3 744.2h2.6M91.3 750.8h2.6M95.9 742.5V752.9M94.6 742.5h2.6M94.6 752.9h2.6M99.1 741.6V746.6M97.8 741.6h2.6M97.8 746.6h2.6M102.4 742.1V748.7M101.1 742.1h2.6M101.1 748.7h2.6M105.6 740.6V751.0M104.3 740.6h2.6M104.3 751.0h2.6M108.9 745.7V754.1M107.6 745.7h2.6M107.6 754.1h2.6M112.2 745.6V752.2M110.9 745.6h2.6M110.9 752.2h2.6M115.4 742.5V747.5M114.1 742.5h2.6M114.1 747.5h2.6M118.7 743.9V754.3M117.4 743.9h2.6M117.4 754.3h2.6M121.9 740.7V749.1M120.6 740.7h2.6M120.6 749.1h2.6M125.2 744.7V751.3M123.9 744.7h2.6M123.9 751.3h2.6M128.5 739.6V750.0M127.2 739.6h2.6M127.2 750.0h2.6M131.7 740.7V747.3M130.4 740.7h2.6M130.4 747.3h2.6M135.0 744.4V754.8M133.7 744.4h2.6M133.7 754.8h2.6M138.2 740.1V750.5M136.9 740.1h2.6M136.9 750.5h2.6M141.5 741.2V749.6M140.2 741.2h2.6M140.2 749.6h2.6M144.8 745.1V755.5M143.5 745.1h2.6M143.5 755.5h2.6M148.0 745.4V753.8M146.7 745.4h2.6M146.7 753.8h2.6M151.3 741.7V750.1M150.0 741.7h2.6M150.0 750.1h2.6M154.5 745.0V755.4M153.2 745.0h2.6M153.2 755.4h2.6M157.8 742.3V752.7M156.5 742.3h2.6M156.5 752.7h2.6M161.1 745.0V751.6M159.8 745.0h2.6M159.8 751.6h2.6M164.3 742.8V747.8M163.0 742.8h2.6M163.0 747.8h2.6M167.6 744.8V755.2M166.3 744.8h2.6M166.3 755.2h2.6M170.8 745.1V751.7M169.5 745.1h2.6M169.5 751.7h2.6M174.1 745.0V755.4M172.8 745.0h2.6M172.8 755.4h2.6M177.4 745.5V753.9M176.1 745.5h2.6M176.1 753.9h2.6M180.6 742.6V749.2M179.3 742.6h2.6M179.3 749.2h2.6M183.9 743.8V748.8M182.6 743.8h2.6M182.6 748.8h2.6M187.1 739.9V750.3M185.8 739.9h2.6M185.8 750.3h2.6M190.4 740.7V749.1M189.1 740.7h2.6M189.1 749.1h2.6M193.7 740.2V748.6M192.4 740.2h2.6M192.4 748.6h2.6M196.9 743.4V748.4M195.6 743.4h2.6M195.6 748.4h2.6M200.2 743.7V752.1M198.9 743.7h2.6M198.9 752.1h2.6M203.4 741.5V746.5M202.1 741.5h2.6M202.1 746.5h2.6M206.7 744.1V752.5M205.4 744.1h2.6M205.4 752.5h2.6M210.0 742.0V750.4M208.7 742.0h2.6M208.7 750.4h2.6M213.2 741.8V750.2M211.9 741.8h2.6M211.9 750.2h2.6M216.5 744.0V754.4M215.2 744.0h2.6M215.2 754.4h2.6M219.7 742.9V751.3M218.4 742.9h2.6M218.4 751.3h2.6M223.0 741.8V750.2M221.7 741.8h2.6M221.7 750.2h2.6M226.3 742.9V751.3M225.0 742.9h2.6M225.0 751.3h2.6M229.5 745.2V751.8M228.2 745.2h2.6M228.2 751.8h2.6M232.8 741.9V746.9M231.5 741.9h2.6M231.5 746.9h2.6M236.0 745.0V755.4M234.7 745.0h2.6M234.7 755.4h2.6M239.3 739.9V748.3M238.0 739.9h2.6M238.0 748.3h2.6M242.6 744.6V753.0M241.3 744.6h2.6M241.3 753.0h2.6M245.8 745.2V753.6M244.5 745.2h2.6M244.5 753.6h2.6M249.1 738.9V749.3M247.8 738.9h2.6M247.8 749.3h2.6M252.3 744.8V753.2M251.0 744.8h2.6M251.0 753.2h2.6M255.6 742.1V750.5M254.3 742.1h2.6M254.3 750.5h2.6M258.9 743.5V751.9M257.6 743.5h2.6M257.6 751.9h2.6M262.1 739.9V748.3M260.8 739.9h2.6M260.8 748.3h2.6M265.4 740.1V748.5M264.1 740.1h2.6M264.1 748.5h2.6M268.6 740.0V750.4M267.3 740.0h2.6M267.3 750.4h2.6M271.9 745.9V754.3M270.6 745.9h2.6M270.6 754.3h2.6M275.2 742.0V748.6M273.9 742.0h2.6M273.9 748.6h2.6M278.4 743.6V754.0M277.1 743.6h2.6M277.1 754.0h2.6M281.7 745.7V754.1M280.4 745.7h2.6M280.4 754.1h2.6M284.9 745.8V754.2M283.6 745.8h2.6M283.6 754.2h2.6M288.2 742.9V749.5M286.9 742.9h2.6M286.9 749.5h2.6M291.5 743.0V749.6M290.2 743.0h2.6M290.2 749.6h2.6M294.7 744.1V750.7M293.4 744.1h2.6M293.4 750.7h2.6M298.0 744.8V753.2M296.7 744.8h2.6M296.7 753.2h2.6M301.2 739.5V749.9M299.9 739.5h2.6M299.9 749.9h2.6M304.5 744.6V753.0M303.2 744.6h2.6M303.2 753.0h2.6M307.8 746.6V751.6M306.5 746.6h2.6M306.5 751.6h2.6M311.0 744.3V754.7M309.7 744.3h2.6M309.7 754.7h2.6M314.3 740.9V747.5M313.0 740.9h2.6M313.0 747.5h2.6M317.5 744.9V755.3M316.2 744.9h2.6M316.2 755.3h2.6M320.8 740.4V748.8M319.5 740.4h2.6M319.5 748.8h2.6M324.1 742.0V750.4M322.8 742.0h2.6M322.8 750.4h2.6M327.3 745.4V750.4M326.0 745.4h2.6M326.0 750.4h2.6M330.6 746.6V753.2M329.3 746.6h2.6M329.3 753.2h2.6M333.8 742.9V749.5M332.5 742.9h2.6M332.5 749.5h2.6M337.1 744.7V755.1M335.8 744.7h2.6M335.8 755.1h2.6M340.4 744.2V750.8M339.1 744.2h2.6M339.1 750.8h2.6M343.6 742.7V749.3M342.3 742.7h2.6M342.3 749.3h2.6M346.9 742.7V749.3M345.6 742.7h2.6M345.6 749.3h2.6M350.1 742.6V747.6M348.8 742.6h2.6M348.8 747.6h2.6M353.4 739.3V749.7M352.1 739.3h2.6M352.1 749.7h2.6M356.7 741.7V748.3M355.4 741.7h2.6M355.4 748.3h2.6M359.9 745.1V751.7M358.6 745.1h2.6M358.6 751.7h2.6M363.2 747.9V752.9M361.9 747.9h2.6M361.9 752.9h2.6M366.4 741.7V748.3M365.1 741.7h2.6M365.1 748.3h2.6M369.7 741.8V746.8M368.4 741.8h2.6M368.4 746.8h2.6" fill="none" stroke="#f2b996" stroke-width="0.7"/>
<path d="M43.7 746.0l1.0 1.0l-1.0 1.0l-1.0 -1.0zM47.0 747.0l1.0 1.0l-1.0 1.0l-1.0 -1.0zM50.2 747.7l1.0 1.0l-1.0 1.0l-1.0 -1.0zM53.5 748.1l1.0 1.0l-1.0 1.0l-1.0 -1.0zM56.7 749.0l1.0 1.0l-1.0 1.0l-1.0 -1.0zM60.0 747.7l1.0 1.0l-1.0 1.0l-1.0 -1.0zM63.3 748.9l1.0 1.0l-1.0 1.0l-1.0 -1.0zM66.5 743.2l1.0 1.0l-1.0 1.0l-1.0 -1.0zM69.8 746.0l1.0 1.0l-1.0 1.0l-1.0 -1.0zM73.0 749.0l1.0 1.0l-1.0 1.0l-1.0 -1.0zM76.3 747.2l1.0 1.0l-1.0 1.0l-1.0 -1.0zM79.6 748.8l1.0 1.0l-1.0 1.0l-1.0 -1.0zM82.8 743.7l1.0 1.0l-1.0 1.0l-1.0 -1.0zM86.1 746.0l1.0 1.0l-1.0 1.0l-1.0 -1.0zM89.3 744.6l1.0 1.0l-1.0 1.0l-1.0 -1.0zM92.6 746.5l1.0 1.0l-1.0 1.0l-1.0 -1.0zM95.9 746.7l1.0 1.0l-1.0 1.0l-1.0 -1.0zM99.1 743.1l1.0 1.0l-1.0 1.0l-1.0 -1.0zM102.4 744.4l1.0 1.0l-1.0 1.0l-1.0 -1.0zM105.6 744.8l1.0 1.0l-1.0 1.0l-1.0 -1.0zM108.9 748.9l1.0 1.0l-1.0 1.0l-1.0 -1.0zM112.2 747.9l1.0 1.0l-1.0 1.0l-1.0 -1.0zM115.4 744.0l1.0 1.0l-1.0 1.0l-1.0 -1.0zM118.7 748.1l1.0 1.0l-1.0 1.0l-1.0 -1.0zM121.9 743.9l1.0 1.0l-1.0 1.0l-1.0 -1.0zM125.2 747.0l1.0 1.0l-1.0 1.0l-1.0 -1.0zM128.5 743.8l1.0 1.0l-1.0 1.0l-1.0 -1.0zM131.7 743.0l1.0 1.0l-1.0 1.0l-1.0 -1.0zM135.0 748.6l1.0 1.0l-1.0 1.0l-1.0 -1.0zM138.2 744.3l1.0 1.0l-1.0 1.0l-1.0 -1.0zM141.5 744.4l1.0 1.0l-1.0 1.0l-1.0 -1.0zM144.8 749.3l1.0 1.0l-1.0 1.0l-1.0 -1.0zM148.0 748.6l1.0 1.0l-1.0 1.0l-1.0 -1.0zM151.3 744.9l1.0 1.0l-1.0 1.0l-1.0 -1.0zM154.5 749.2l1.0 1.0l-1.0 1.0l-1.0 -1.0zM157.8 746.5l1.0 1.0l-1.0 1.0l-1.0 -1.0zM161.1 747.3l1.0 1.0l-1.0 1.0l-1.0 -1.0zM164.3 744.3l1.0 1.0l-1.0 1.0l-1.0 -1.0zM167.6 749.0l1.0 1.0l-1.0 1.0l-1.0 -1.0zM170.8 747.4l1.0 1.0l-1.0 1.0l-1.0 -1.0zM174.1 749.2l1.0 1.0l-1.0 1.0l-1.0 -1.0zM177.4 748.7l1.0 1.0l-1.0 1.0l-1.0 -1.0zM180.6 744.9l1.0 1.0l-1.0 1.0l-1.0 -1.0zM183.9 745.3l1.0 1.0l-1.0 1.0l-1.0 -1.0zM187.1 744.1l1.0 1.0l-1.0 1.0l-1.0 -1.0zM190.4 743.9l1.0 1.0l-1.0 1.0l-1.0 -1.0zM193.7 743.4l1.0 1.0l-1.0 1.0l-1.0 -1.0zM196.9 744.9l1.0 1.0l-1.0 1.0l-1.0 -1.0zM200.2 746.9l1.0 1.0l-1.0 1.0l-1.0 -1.0zM203.4 743.0l1.0 1.0l-1.0 1.0l-1.0 -1.0zM206.7 747.3l1.0 1.0l-1.0 1.0l-1.0 -1.0zM210.0 745.2l1.0 1.0l-1.0 1.0l-1.0 -1.0zM213.2 745.0l1.0 1.0l-1.0 1.0l-1.0 -1.0zM216.5 748.2l1.0 1.0l-1.0 1.0l-1.0 -1.0zM219.7 746.1l1.0 1.0l-1.0 1.0l-1.0 -1.0zM223.0 745.0l1.0 1.0l-1.0 1.0l-1.0 -1.0zM226.3 746.1l1.0 1.0l-1.0 1.0l-1.0 -1.0zM229.5 747.5l1.0 1.0l-1.0 1.0l-1.0 -1.0zM232.8 743.4l1.0 1.0l-1.0 1.0l-1.0 -1.0zM236.0 749.2l1.0 1.0l-1.0 1.0l-1.0 -1.0zM239.3 743.1l1.0 1.0l-1.0 1.0l-1.0 -1.0zM242.6 747.8l1.0 1.0l-1.0 1.0l-1.0 -1.0zM245.8 748.4l1.0 1.0l-1.0 1.0l-1.0 -1.0zM249.1 743.1l1.0 1.0l-1.0 1.0l-1.0 -1.0zM252.3 748.0l1.0 1.0l-1.0 1.0l-1.0 -1.0zM255.6 745.3l1.0 1.0l-1.0 1.0l-1.0 -1.0zM258.9 746.7l1.0 1.0l-1.0 1.0l-1.0 -1.0zM262.1 743.1l1.0 1.0l-1.0 1.0l-1.0 -1.0zM265.4 743.3l1.0 1.0l-1.0 1.0l-1.0 -1.0zM268.6 744.2l1.0 1.0l-1.0 1.0l-1.0 -1.0zM271.9 749.1l1.0 1.0l-1.0 1.0l-1.0 -1.0zM275.2 744.3l1.0 1.0l-1.0 1.0l-1.0 -1.0zM278.4 747.8l1.0 1.0l-1.0 1.0l-1.0 -1.0zM281.7 748.9l1.0 1.0l-1.0 1.0l-1.0 -1.0zM284.9 749.0l1.0 1.0l-1.0 1.0l-1.0 -1.0zM288.2 745.2l1.0 1.0l-1.0 1.0l-1.0 -1.0zM291.5 745.3l1.0 1.0l-1.0 1.0l-1.0 -1.0zM294.7 746.4l1.0 1.0l-1.0 1.0l-1.0 -1.0zM298.0 748.0l1.0 1.0l-1.0 1.0l-1.0 -1.0zM301.2 743.7l1.0 1.0l-1.0 1.0l-1.0 -1.0zM304.5 747.8l1.0 1.0l-1.0 1.0l-1.0 -1.0zM307.8 748.1l1.0 1.0l-1.0 1.0l-1.0 -1.0zM311.0 748.5l1.0 1.0l-1.0 1.0l-1.0 -1.0zM314.3 743.2l1.0 1.0l-1.0 1.0l-1.0 -1.0zM317.5 749.1l1.0 1.0l-1.0 1.0l-1.0 -1.0zM320.8 743.6l1.0 1.0l-1.0 1.0l-1.0 -1.0zM324.1 745.2l1.0 1.0l-1.0 1.0l-1.0 -1.0zM327.3 746.9l1.0 1.0l-1.0 1.0l-1.0 -1.0zM330.6 748.9l1.0 1.0l-1.0 1.0l-1.0 -1.0zM333.8 745.2l1.0 1.0l-1.0 1.0l-1.0 -1.0zM337.1 748.9l1.0 1.0l-1.0 1.0l-1.0 -1.0zM340.4 746.5l1.0 1.0l-1.0 1.0l-1.0 -1.0zM343.6 745.0l1.0 1.0l-1.0 1.0l-1.0 -1.0zM346.9 745.0l1.0 1.0l-1.0 1.0l-1.0 -1.0zM350.1 744.1l1.0 1.0l-1.0 1.0l-1.0 -1.0zM353.4 743.5l1.0 1.0l-1.0 1.0l-1.0 -1.0zM356.7 744.0l1.0 1.0l-1.0 1.0l-1.0 -1.0zM359.9 747.4l1.0 1.0l-1.0 1.0l-1.0 -1.0zM363.2 749.4l1.0 1.0l-1.0 1.0l-1.0 -1.0zM366.4 744.0l1.0 1.0l-1.0 1.0l-1.0 -1.0zM369.7 743.3l1.0 1.0l-1.0 1.0l-1.0 -1.0z" fill="#f2b996"/>
<path d="M43.7 747.0 L47.0 747.5 L50.2 747.2 L53.7 748.4 L57.2 754.5 L60.7 756.3 L63.6 756.3 L67.2 752.8 L70.3 745.4 L73.6 754.2 L76.8 752.8 L80.3 749.3 L83.8 753.6 L87.0 754.5 L89.9 760.7 L93.1 761.5 L96.4 757.2 L99.6 763.3 L102.7 765.0 L106.0 762.4 L109.2 766.8 L112.7 768.9 L115.7 769.4 L119.2 772.0 L122.3 772.0 L125.5 777.0 L128.5 775.6 L132.0 775.6 L135.5 780.8 L138.6 782.2 L142.0 785.7 L145.1 784.3 L148.3 775.9 L151.4 790.4 L154.8 779.4 L158.0 788.5 L161.4 787.0 L164.8 788.8 L168.0 792.3 L171.3 792.6 L174.7 790.4 L178.1 794.5 L181.3 792.3 L184.5 790.4 L187.6 794.5 L190.8 790.4 L194.0 795.5 L197.4 798.0 L200.9 801.2 L204.1 805.0 L206.9 798.7 L210.4 800.2 L213.6 807.8 L216.4 808.8 L219.8 814.5 L223.1 811.2 L226.3 809.7 L229.7 813.5 L233.1 819.2 L236.4 821.1 L239.6 817.3 L242.6 816.4 L245.8 822.0 L249.1 815.4 L252.5 816.4 L255.3 820.7 L258.6 824.0 L262.0 826.8 L265.4 823.0 L268.6 828.5 L271.8 821.1 L275.3 822.0 L278.6 823.0 L281.6 831.1 L284.7 832.1 L287.9 837.4 L291.0 835.3 L294.6 846.8 L297.7 833.2 L300.9 834.9 L304.4 831.1 L307.8 832.8 L310.9 834.2 L314.1 846.8 L317.2 846.8 L320.4 843.7 L323.5 840.5 L327.1 845.8 L330.2 850.0 L333.4 853.1 L336.5 846.8 L339.6 848.3 L343.2 858.3 L346.4 859.4 L349.7 862.5 L352.9 863.6 L356.4 858.3 L359.6 852.0 L362.7 860.4 L365.8 860.0 L369.0 860.0" fill="none" stroke="#468dc7" stroke-width="0.9"/>
<path d="M47.0 743.9V751.1M45.7 743.9h2.6M45.7 751.1h2.6M50.2 744.4V750.0M48.9 744.4h2.6M48.9 750.0h2.6M53.7 743.8V753.0M52.4 743.8h2.6M52.4 753.0h2.6M57.2 751.7V757.3M55.9 751.7h2.6M55.9 757.3h2.6M60.7 754.3V758.3M59.4 754.3h2.6M59.4 758.3h2.6M63.6 751.7V760.9M62.3 751.7h2.6M62.3 760.9h2.6M67.2 748.2V757.4M65.9 748.2h2.6M65.9 757.4h2.6M70.3 741.8V749.0M69.0 741.8h2.6M69.0 749.0h2.6M73.6 749.6V758.8M72.3 749.6h2.6M72.3 758.8h2.6M76.8 750.8V754.8M75.5 750.8h2.6M75.5 754.8h2.6M80.3 746.5V752.1M79.0 746.5h2.6M79.0 752.1h2.6M83.8 750.8V756.4M82.5 750.8h2.6M82.5 756.4h2.6M87.0 750.9V758.1M85.7 750.9h2.6M85.7 758.1h2.6M89.9 758.7V762.7M88.6 758.7h2.6M88.6 762.7h2.6M93.1 757.9V765.1M91.8 757.9h2.6M91.8 765.1h2.6M96.4 752.6V761.8M95.1 752.6h2.6M95.1 761.8h2.6M99.6 759.7V766.9M98.3 759.7h2.6M98.3 766.9h2.6M102.7 760.4V769.6M101.4 760.4h2.6M101.4 769.6h2.6M106.0 760.4V764.4M104.7 760.4h2.6M104.7 764.4h2.6M109.2 763.2V770.4M107.9 763.2h2.6M107.9 770.4h2.6M112.7 766.9V770.9M111.4 766.9h2.6M111.4 770.9h2.6M115.7 765.8V773.0M114.4 765.8h2.6M114.4 773.0h2.6M119.2 770.0V774.0M117.9 770.0h2.6M117.9 774.0h2.6M122.3 768.4V775.6M121.0 768.4h2.6M121.0 775.6h2.6M125.5 773.4V780.6M124.2 773.4h2.6M124.2 780.6h2.6M128.5 772.0V779.2M127.2 772.0h2.6M127.2 779.2h2.6M132.0 772.0V779.2M130.7 772.0h2.6M130.7 779.2h2.6M135.5 778.0V783.6M134.2 778.0h2.6M134.2 783.6h2.6M138.6 777.6V786.8M137.3 777.6h2.6M137.3 786.8h2.6M142.0 781.1V790.3M140.7 781.1h2.6M140.7 790.3h2.6M145.1 780.7V787.9M143.8 780.7h2.6M143.8 787.9h2.6M148.3 771.3V780.5M147.0 771.3h2.6M147.0 780.5h2.6M151.4 787.6V793.2M150.1 787.6h2.6M150.1 793.2h2.6M154.8 776.6V782.2M153.5 776.6h2.6M153.5 782.2h2.6M158.0 783.9V793.1M156.7 783.9h2.6M156.7 793.1h2.6M161.4 782.4V791.6M160.1 782.4h2.6M160.1 791.6h2.6M164.8 786.0V791.6M163.5 786.0h2.6M163.5 791.6h2.6M168.0 789.5V795.1M166.7 789.5h2.6M166.7 795.1h2.6M171.3 790.6V794.6M170.0 790.6h2.6M170.0 794.6h2.6M174.7 786.8V794.0M173.4 786.8h2.6M173.4 794.0h2.6M178.1 792.5V796.5M176.8 792.5h2.6M176.8 796.5h2.6M181.3 787.7V796.9M180.0 787.7h2.6M180.0 796.9h2.6M184.5 788.4V792.4M183.2 788.4h2.6M183.2 792.4h2.6M187.6 790.9V798.1M186.3 790.9h2.6M186.3 798.1h2.6M190.8 787.6V793.2M189.5 787.6h2.6M189.5 793.2h2.6M194.0 791.9V799.1M192.7 791.9h2.6M192.7 799.1h2.6M197.4 793.4V802.6M196.1 793.4h2.6M196.1 802.6h2.6M200.9 796.6V805.8M199.6 796.6h2.6M199.6 805.8h2.6M204.1 800.4V809.6M202.8 800.4h2.6M202.8 809.6h2.6M206.9 795.9V801.5M205.6 795.9h2.6M205.6 801.5h2.6M210.4 795.6V804.8M209.1 795.6h2.6M209.1 804.8h2.6M213.6 804.2V811.4M212.3 804.2h2.6M212.3 811.4h2.6M216.4 804.2V813.4M215.1 804.2h2.6M215.1 813.4h2.6M219.8 809.9V819.1M218.5 809.9h2.6M218.5 819.1h2.6M223.1 806.6V815.8M221.8 806.6h2.6M221.8 815.8h2.6M226.3 806.9V812.5M225.0 806.9h2.6M225.0 812.5h2.6M229.7 809.9V817.1M228.4 809.9h2.6M228.4 817.1h2.6M233.1 815.6V822.8M231.8 815.6h2.6M231.8 822.8h2.6M236.4 816.5V825.7M235.1 816.5h2.6M235.1 825.7h2.6M239.6 813.7V820.9M238.3 813.7h2.6M238.3 820.9h2.6M242.6 811.8V821.0M241.3 811.8h2.6M241.3 821.0h2.6M245.8 820.0V824.0M244.5 820.0h2.6M244.5 824.0h2.6M249.1 811.8V819.0M247.8 811.8h2.6M247.8 819.0h2.6M252.5 812.8V820.0M251.2 812.8h2.6M251.2 820.0h2.6M255.3 816.1V825.3M254.0 816.1h2.6M254.0 825.3h2.6M258.6 820.4V827.6M257.3 820.4h2.6M257.3 827.6h2.6M262.0 824.0V829.6M260.7 824.0h2.6M260.7 829.6h2.6M265.4 818.4V827.6M264.1 818.4h2.6M264.1 827.6h2.6M268.6 826.5V830.5M267.3 826.5h2.6M267.3 830.5h2.6M271.8 819.1V823.1M270.5 819.1h2.6M270.5 823.1h2.6M275.3 817.4V826.6M274.0 817.4h2.6M274.0 826.6h2.6M278.6 820.2V825.8M277.3 820.2h2.6M277.3 825.8h2.6M281.6 827.5V834.7M280.3 827.5h2.6M280.3 834.7h2.6M284.7 830.1V834.1M283.4 830.1h2.6M283.4 834.1h2.6M287.9 834.6V840.2M286.6 834.6h2.6M286.6 840.2h2.6M291.0 830.7V839.9M289.7 830.7h2.6M289.7 839.9h2.6M294.6 844.8V848.8M293.3 844.8h2.6M293.3 848.8h2.6M297.7 828.6V837.8M296.4 828.6h2.6M296.4 837.8h2.6M300.9 831.3V838.5M299.6 831.3h2.6M299.6 838.5h2.6M304.4 828.3V833.9M303.1 828.3h2.6M303.1 833.9h2.6M307.8 828.2V837.4M306.5 828.2h2.6M306.5 837.4h2.6M310.9 832.2V836.2M309.6 832.2h2.6M309.6 836.2h2.6M314.1 844.0V849.6M312.8 844.0h2.6M312.8 849.6h2.6M317.2 842.2V851.4M315.9 842.2h2.6M315.9 851.4h2.6M320.4 840.1V847.3M319.1 840.1h2.6M319.1 847.3h2.6M323.5 837.7V843.3M322.2 837.7h2.6M322.2 843.3h2.6M327.1 842.2V849.4M325.8 842.2h2.6M325.8 849.4h2.6M330.2 846.4V853.6M328.9 846.4h2.6M328.9 853.6h2.6M333.4 848.5V857.7M332.1 848.5h2.6M332.1 857.7h2.6M336.5 842.2V851.4M335.2 842.2h2.6M335.2 851.4h2.6M339.6 846.3V850.3M338.3 846.3h2.6M338.3 850.3h2.6M343.2 856.3V860.3M341.9 856.3h2.6M341.9 860.3h2.6M346.4 856.6V862.2M345.1 856.6h2.6M345.1 862.2h2.6M349.7 858.9V866.1M348.4 858.9h2.6M348.4 866.1h2.6M352.9 860.0V867.2M351.6 860.0h2.6M351.6 867.2h2.6M356.4 854.7V861.9M355.1 854.7h2.6M355.1 861.9h2.6M359.6 848.4V855.6M358.3 848.4h2.6M358.3 855.6h2.6M362.7 858.4V862.4M361.4 858.4h2.6M361.4 862.4h2.6M365.8 855.4V864.6M364.5 855.4h2.6M364.5 864.6h2.6M369.0 856.4V863.6M367.7 856.4h2.6M367.7 863.6h2.6" fill="none" stroke="#468dc7" stroke-width="0.7"/>
<path d="M43.7 746.0l1.0 1.0l-1.0 1.0l-1.0 -1.0zM47.0 746.5l1.0 1.0l-1.0 1.0l-1.0 -1.0zM50.2 746.2l1.0 1.0l-1.0 1.0l-1.0 -1.0zM53.7 747.4l1.0 1.0l-1.0 1.0l-1.0 -1.0zM57.2 753.5l1.0 1.0l-1.0 1.0l-1.0 -1.0zM60.7 755.3l1.0 1.0l-1.0 1.0l-1.0 -1.0zM63.6 755.3l1.0 1.0l-1.0 1.0l-1.0 -1.0zM67.2 751.8l1.0 1.0l-1.0 1.0l-1.0 -1.0zM70.3 744.4l1.0 1.0l-1.0 1.0l-1.0 -1.0zM73.6 753.2l1.0 1.0l-1.0 1.0l-1.0 -1.0zM76.8 751.8l1.0 1.0l-1.0 1.0l-1.0 -1.0zM80.3 748.3l1.0 1.0l-1.0 1.0l-1.0 -1.0zM83.8 752.6l1.0 1.0l-1.0 1.0l-1.0 -1.0zM87.0 753.5l1.0 1.0l-1.0 1.0l-1.0 -1.0zM89.9 759.7l1.0 1.0l-1.0 1.0l-1.0 -1.0zM93.1 760.5l1.0 1.0l-1.0 1.0l-1.0 -1.0zM96.4 756.2l1.0 1.0l-1.0 1.0l-1.0 -1.0zM99.6 762.3l1.0 1.0l-1.0 1.0l-1.0 -1.0zM102.7 764.0l1.0 1.0l-1.0 1.0l-1.0 -1.0zM106.0 761.4l1.0 1.0l-1.0 1.0l-1.0 -1.0zM109.2 765.8l1.0 1.0l-1.0 1.0l-1.0 -1.0zM112.7 767.9l1.0 1.0l-1.0 1.0l-1.0 -1.0zM115.7 768.4l1.0 1.0l-1.0 1.0l-1.0 -1.0zM119.2 771.0l1.0 1.0l-1.0 1.0l-1.0 -1.0zM122.3 771.0l1.0 1.0l-1.0 1.0l-1.0 -1.0zM125.5 776.0l1.0 1.0l-1.0 1.0l-1.0 -1.0zM128.5 774.6l1.0 1.0l-1.0 1.0l-1.0 -1.0zM132.0 774.6l1.0 1.0l-1.0 1.0l-1.0 -1.0zM135.5 779.8l1.0 1.0l-1.0 1.0l-1.0 -1.0zM138.6 781.2l1.0 1.0l-1.0 1.0l-1.0 -1.0zM142.0 784.7l1.0 1.0l-1.0 1.0l-1.0 -1.0zM145.1 783.3l1.0 1.0l-1.0 1.0l-1.0 -1.0zM148.3 774.9l1.0 1.0l-1.0 1.0l-1.0 -1.0zM151.4 789.4l1.0 1.0l-1.0 1.0l-1.0 -1.0zM154.8 778.4l1.0 1.0l-1.0 1.0l-1.0 -1.0zM158.0 787.5l1.0 1.0l-1.0 1.0l-1.0 -1.0zM161.4 786.0l1.0 1.0l-1.0 1.0l-1.0 -1.0zM164.8 787.8l1.0 1.0l-1.0 1.0l-1.0 -1.0zM168.0 791.3l1.0 1.0l-1.0 1.0l-1.0 -1.0zM171.3 791.6l1.0 1.0l-1.0 1.0l-1.0 -1.0zM174.7 789.4l1.0 1.0l-1.0 1.0l-1.0 -1.0zM178.1 793.5l1.0 1.0l-1.0 1.0l-1.0 -1.0zM181.3 791.3l1.0 1.0l-1.0 1.0l-1.0 -1.0zM184.5 789.4l1.0 1.0l-1.0 1.0l-1.0 -1.0zM187.6 793.5l1.0 1.0l-1.0 1.0l-1.0 -1.0zM190.8 789.4l1.0 1.0l-1.0 1.0l-1.0 -1.0zM194.0 794.5l1.0 1.0l-1.0 1.0l-1.0 -1.0zM197.4 797.0l1.0 1.0l-1.0 1.0l-1.0 -1.0zM200.9 800.2l1.0 1.0l-1.0 1.0l-1.0 -1.0zM204.1 804.0l1.0 1.0l-1.0 1.0l-1.0 -1.0zM206.9 797.7l1.0 1.0l-1.0 1.0l-1.0 -1.0zM210.4 799.2l1.0 1.0l-1.0 1.0l-1.0 -1.0zM213.6 806.8l1.0 1.0l-1.0 1.0l-1.0 -1.0zM216.4 807.8l1.0 1.0l-1.0 1.0l-1.0 -1.0zM219.8 813.5l1.0 1.0l-1.0 1.0l-1.0 -1.0zM223.1 810.2l1.0 1.0l-1.0 1.0l-1.0 -1.0zM226.3 808.7l1.0 1.0l-1.0 1.0l-1.0 -1.0zM229.7 812.5l1.0 1.0l-1.0 1.0l-1.0 -1.0zM233.1 818.2l1.0 1.0l-1.0 1.0l-1.0 -1.0zM236.4 820.1l1.0 1.0l-1.0 1.0l-1.0 -1.0zM239.6 816.3l1.0 1.0l-1.0 1.0l-1.0 -1.0zM242.6 815.4l1.0 1.0l-1.0 1.0l-1.0 -1.0zM245.8 821.0l1.0 1.0l-1.0 1.0l-1.0 -1.0zM249.1 814.4l1.0 1.0l-1.0 1.0l-1.0 -1.0zM252.5 815.4l1.0 1.0l-1.0 1.0l-1.0 -1.0zM255.3 819.7l1.0 1.0l-1.0 1.0l-1.0 -1.0zM258.6 823.0l1.0 1.0l-1.0 1.0l-1.0 -1.0zM262.0 825.8l1.0 1.0l-1.0 1.0l-1.0 -1.0zM265.4 822.0l1.0 1.0l-1.0 1.0l-1.0 -1.0zM268.6 827.5l1.0 1.0l-1.0 1.0l-1.0 -1.0zM271.8 820.1l1.0 1.0l-1.0 1.0l-1.0 -1.0zM275.3 821.0l1.0 1.0l-1.0 1.0l-1.0 -1.0zM278.6 822.0l1.0 1.0l-1.0 1.0l-1.0 -1.0zM281.6 830.1l1.0 1.0l-1.0 1.0l-1.0 -1.0zM284.7 831.1l1.0 1.0l-1.0 1.0l-1.0 -1.0zM287.9 836.4l1.0 1.0l-1.0 1.0l-1.0 -1.0zM291.0 834.3l1.0 1.0l-1.0 1.0l-1.0 -1.0zM294.6 845.8l1.0 1.0l-1.0 1.0l-1.0 -1.0zM297.7 832.2l1.0 1.0l-1.0 1.0l-1.0 -1.0zM300.9 833.9l1.0 1.0l-1.0 1.0l-1.0 -1.0zM304.4 830.1l1.0 1.0l-1.0 1.0l-1.0 -1.0zM307.8 831.8l1.0 1.0l-1.0 1.0l-1.0 -1.0zM310.9 833.2l1.0 1.0l-1.0 1.0l-1.0 -1.0zM314.1 845.8l1.0 1.0l-1.0 1.0l-1.0 -1.0zM317.2 845.8l1.0 1.0l-1.0 1.0l-1.0 -1.0zM320.4 842.7l1.0 1.0l-1.0 1.0l-1.0 -1.0zM323.5 839.5l1.0 1.0l-1.0 1.0l-1.0 -1.0zM327.1 844.8l1.0 1.0l-1.0 1.0l-1.0 -1.0zM330.2 849.0l1.0 1.0l-1.0 1.0l-1.0 -1.0zM333.4 852.1l1.0 1.0l-1.0 1.0l-1.0 -1.0zM336.5 845.8l1.0 1.0l-1.0 1.0l-1.0 -1.0zM339.6 847.3l1.0 1.0l-1.0 1.0l-1.0 -1.0zM343.2 857.3l1.0 1.0l-1.0 1.0l-1.0 -1.0zM346.4 858.4l1.0 1.0l-1.0 1.0l-1.0 -1.0zM349.7 861.5l1.0 1.0l-1.0 1.0l-1.0 -1.0zM352.9 862.6l1.0 1.0l-1.0 1.0l-1.0 -1.0zM356.4 857.3l1.0 1.0l-1.0 1.0l-1.0 -1.0zM359.6 851.0l1.0 1.0l-1.0 1.0l-1.0 -1.0zM362.7 859.4l1.0 1.0l-1.0 1.0l-1.0 -1.0zM365.8 859.0l1.0 1.0l-1.0 1.0l-1.0 -1.0zM369.0 859.0l1.0 1.0l-1.0 1.0l-1.0 -1.0z" fill="#468dc7"/>
<path d="M44.1 730.3H372.6V883.8H44.1Z" fill="none" stroke="#1a1a1a" stroke-width="1.4"/>
<line x1="41.300000000000004" y1="747.0" x2="44.1" y2="747.0" stroke="#1a1a1a" stroke-width="1.1"/>
<text transform="translate(39.20 750.45) scale(1.0 1.1)" font-size="8.8" text-anchor="end" fill="#2a2522" font-weight="normal" >1.0</text>
<line x1="41.300000000000004" y1="781.35" x2="44.1" y2="781.35" stroke="#1a1a1a" stroke-width="1.1"/>
<text transform="translate(39.20 784.80) scale(1.0 1.1)" font-size="8.8" text-anchor="end" fill="#2a2522" font-weight="normal" >0.9</text>
<line x1="41.300000000000004" y1="815.7" x2="44.1" y2="815.7" stroke="#1a1a1a" stroke-width="1.1"/>
<text transform="translate(39.20 819.15) scale(1.0 1.1)" font-size="8.8" text-anchor="end" fill="#2a2522" font-weight="normal" >0.8</text>
<line x1="41.300000000000004" y1="850.05" x2="44.1" y2="850.05" stroke="#1a1a1a" stroke-width="1.1"/>
<text transform="translate(39.20 853.50) scale(1.0 1.1)" font-size="8.8" text-anchor="end" fill="#2a2522" font-weight="normal" >0.7</text>
<line x1="41.300000000000004" y1="884.4" x2="44.1" y2="884.4" stroke="#1a1a1a" stroke-width="1.1"/>
<text transform="translate(39.20 887.85) scale(1.0 1.1)" font-size="8.8" text-anchor="end" fill="#2a2522" font-weight="normal" >0.6</text>
<line x1="42.5" y1="764.1750000000001" x2="44.1" y2="764.1750000000001" stroke="#1a1a1a" stroke-width="1"/>
<line x1="42.5" y1="798.525" x2="44.1" y2="798.525" stroke="#1a1a1a" stroke-width="1"/>
<line x1="42.5" y1="832.875" x2="44.1" y2="832.875" stroke="#1a1a1a" stroke-width="1"/>
<line x1="42.5" y1="867.225" x2="44.1" y2="867.225" stroke="#1a1a1a" stroke-width="1"/>
<line x1="43.7" y1="883.8" x2="43.7" y2="886.5999999999999" stroke="#1a1a1a" stroke-width="1.1"/>
<text transform="translate(43.70 895.80) scale(1.0 1.1)" font-size="8.8" text-anchor="middle" fill="#2a2522" font-weight="normal" >0</text>
<line x1="108.89999999999999" y1="883.8" x2="108.89999999999999" y2="886.5999999999999" stroke="#1a1a1a" stroke-width="1.1"/>
<text transform="translate(108.90 895.80) scale(1.0 1.1)" font-size="8.8" text-anchor="middle" fill="#2a2522" font-weight="normal" >10</text>
<line x1="174.09999999999997" y1="883.8" x2="174.09999999999997" y2="886.5999999999999" stroke="#1a1a1a" stroke-width="1.1"/>
<text transform="translate(174.10 895.80) scale(1.0 1.1)" font-size="8.8" text-anchor="middle" fill="#2a2522" font-weight="normal" >20</text>
<line x1="239.3" y1="883.8" x2="239.3" y2="886.5999999999999" stroke="#1a1a1a" stroke-width="1.1"/>
<text transform="translate(239.30 895.80) scale(1.0 1.1)" font-size="8.8" text-anchor="middle" fill="#2a2522" font-weight="normal" >30</text>
<line x1="304.49999999999994" y1="883.8" x2="304.49999999999994" y2="886.5999999999999" stroke="#1a1a1a" stroke-width="1.1"/>
<text transform="translate(304.50 895.80) scale(1.0 1.1)" font-size="8.8" text-anchor="middle" fill="#2a2522" font-weight="normal" >40</text>
<line x1="369.7" y1="883.8" x2="369.7" y2="886.5999999999999" stroke="#1a1a1a" stroke-width="1.1"/>
<text transform="translate(369.70 895.80) scale(1.0 1.1)" font-size="8.8" text-anchor="middle" fill="#2a2522" font-weight="normal" >50</text>
<line x1="76.3" y1="883.8" x2="76.3" y2="885.4" stroke="#1a1a1a" stroke-width="1"/>
<line x1="141.5" y1="883.8" x2="141.5" y2="885.4" stroke="#1a1a1a" stroke-width="1"/>
<line x1="206.7" y1="883.8" x2="206.7" y2="885.4" stroke="#1a1a1a" stroke-width="1"/>
<line x1="271.9" y1="883.8" x2="271.9" y2="885.4" stroke="#1a1a1a" stroke-width="1"/>
<line x1="337.09999999999997" y1="883.8" x2="337.09999999999997" y2="885.4" stroke="#1a1a1a" stroke-width="1"/>
<text transform="translate(199.30 909.30) scale(1.0 1.1)" font-size="9.0" text-anchor="middle" fill="#231815" font-weight="normal" >Cycles</text>
<text transform="translate(17.2 815.4) scale(1 1.1) rotate(-90)" x="0" y="0" font-size="8.4" text-anchor="middle" fill="#231815">Normalized PCE (a.u.)</text>
<line x1="56.2" y1="860.9" x2="74.2" y2="860.9" stroke="#468dc7" stroke-width="0.85"/>
<path d="M65.2 859.5l1.4 1.4l-1.4 1.4l-1.4 -1.4z" fill="#468dc7"/>
<line x1="56.2" y1="873.2" x2="74.2" y2="873.2" stroke="#f2b996" stroke-width="0.85"/>
<path d="M65.2 871.8000000000001l1.4 1.4l-1.4 1.4l-1.4 -1.4z" fill="#f2b996"/>
<text transform="translate(76.40 863.70) scale(1.0 1.1)" font-size="8.9" text-anchor="start" fill="#231815" font-weight="normal" >Control</text>
<text transform="translate(76.40 876.10) scale(1.0 1.1)" font-size="8.9" text-anchor="start" fill="#231815" font-weight="normal" >Target</text>
<text x="55.2" y="791.4" font-size="9.1" font-weight="bold" fill="#231815">FAPbI<tspan font-size="4.8" dy="0.9">3</tspan></text>
<text transform="translate(335.70 768.20) scale(1.0 1.1)" font-size="9.1" text-anchor="start" fill="#231815" font-weight="normal" >&gt;95%</text>
<text transform="translate(335.50 839.90) scale(1.0 1.1)" font-size="9.1" text-anchor="start" fill="#231815" font-weight="normal" >~67%</text>
<text x="122.80" y="853.80" font-size="7.6" text-anchor="start" fill="#231815" font-weight="normal" >Power</text>
<text x="122.80" y="862.70" font-size="7.6" text-anchor="start" fill="#231815" font-weight="normal" >output</text>
<path d="M146.2 863.4H169.6V844.6H192.3V863.4H215.5V844.6H238.4V863.4" fill="none" stroke="#2a2a2a" stroke-width="0.9"/>
<path d="M146.2 868.1H252" fill="none" stroke="#2a2a2a" stroke-width="0.9"/><path d="M255 868.1l-3.5 -1.5v3z" fill="#2a2a2a"/>
<path d="M170.5 856.5H191.4M193.2 856.5H214.6" fill="none" stroke="#2a2a2a" stroke-width="0.7"/>
<path d="M169.8 856.5l2 -1v2zM191.6 856.5l-2 -1v2zM193 856.5l2 -1v2zM214.8 856.5l-2 -1v2z" fill="#2a2a2a"/>
<text x="181.00" y="854.60" font-size="7.6" text-anchor="middle" fill="#231815" font-weight="normal" >12 h</text>
<text x="204.00" y="854.60" font-size="7.6" text-anchor="middle" fill="#231815" font-weight="normal" >12 h</text>
<text x="201.50" y="879.00" font-size="8.0" text-anchor="middle" fill="#231815" font-weight="normal" >Time</text>
<circle cx="157.6" cy="835.8" r="3.7" fill="#8c8c8c"/><circle cx="160.2" cy="835.5" r="2.9" fill="#fff"/>
<circle cx="203.4" cy="835.8" r="3.7" fill="#8c8c8c"/><circle cx="206.0" cy="835.5" r="2.9" fill="#fff"/>
<circle cx="180.5" cy="835.8" r="5.6" fill="#fde3c4"/><circle cx="180.5" cy="835.8" r="4.9" fill="#f9c590"/><circle cx="180.5" cy="835.8" r="4.1" fill="#fff24e"/>
<circle cx="227.4" cy="835.8" r="5.6" fill="#fde3c4"/><circle cx="227.4" cy="835.8" r="4.9" fill="#f9c590"/><circle cx="227.4" cy="835.8" r="4.1" fill="#fff24e"/>
<rect x="445.2" y="366.9" width="33" height="118.1" fill="url(#gT)"/>
<rect x="478.2" y="446.9" width="33" height="38.1" fill="url(#gC)"/>
<rect x="527.4" y="364.2" width="33" height="120.8" fill="url(#gT)"/>
<rect x="560.4" y="429.0" width="33" height="56.0" fill="url(#gC)"/>
<rect x="610.1" y="376.1" width="33" height="108.9" fill="url(#gT)"/>
<rect x="643.1" y="472.2" width="33" height="12.8" fill="url(#gC)"/>
<line x1="436.9" y1="357.3" x2="683.9" y2="357.3" stroke="#8a8a8a" stroke-width="0.9" stroke-dasharray="3.6 2.4"/>
<text transform="translate(461.10 376.50) scale(1.0 1.1)" font-size="7.6" text-anchor="middle" fill="#231815" font-weight="normal" >&gt;96%</text>
<text transform="translate(494.30 456.10) scale(1.0 1.1)" font-size="7.6" text-anchor="middle" fill="#231815" font-weight="normal" >~65%</text>
<text transform="translate(543.30 373.81) scale(1.0 1.1)" font-size="7.6" text-anchor="middle" fill="#231815" font-weight="normal" >&gt;97%</text>
<text transform="translate(576.50 438.18) scale(1.0 1.1)" font-size="7.6" text-anchor="middle" fill="#231815" font-weight="normal" >~72%</text>
<text transform="translate(626.00 385.69) scale(1.0 1.1)" font-size="7.6" text-anchor="middle" fill="#231815" font-weight="normal" >&gt;92%</text>
<text transform="translate(659.20 481.44) scale(1.0 1.1)" font-size="7.6" text-anchor="middle" fill="#231815" font-weight="normal" >~55%</text>
<path d="M436.9 331.8H683.9V485.0H436.9Z" fill="none" stroke="#1a1a1a" stroke-width="1.4"/>
<line x1="434.09999999999997" y1="357.3" x2="436.9" y2="357.3" stroke="#1a1a1a" stroke-width="1.1"/>
<text transform="translate(431.50 360.75) scale(1.0 1.1)" font-size="8.8" text-anchor="end" fill="#2a2522" font-weight="normal" >100</text>
<line x1="434.09999999999997" y1="408.5" x2="436.9" y2="408.5" stroke="#1a1a1a" stroke-width="1.1"/>
<text transform="translate(431.50 411.95) scale(1.0 1.1)" font-size="8.8" text-anchor="end" fill="#2a2522" font-weight="normal" >80</text>
<line x1="434.09999999999997" y1="459.70000000000005" x2="436.9" y2="459.70000000000005" stroke="#1a1a1a" stroke-width="1.1"/>
<text transform="translate(431.50 463.15) scale(1.0 1.1)" font-size="8.8" text-anchor="end" fill="#2a2522" font-weight="normal" >60</text>
<line x1="435.29999999999995" y1="382.90000000000003" x2="436.9" y2="382.90000000000003" stroke="#1a1a1a" stroke-width="1"/>
<line x1="435.29999999999995" y1="434.1" x2="436.9" y2="434.1" stroke="#1a1a1a" stroke-width="1"/>
<line x1="478.2" y1="485.0" x2="478.2" y2="487.8" stroke="#1a1a1a" stroke-width="1.1"/>
<text transform="translate(479.20 498.80) scale(1.0 1.1)" font-size="9.0" text-anchor="middle" fill="#2a2522" font-weight="normal" >FAMA-</text>
<line x1="560.4" y1="485.0" x2="560.4" y2="487.8" stroke="#1a1a1a" stroke-width="1.1"/>
<text transform="translate(560.90 498.80) scale(1.0 1.1)" font-size="9.0" text-anchor="middle" fill="#2a2522" font-weight="normal" >FACs-</text>
<line x1="643.1" y1="485.0" x2="643.1" y2="487.8" stroke="#1a1a1a" stroke-width="1.1"/>
<text transform="translate(642.30 498.80) scale(1.0 1.1)" font-size="9.0" text-anchor="middle" fill="#2a2522" font-weight="normal" >FAMACs-</text>
<rect x="615.3" y="333.8" width="20.5" height="9.5" fill="url(#gT)"/>
<rect x="615.3" y="345.3" width="20.5" height="9.5" fill="url(#gC)"/>
<text transform="translate(638.30 341.10) scale(1.0 1.1)" font-size="9.0" text-anchor="start" fill="#231815" font-weight="normal" >Target</text>
<text transform="translate(637.90 352.90) scale(1.0 1.1)" font-size="9.0" text-anchor="start" fill="#231815" font-weight="normal" >Control</text>
<text transform="translate(680.00 366.30) scale(1.0 1.1)" font-size="7.5" text-anchor="end" fill="#231815" font-weight="normal" >100%</text>
<text transform="translate(411.0 404.3) scale(1 1.1) rotate(-90)" x="0" y="0" font-size="8.4" text-anchor="middle" fill="#231815">Retained PCE (%)</text>
<rect x="445.8" y="554.3" width="33" height="127.6" fill="url(#gT)"/>
<rect x="478.8" y="620.9" width="33" height="61.0" fill="url(#gC)"/>
<rect x="528.0" y="554.3" width="33" height="127.6" fill="url(#gT)"/>
<rect x="561.0" y="605.0" width="33" height="76.9" fill="url(#gC)"/>
<rect x="610.7" y="554.3" width="33" height="127.6" fill="url(#gT)"/>
<rect x="643.7" y="639.0" width="33" height="42.9" fill="url(#gC)"/>
<line x1="436.9" y1="553.8" x2="683.9" y2="553.8" stroke="#8a8a8a" stroke-width="0.9" stroke-dasharray="3.6 2.4"/>
<text transform="translate(461.70 563.91) scale(1.0 1.1)" font-size="7.6" text-anchor="middle" fill="#231815" font-weight="normal" >&gt;99%</text>
<text transform="translate(494.90 630.07) scale(1.0 1.1)" font-size="7.6" text-anchor="middle" fill="#231815" font-weight="normal" >~74%</text>
<text transform="translate(543.90 563.91) scale(1.0 1.1)" font-size="7.6" text-anchor="middle" fill="#231815" font-weight="normal" >&gt;99%</text>
<text transform="translate(577.10 614.20) scale(1.0 1.1)" font-size="7.6" text-anchor="middle" fill="#231815" font-weight="normal" >~80%</text>
<text transform="translate(626.60 563.91) scale(1.0 1.1)" font-size="7.6" text-anchor="middle" fill="#231815" font-weight="normal" >&gt;99%</text>
<text transform="translate(659.80 648.25) scale(1.0 1.1)" font-size="7.6" text-anchor="middle" fill="#231815" font-weight="normal" >~67%</text>
<path d="M436.9 528.2H683.9V681.9H436.9Z" fill="none" stroke="#1a1a1a" stroke-width="1.4"/>
<line x1="434.09999999999997" y1="553.8" x2="436.9" y2="553.8" stroke="#1a1a1a" stroke-width="1.1"/>
<text transform="translate(431.50 557.25) scale(1.0 1.1)" font-size="8.8" text-anchor="end" fill="#2a2522" font-weight="normal" >100</text>
<line x1="434.09999999999997" y1="605.0" x2="436.9" y2="605.0" stroke="#1a1a1a" stroke-width="1.1"/>
<text transform="translate(431.50 608.45) scale(1.0 1.1)" font-size="8.8" text-anchor="end" fill="#2a2522" font-weight="normal" >80</text>
<line x1="434.09999999999997" y1="656.1999999999999" x2="436.9" y2="656.1999999999999" stroke="#1a1a1a" stroke-width="1.1"/>
<text transform="translate(431.50 659.65) scale(1.0 1.1)" font-size="8.8" text-anchor="end" fill="#2a2522" font-weight="normal" >60</text>
<line x1="435.29999999999995" y1="579.4" x2="436.9" y2="579.4" stroke="#1a1a1a" stroke-width="1"/>
<line x1="435.29999999999995" y1="630.5999999999999" x2="436.9" y2="630.5999999999999" stroke="#1a1a1a" stroke-width="1"/>
<line x1="478.8" y1="681.9" x2="478.8" y2="684.6999999999999" stroke="#1a1a1a" stroke-width="1.1"/>
<text transform="translate(479.20 695.70) scale(1.0 1.1)" font-size="9.0" text-anchor="middle" fill="#2a2522" font-weight="normal" >FAMA-</text>
<line x1="561.0" y1="681.9" x2="561.0" y2="684.6999999999999" stroke="#1a1a1a" stroke-width="1.1"/>
<text transform="translate(560.90 695.70) scale(1.0 1.1)" font-size="9.0" text-anchor="middle" fill="#2a2522" font-weight="normal" >FACs-</text>
<line x1="643.7" y1="681.9" x2="643.7" y2="684.6999999999999" stroke="#1a1a1a" stroke-width="1.1"/>
<text transform="translate(642.30 695.70) scale(1.0 1.1)" font-size="9.0" text-anchor="middle" fill="#2a2522" font-weight="normal" >FAMACs-</text>
<rect x="615.3" y="530.2" width="20.5" height="9.5" fill="url(#gT)"/>
<rect x="615.3" y="541.7" width="20.5" height="9.5" fill="url(#gC)"/>
<text transform="translate(638.30 537.50) scale(1.0 1.1)" font-size="9.0" text-anchor="start" fill="#231815" font-weight="normal" >Target</text>
<text transform="translate(637.90 549.30) scale(1.0 1.1)" font-size="9.0" text-anchor="start" fill="#231815" font-weight="normal" >Control</text>
<text transform="translate(680.00 563.70) scale(1.0 1.1)" font-size="7.5" text-anchor="end" fill="#231815" font-weight="normal" >100%</text>
<text transform="translate(411.0 604.6) scale(1 1.1) rotate(-90)" x="0" y="0" font-size="8.4" text-anchor="middle" fill="#231815">Retained PCE (%)</text>
<rect x="445.2" y="761.8" width="33" height="122.4" fill="url(#gT)"/>
<rect x="478.2" y="823.0" width="33" height="61.2" fill="url(#gC)"/>
<rect x="527.4" y="761.8" width="33" height="122.4" fill="url(#gT)"/>
<rect x="560.4" y="793.8" width="33" height="90.4" fill="url(#gC)"/>
<rect x="610.1" y="756.4" width="33" height="127.8" fill="url(#gT)"/>
<rect x="643.1" y="841.9" width="33" height="42.3" fill="url(#gC)"/>
<line x1="436.9" y1="756.4" x2="683.9" y2="756.4" stroke="#8a8a8a" stroke-width="0.9" stroke-dasharray="3.6 2.4"/>
<text transform="translate(461.10 771.38) scale(1.0 1.1)" font-size="7.6" text-anchor="middle" fill="#231815" font-weight="normal" >&gt;98%</text>
<text transform="translate(494.30 832.16) scale(1.0 1.1)" font-size="7.6" text-anchor="middle" fill="#231815" font-weight="normal" >~74%</text>
<text transform="translate(543.30 771.38) scale(1.0 1.1)" font-size="7.6" text-anchor="middle" fill="#231815" font-weight="normal" >&gt;98%</text>
<text transform="translate(576.50 802.98) scale(1.0 1.1)" font-size="7.6" text-anchor="middle" fill="#231815" font-weight="normal" >~86%</text>
<text transform="translate(626.00 766.00) scale(1.0 1.1)" font-size="7.6" text-anchor="middle" fill="#231815" font-weight="normal" >&gt;99%</text>
<text transform="translate(659.20 851.10) scale(1.0 1.1)" font-size="7.6" text-anchor="middle" fill="#231815" font-weight="normal" >~67%</text>
<path d="M436.9 731.3H683.9V884.2H436.9Z" fill="none" stroke="#1a1a1a" stroke-width="1.4"/>
<line x1="434.09999999999997" y1="756.4" x2="436.9" y2="756.4" stroke="#1a1a1a" stroke-width="1.1"/>
<text transform="translate(431.50 759.85) scale(1.0 1.1)" font-size="8.8" text-anchor="end" fill="#2a2522" font-weight="normal" >100</text>
<line x1="434.09999999999997" y1="807.6" x2="436.9" y2="807.6" stroke="#1a1a1a" stroke-width="1.1"/>
<text transform="translate(431.50 811.05) scale(1.0 1.1)" font-size="8.8" text-anchor="end" fill="#2a2522" font-weight="normal" >80</text>
<line x1="434.09999999999997" y1="858.8" x2="436.9" y2="858.8" stroke="#1a1a1a" stroke-width="1.1"/>
<text transform="translate(431.50 862.25) scale(1.0 1.1)" font-size="8.8" text-anchor="end" fill="#2a2522" font-weight="normal" >60</text>
<line x1="435.29999999999995" y1="782.0" x2="436.9" y2="782.0" stroke="#1a1a1a" stroke-width="1"/>
<line x1="435.29999999999995" y1="833.1999999999999" x2="436.9" y2="833.1999999999999" stroke="#1a1a1a" stroke-width="1"/>
<line x1="478.2" y1="884.2" x2="478.2" y2="887.0" stroke="#1a1a1a" stroke-width="1.1"/>
<text transform="translate(479.20 898.00) scale(1.0 1.1)" font-size="9.0" text-anchor="middle" fill="#2a2522" font-weight="normal" >FAMA-</text>
<line x1="560.4" y1="884.2" x2="560.4" y2="887.0" stroke="#1a1a1a" stroke-width="1.1"/>
<text transform="translate(560.90 898.00) scale(1.0 1.1)" font-size="9.0" text-anchor="middle" fill="#2a2522" font-weight="normal" >FACs-</text>
<line x1="643.1" y1="884.2" x2="643.1" y2="887.0" stroke="#1a1a1a" stroke-width="1.1"/>
<text transform="translate(642.30 898.00) scale(1.0 1.1)" font-size="9.0" text-anchor="middle" fill="#2a2522" font-weight="normal" >FAMACs-</text>
<rect x="615.3" y="733.1" width="20.5" height="9.5" fill="url(#gT)"/>
<rect x="615.3" y="744.6" width="20.5" height="9.5" fill="url(#gC)"/>
<text transform="translate(638.30 740.40) scale(1.0 1.1)" font-size="9.0" text-anchor="start" fill="#231815" font-weight="normal" >Target</text>
<text transform="translate(637.90 752.20) scale(1.0 1.1)" font-size="9.0" text-anchor="start" fill="#231815" font-weight="normal" >Control</text>
<text transform="translate(680.00 766.00) scale(1.0 1.1)" font-size="7.5" text-anchor="end" fill="#231815" font-weight="normal" >100%</text>
<text transform="translate(411.0 809.1) scale(1 1.1) rotate(-90)" x="0" y="0" font-size="8.4" text-anchor="middle" fill="#231815">Retained PCE (%)</text>
</svg>
</body></html>
